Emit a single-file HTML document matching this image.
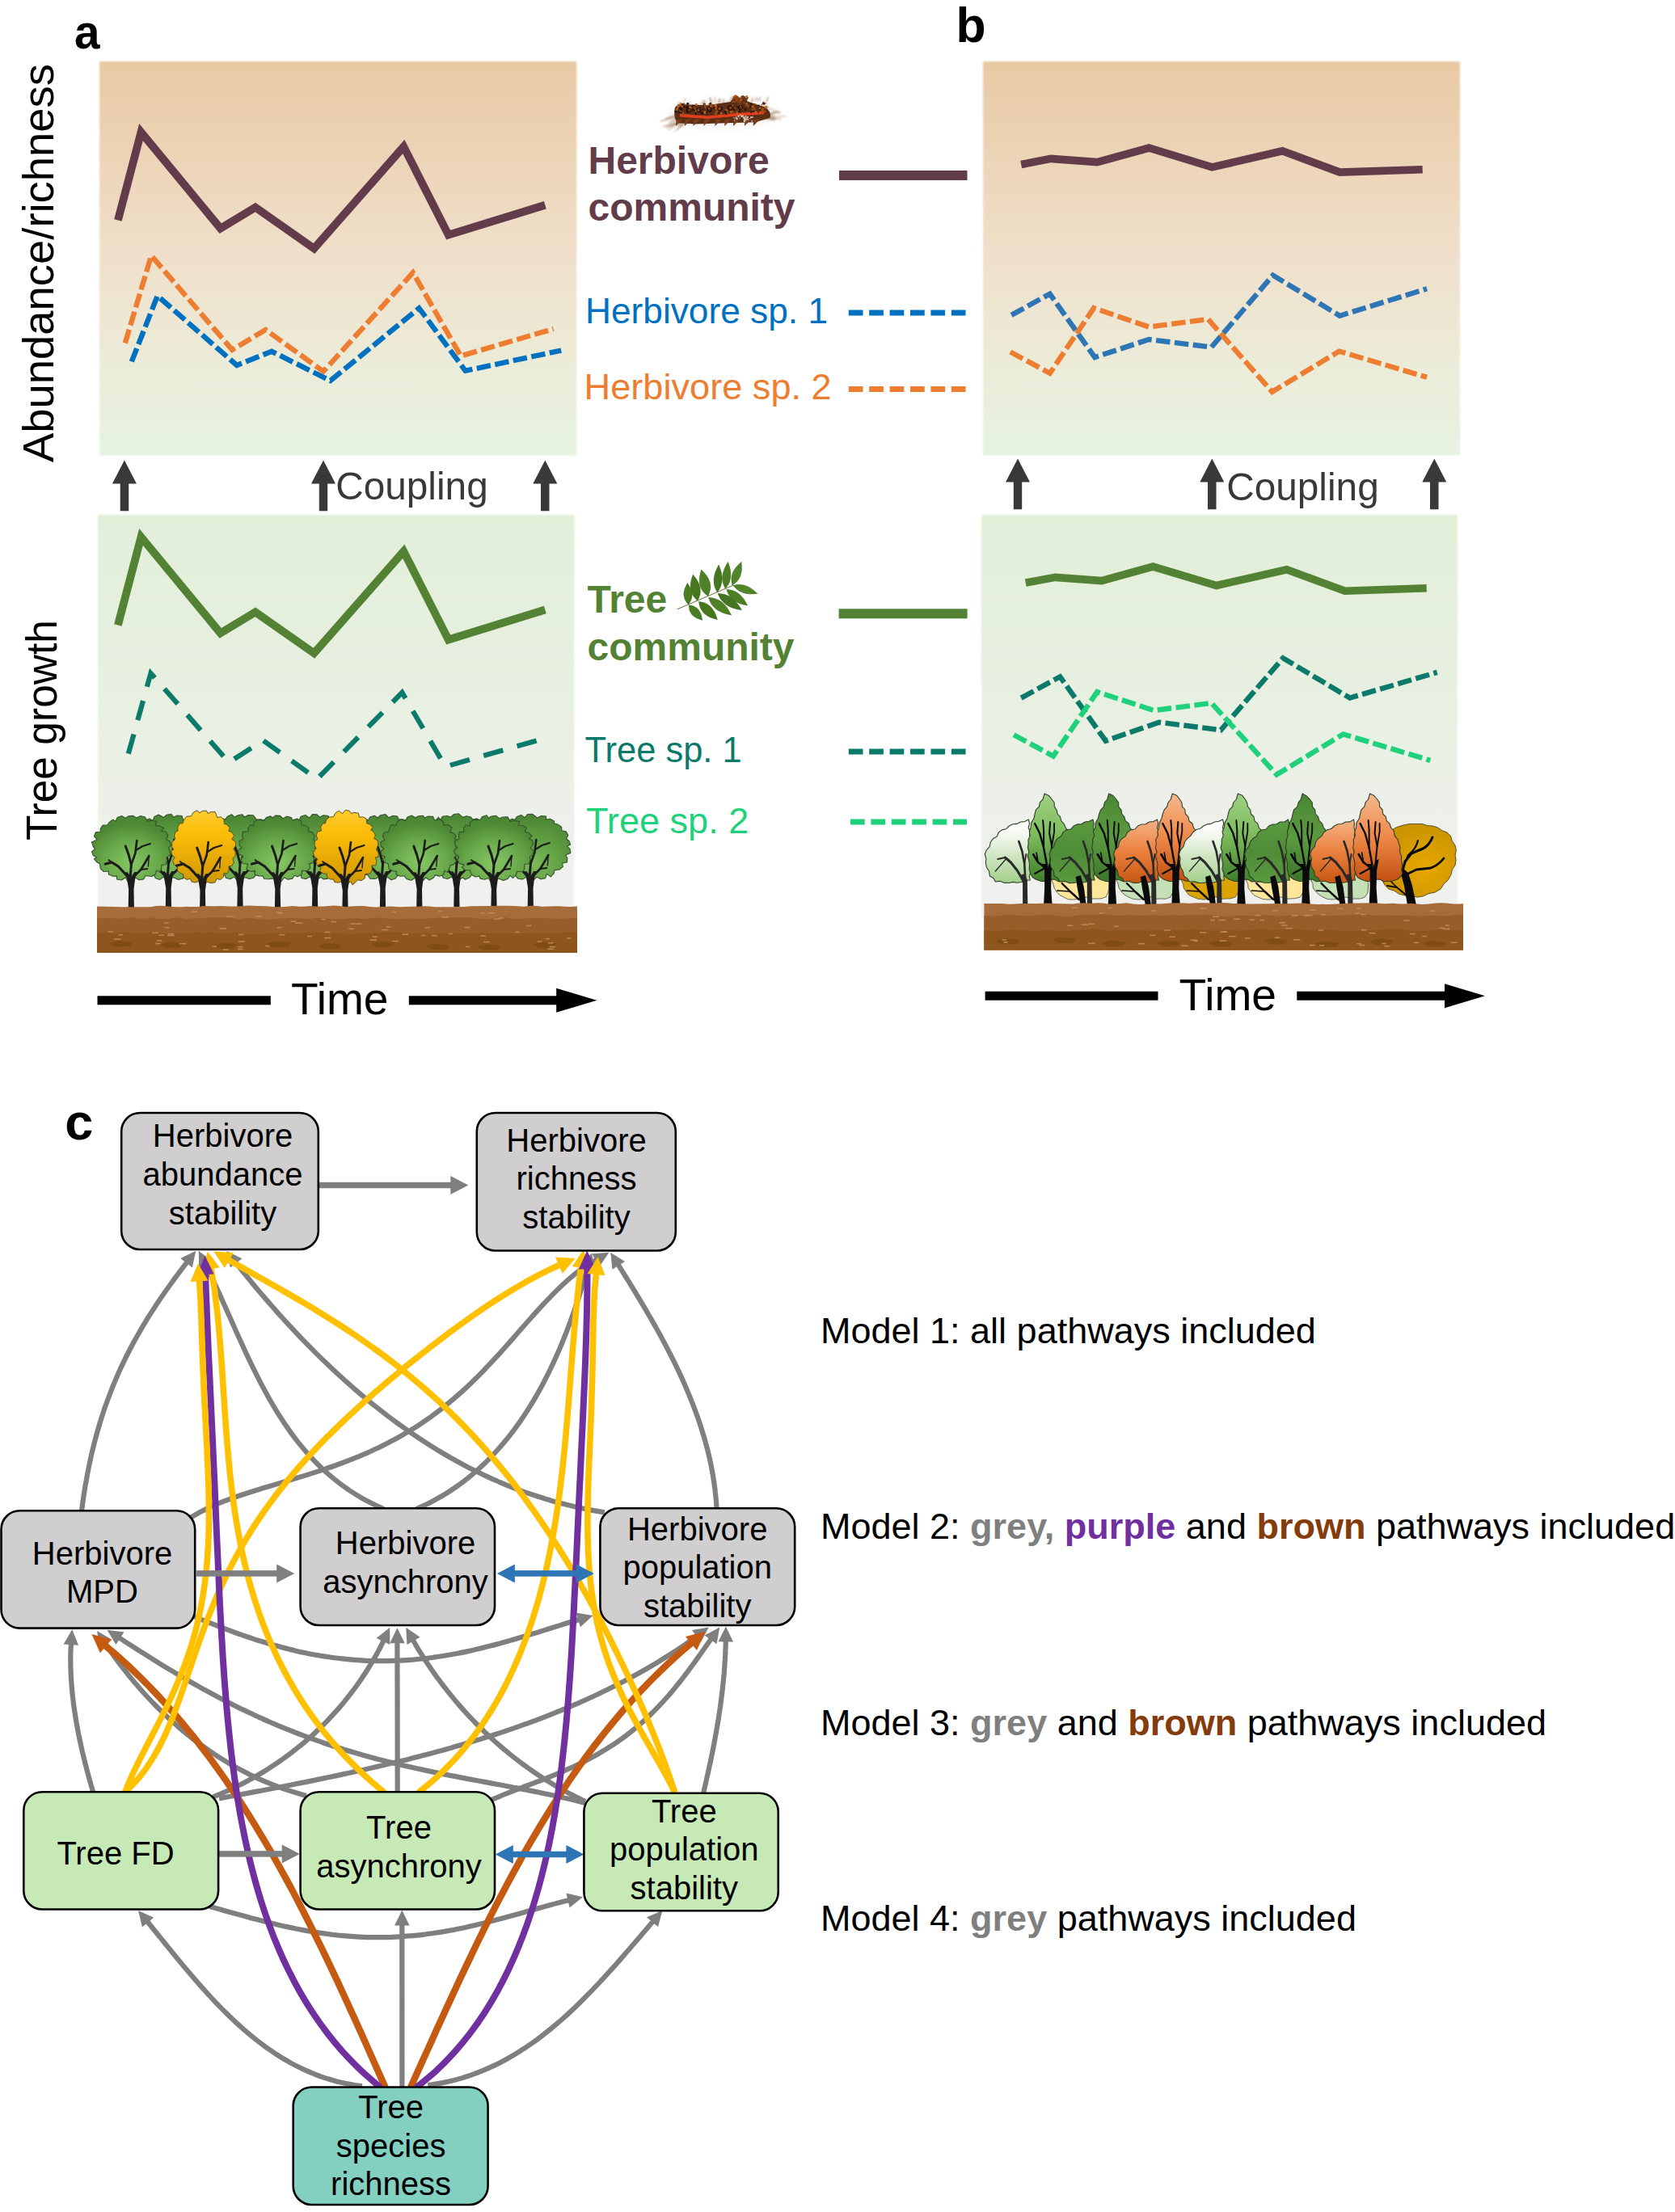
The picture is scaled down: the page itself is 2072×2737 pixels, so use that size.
<!DOCTYPE html>
<html><head><meta charset="utf-8"><title>Figure</title>
<style>
html,body{margin:0;padding:0;background:#fff;}
svg{display:block;}
text{font-family:'Liberation Sans', Arial, Helvetica, sans-serif;}
</style></head><body>
<svg width="2072" height="2737" viewBox="0 0 2072 2737">
<defs>
<linearGradient id="gTop" x1="0" y1="0" x2="0" y2="1">
  <stop offset="0" stop-color="#e8c9a4"/>
  <stop offset="0.5" stop-color="#f0e0cb"/>
  <stop offset="0.78" stop-color="#ebecd9"/>
  <stop offset="1" stop-color="#e6f3e1"/>
</linearGradient>
<linearGradient id="gBot" x1="0" y1="0" x2="0" y2="1">
  <stop offset="0" stop-color="#e2efd9"/>
  <stop offset="0.5" stop-color="#e8f0e2"/>
  <stop offset="0.72" stop-color="#edf0e9"/>
  <stop offset="0.86" stop-color="#f0f0ee"/>
  <stop offset="1" stop-color="#f1f1ef"/>
</linearGradient>
<filter id="soft" x="-2%" y="-2%" width="104%" height="104%"><feGaussianBlur stdDeviation="1.2"/></filter>

<radialGradient id="cgGreen" cx="0.5" cy="0.72" r="0.62">
  <stop offset="0" stop-color="#86c765"/><stop offset="0.55" stop-color="#69a84a"/><stop offset="1" stop-color="#4c8734"/>
</radialGradient>
<radialGradient id="cgGreenB" cx="0.5" cy="0.75" r="0.7">
  <stop offset="0" stop-color="#7dbc5c"/><stop offset="0.6" stop-color="#5f9d42"/><stop offset="1" stop-color="#4c8734"/>
</radialGradient>
<linearGradient id="cgYellow" x1="0" y1="0" x2="0" y2="1">
  <stop offset="0" stop-color="#ffcb2e"/><stop offset="0.3" stop-color="#fdbd0a"/><stop offset="1" stop-color="#cf9600"/>
</linearGradient>
<linearGradient id="tLight" x1="0" y1="0" x2="0" y2="1">
  <stop offset="0" stop-color="#9fd083"/><stop offset="0.45" stop-color="#7fbd5f"/><stop offset="1" stop-color="#3f7f2b"/>
</linearGradient>
<linearGradient id="tDark" x1="0" y1="0" x2="0" y2="1">
  <stop offset="0" stop-color="#4b8733"/><stop offset="0.5" stop-color="#5c9a40"/><stop offset="1" stop-color="#3b762a"/>
</linearGradient>
<linearGradient id="tOrange" x1="0" y1="0" x2="0" y2="1">
  <stop offset="0" stop-color="#f5b98f"/><stop offset="0.5" stop-color="#ee8848"/><stop offset="1" stop-color="#c2500f"/>
</linearGradient>
<linearGradient id="mWhite" x1="0" y1="0" x2="0" y2="1">
  <stop offset="0" stop-color="#ffffff"/><stop offset="0.25" stop-color="#f3f8ef"/><stop offset="1" stop-color="#a3cf8a"/>
</linearGradient>
<linearGradient id="mDark" x1="0" y1="0" x2="0" y2="1">
  <stop offset="0" stop-color="#5b9a40"/><stop offset="0.5" stop-color="#4f8c37"/><stop offset="1" stop-color="#5a993f"/>
</linearGradient>
<linearGradient id="mOrange" x1="0" y1="0" x2="0" y2="1">
  <stop offset="0" stop-color="#f4b386"/><stop offset="0.5" stop-color="#ec8140"/><stop offset="1" stop-color="#c5560f"/>
</linearGradient>
<radialGradient id="bushGold" cx="0.6" cy="0.6" r="0.6">
  <stop offset="0" stop-color="#e8a700"/><stop offset="1" stop-color="#c99400"/>
</radialGradient>
<filter id="fuzz" x="-20%" y="-50%" width="140%" height="200%"><feGaussianBlur stdDeviation="0.9"/></filter><filter id="fuzz2" x="-10%" y="-30%" width="120%" height="160%"><feGaussianBlur stdDeviation="0.45"/></filter><filter id="shadow" x="-20%" y="-80%" width="140%" height="260%"><feGaussianBlur stdDeviation="5"/></filter></defs>
<rect width="2072" height="2737" fill="#fff"/>
<rect x="123" y="76" width="590.3" height="487.5" fill="url(#gTop)" filter="url(#soft)"/>
<rect x="121" y="637" width="589.3" height="500" fill="url(#gBot)" filter="url(#soft)"/>
<rect x="1216" y="76" width="590" height="487.5" fill="url(#gTop)" filter="url(#soft)"/>
<rect x="1214" y="637" width="589" height="500" fill="url(#gBot)" filter="url(#soft)"/>
<text x="92.0" y="60.0" font-size="60" fill="#000" font-weight="bold" text-anchor="start" textLength="31.5" lengthAdjust="spacingAndGlyphs">a</text>
<text x="1182.4" y="51.7" font-size="60.6" fill="#000" font-weight="bold" text-anchor="start" >b</text>
<text x="80.3" y="1409.5" font-size="63" fill="#000" font-weight="bold" text-anchor="start" >c</text>
<text transform="translate(66,572) rotate(-90)" font-size="54" textLength="493" lengthAdjust="spacingAndGlyphs">Abundance/richness</text>
<text transform="translate(69.5,1040) rotate(-90)" font-size="54" textLength="273" lengthAdjust="spacingAndGlyphs">Tree growth</text>
<polyline points="145.9,272.6 174.5,163.6 272.7,282.6 315.9,256.6 388.5,307.5 499.3,181.4 554.7,290.7 674.3,253.7" fill="none" stroke="#623c4b" stroke-width="9.8" stroke-linejoin="miter" stroke-linecap="butt" stroke-miterlimit="10"/>
<polyline points="162.8,447.4 194.8,366.0 293.0,452.0 336.1,434.8 408.7,471.0 518.4,381.3 575.7,458.8 694.2,433.6" fill="none" stroke="#0070c0" stroke-width="6.4" stroke-linejoin="miter" stroke-linecap="butt" stroke-miterlimit="10" stroke-dasharray="17.5 5.5"/>
<polyline points="154.8,424.5 187.1,316.3 287.2,432.8 328.5,408.0 400.0,459.6 510.8,337.3 570.0,440.5 684.6,406.9" fill="none" stroke="#ed7d31" stroke-width="6.4" stroke-linejoin="miter" stroke-linecap="butt" stroke-miterlimit="10" stroke-dasharray="17.5 5.5"/>
<polyline points="145.9,773.4 174.5,664.4 272.7,783.4 315.9,757.4 388.5,808.3 499.3,682.2 554.7,791.5 674.3,754.5" fill="none" stroke="#548235" stroke-width="9.8" stroke-linejoin="miter" stroke-linecap="butt" stroke-miterlimit="10"/>
<polyline points="158.8,932.6 186.5,833.0 283.2,943.4 325.4,916.1 392.3,963.9 497.4,856.9 550.9,948.6 664.7,916.1" fill="none" stroke="#0b7a6b" stroke-width="6.2" stroke-linejoin="miter" stroke-linecap="butt" stroke-miterlimit="10" stroke-dasharray="25 18"/>
<polyline points="1263.2,203.5 1300.0,196.4 1357.3,200.6 1421.2,183.0 1499.3,206.9 1586.3,186.8 1657.3,213.1 1759.7,209.8" fill="none" stroke="#623c4b" stroke-width="9.6" stroke-linejoin="miter" stroke-linecap="butt" stroke-miterlimit="10"/>
<polyline points="1251.1,389.9 1298.7,363.6 1354.3,442.1 1421.2,420.0 1498.5,429.6 1574.6,340.6 1657.3,390.7 1765.1,357.3" fill="none" stroke="#2e75b6" stroke-width="6.4" stroke-linejoin="miter" stroke-linecap="butt" stroke-miterlimit="10" stroke-dasharray="17.5 5.5"/>
<polyline points="1249.8,435.5 1298.7,461.8 1353.1,381.1 1421.2,404.5 1494.3,394.9 1573.7,484.8 1656.5,434.6 1765.1,466.8" fill="none" stroke="#ed7d31" stroke-width="6.4" stroke-linejoin="miter" stroke-linecap="butt" stroke-miterlimit="10" stroke-dasharray="17.5 5.5"/>
<polyline points="1268.7,721.1 1305.4,714.4 1362.7,718.6 1426.2,701.1 1504.8,724.5 1591.7,704.8 1663.6,731.2 1764.7,727.8" fill="none" stroke="#548235" stroke-width="9.6" stroke-linejoin="miter" stroke-linecap="butt" stroke-miterlimit="10"/>
<polyline points="1263.2,863.6 1311.3,837.3 1367.7,916.7 1433.7,893.7 1510.2,903.3 1587.1,814.3 1669.8,863.6 1777.7,831.9" fill="none" stroke="#0b7a6b" stroke-width="6.4" stroke-linejoin="miter" stroke-linecap="butt" stroke-miterlimit="10" stroke-dasharray="17.5 5.5"/>
<polyline points="1254.0,909.2 1302.9,935.5 1357.2,856.1 1427.5,879.1 1498.5,869.9 1579.2,958.5 1661.5,908.4 1769.3,940.9" fill="none" stroke="#1fd17a" stroke-width="6.4" stroke-linejoin="miter" stroke-linecap="butt" stroke-miterlimit="10" stroke-dasharray="17.5 5.5"/>
<polygon points="153.9,569.6 168.9,598.6 159.2,598.6 159.2,632.3 148.7,632.3 148.7,598.6 138.9,598.6" fill="#3b3838"/>
<polygon points="400.0,569.6 415.0,598.6 405.2,598.6 405.2,632.3 394.8,632.3 394.8,598.6 385.0,598.6" fill="#3b3838"/>
<polygon points="674.3,569.6 689.3,598.6 679.5,598.6 679.5,632.3 669.0,632.3 669.0,598.6 659.3,598.6" fill="#3b3838"/>
<polygon points="1259.0,567.5 1274.0,596.5 1264.2,596.5 1264.2,630.2 1253.8,630.2 1253.8,596.5 1244.0,596.5" fill="#3b3838"/>
<polygon points="1499.3,567.5 1514.3,596.5 1504.5,596.5 1504.5,630.2 1494.0,630.2 1494.0,596.5 1484.3,596.5" fill="#3b3838"/>
<polygon points="1774.3,567.5 1789.3,596.5 1779.5,596.5 1779.5,630.2 1769.0,630.2 1769.0,596.5 1759.3,596.5" fill="#3b3838"/>
<text x="415.2" y="618.3" font-size="48.6" fill="#3b3838" font-weight="normal" text-anchor="start" textLength="188.5" lengthAdjust="spacingAndGlyphs">Coupling</text>
<text x="1517.2" y="618.8" font-size="48.6" fill="#3b3838" font-weight="normal" text-anchor="start" textLength="188.5" lengthAdjust="spacingAndGlyphs">Coupling</text>
<text x="727.5" y="215.1" font-size="48" fill="#623c4b" font-weight="bold" text-anchor="start" >Herbivore</text>
<text x="727.5" y="273.1" font-size="48" fill="#623c4b" font-weight="bold" text-anchor="start" >community</text>
<rect x="1038" y="211" width="158.5" height="12" fill="#623c4b"/>
<text x="724.0" y="399.8" font-size="44.25" fill="#0070c0" font-weight="normal" text-anchor="start" >Herbivore sp. 1</text>
<text x="722.6" y="494.3" font-size="45.15" fill="#ed7d31" font-weight="normal" text-anchor="start" >Herbivore sp. 2</text>
<line x1="1049.8" y1="386.9" x2="1195" y2="386.9" stroke="#0070c0" stroke-width="7" stroke-dasharray="17.7 7.7"/>
<line x1="1049.8" y1="481.4" x2="1195" y2="481.4" stroke="#ed7d31" stroke-width="7" stroke-dasharray="17.7 7.7"/>
<text x="726.5" y="757.7" font-size="48" fill="#548235" font-weight="bold" text-anchor="start" >Tree</text>
<text x="726.5" y="817.0" font-size="48" fill="#548235" font-weight="bold" text-anchor="start" >community</text>
<rect x="1037.6" y="753.3" width="159" height="12" fill="#548235"/>
<text x="723.5" y="942.7" font-size="43.5" fill="#0b7a6b" font-weight="normal" text-anchor="start" >Tree sp. 1</text>
<text x="725.0" y="1030.8" font-size="45.1" fill="#1fd17a" font-weight="normal" text-anchor="start" >Tree sp. 2</text>
<line x1="1049.8" y1="929.9" x2="1194.5" y2="929.9" stroke="#0b7a6b" stroke-width="7" stroke-dasharray="17.7 7.7"/>
<line x1="1052" y1="1016.9" x2="1196" y2="1016.9" stroke="#1fd17a" stroke-width="7" stroke-dasharray="17.7 7.7"/>
<rect x="120.5" y="1232.3" width="214.3" height="11" fill="#000"/>
<rect x="505.8" y="1232.3" width="183.40000000000003" height="11" fill="#000"/>
<polygon points="688.2,1222.8 738.3,1237.8 688.2,1252.8" fill="#000"/>
<text x="360.0" y="1254.7" font-size="55.5" fill="#000" font-weight="normal" text-anchor="start" textLength="120.5" lengthAdjust="spacingAndGlyphs">Time</text>
<rect x="1218.6" y="1226.7" width="213.9000000000001" height="11" fill="#000"/>
<rect x="1604.3" y="1226.7" width="183.70000000000005" height="11" fill="#000"/>
<polygon points="1787,1217.2 1836.9,1232.2 1787,1247.2" fill="#000"/>
<text x="1458.5" y="1249.6" font-size="55.5" fill="#000" font-weight="normal" text-anchor="start" textLength="120.5" lengthAdjust="spacingAndGlyphs">Time</text>
<path d="M254.3,1047.5 L257.7,1050.9 L257.4,1055.8 L252.9,1058.3 L255.1,1062.5 L252.9,1067.0 L246.5,1068.4 L246.5,1072.4 L243.9,1076.9 L237.8,1076.3 L237.6,1081.5 L232.4,1083.8 L228.1,1081.5 L226.4,1086.9 L220.8,1088.5 L214.2,1085.6 L210.4,1087.8 L204.6,1088.8 L202.6,1084.9 L197.7,1088.4 L192.2,1086.6 L190.9,1083.1 L186.4,1083.3 L180.1,1082.5 L179.4,1076.8 L174.4,1076.3 L169.8,1073.3 L172.1,1068.9 L165.7,1068.2 L163.7,1063.6 L165.8,1058.1 L160.1,1055.8 L158.8,1050.9 L163.4,1047.7 L160.4,1044.2 L160.3,1039.3 L165.3,1038.8 L162.5,1034.6 L165.4,1030.3 L171.2,1027.0 L171.5,1023.0 L174.9,1019.1 L179.4,1020.4 L179.6,1015.2 L184.8,1012.9 L189.1,1015.4 L190.9,1010.6 L196.2,1008.0 L202.5,1011.4 L206.1,1008.2 L212.0,1007.2 L214.5,1011.2 L219.0,1009.0 L225.0,1009.5 L226.5,1014.5 L231.7,1013.2 L237.8,1014.3 L238.2,1019.8 L243.1,1020.3 L247.2,1023.7 L246.5,1027.0 L251.7,1028.3 L254.2,1032.7 L252.6,1038.3 L257.5,1040.8 L259.1,1045.6Z" fill="url(#cgGreenB)" stroke="#35522a" stroke-width="1.1" stroke-linejoin="round"/>
<g stroke="#1c1c1c" fill="none" stroke-linecap="round" stroke-linejoin="round"><polygon fill="#1c1c1c" stroke="none" points="204.8,1122.0 205.2,1099.0 202.9,1085.0 199.4,1079.0 203.4,1078.0 208.4,1084.0 212.4,1078.0 216.4,1078.0 213.4,1085.0 211.6,1099.0 212.0,1122.0"/><path d="M203.4,1083.0 L192.4,1071.0 L184.4,1066.0 L176.4,1068.0" stroke-width="3.2"/><path d="M184.4,1066.0 L180.4,1063.0" stroke-width="1.8"/><path d="M207.4,1083.0 L208.4,1069.0 L205.4,1057.0 L201.4,1046.0" stroke-width="3.0"/><path d="M208.4,1069.0 L213.4,1055.0 L215.4,1039.0" stroke-width="2.6"/><path d="M214.4,1051.0 L222.4,1046.0 L231.9,1043.0" stroke-width="2.2"/><path d="M212.4,1083.0 L220.4,1075.0 L226.4,1065.0 L230.4,1058.0" stroke-width="2.6"/><path d="M220.4,1075.0 L228.4,1074.0" stroke-width="2.0"/><path d="M230.4,1058.0 L229.4,1071.0" stroke-width="1.4"/></g>
<path d="M343.3,1049.5 L346.6,1053.1 L344.6,1057.7 L340.6,1059.1 L342.7,1063.2 L340.2,1067.6 L335.9,1067.9 L336.1,1072.0 L333.4,1076.4 L327.7,1075.4 L327.6,1080.4 L322.8,1083.3 L316.4,1082.7 L313.7,1086.1 L308.2,1087.5 L303.1,1085.6 L299.3,1088.9 L293.4,1089.4 L289.7,1085.0 L284.8,1087.7 L279.3,1086.1 L278.4,1082.5 L273.6,1083.0 L268.6,1080.6 L267.8,1076.9 L262.6,1076.6 L258.4,1073.2 L259.7,1068.1 L254.9,1066.6 L251.6,1062.5 L254.4,1058.0 L250.5,1055.4 L249.1,1050.7 L252.8,1049.6 L248.8,1046.2 L248.2,1041.2 L254.3,1038.3 L252.5,1034.4 L254.1,1029.7 L260.0,1027.6 L260.0,1023.5 L263.6,1019.7 L268.4,1019.5 L269.3,1014.9 L274.6,1012.7 L278.6,1013.9 L281.3,1010.3 L286.5,1007.7 L289.9,1010.9 L293.7,1009.1 L299.5,1007.7 L302.5,1010.9 L307.0,1008.6 L313.1,1008.7 L317.4,1014.2 L322.3,1013.7 L328.2,1015.3 L327.5,1020.7 L333.7,1020.3 L337.1,1024.3 L334.4,1027.9 L339.9,1028.9 L342.6,1033.2 L341.8,1038.8 L344.8,1041.7 L345.9,1046.4Z" fill="url(#cgGreenB)" stroke="#35522a" stroke-width="1.1" stroke-linejoin="round"/>
<g stroke="#1c1c1c" fill="none" stroke-linecap="round" stroke-linejoin="round"><polygon fill="#1c1c1c" stroke="none" points="293.4,1122.0 293.8,1099.0 291.5,1085.0 288.0,1079.0 292.0,1078.0 297.0,1084.0 301.0,1078.0 305.0,1078.0 302.0,1085.0 300.2,1099.0 300.6,1122.0"/><path d="M292.0,1083.0 L281.0,1071.0 L273.0,1066.0 L265.0,1068.0" stroke-width="3.2"/><path d="M273.0,1066.0 L269.0,1063.0" stroke-width="1.8"/><path d="M296.0,1083.0 L297.0,1069.0 L294.0,1057.0 L290.0,1046.0" stroke-width="3.0"/><path d="M297.0,1069.0 L302.0,1055.0 L304.0,1039.0" stroke-width="2.6"/><path d="M303.0,1051.0 L311.0,1046.0 L320.5,1043.0" stroke-width="2.2"/><path d="M301.0,1083.0 L309.0,1075.0 L315.0,1065.0 L319.0,1058.0" stroke-width="2.6"/><path d="M309.0,1075.0 L317.0,1074.0" stroke-width="2.0"/><path d="M319.0,1058.0 L318.0,1071.0" stroke-width="1.4"/></g>
<path d="M435.9,1048.1 L439.3,1051.6 L437.9,1056.3 L433.3,1059.9 L434.0,1063.6 L433.9,1069.0 L428.2,1067.9 L428.9,1072.3 L426.0,1076.7 L420.7,1076.2 L420.1,1080.8 L415.2,1083.6 L408.1,1082.8 L405.7,1087.1 L399.9,1087.9 L396.9,1085.3 L393.3,1087.8 L387.4,1090.1 L383.4,1084.8 L378.6,1087.6 L372.9,1086.5 L372.4,1082.3 L367.2,1083.8 L362.2,1081.2 L360.4,1076.5 L355.7,1075.8 L350.1,1073.4 L353.4,1069.3 L347.3,1068.6 L345.1,1064.0 L346.8,1059.1 L342.7,1056.6 L340.9,1051.9 L345.0,1048.4 L342.7,1045.0 L341.1,1039.9 L347.3,1038.6 L344.8,1034.4 L345.6,1029.4 L352.4,1028.0 L351.9,1023.6 L355.6,1019.8 L361.0,1020.1 L362.4,1016.3 L366.8,1013.1 L370.1,1014.7 L372.2,1010.3 L377.7,1008.4 L382.9,1012.0 L386.3,1007.5 L392.2,1007.8 L395.5,1011.2 L400.1,1008.8 L405.9,1009.6 L408.6,1014.6 L413.8,1013.3 L419.2,1015.5 L420.0,1020.5 L425.1,1020.9 L430.6,1023.5 L427.7,1027.2 L432.3,1028.8 L436.3,1032.6 L433.7,1038.4 L438.1,1040.9 L438.8,1045.7Z" fill="url(#cgGreenB)" stroke="#35522a" stroke-width="1.1" stroke-linejoin="round"/>
<g stroke="#1c1c1c" fill="none" stroke-linecap="round" stroke-linejoin="round"><polygon fill="#1c1c1c" stroke="none" points="386.0,1122.0 386.4,1099.0 384.1,1085.0 380.6,1079.0 384.6,1078.0 389.6,1084.0 393.6,1078.0 397.6,1078.0 394.6,1085.0 392.8,1099.0 393.2,1122.0"/><path d="M384.6,1083.0 L373.6,1071.0 L365.6,1066.0 L357.6,1068.0" stroke-width="3.2"/><path d="M365.6,1066.0 L361.6,1063.0" stroke-width="1.8"/><path d="M388.6,1083.0 L389.6,1069.0 L386.6,1057.0 L382.6,1046.0" stroke-width="3.0"/><path d="M389.6,1069.0 L394.6,1055.0 L396.6,1039.0" stroke-width="2.6"/><path d="M395.6,1051.0 L403.6,1046.0 L413.1,1043.0" stroke-width="2.2"/><path d="M393.6,1083.0 L401.6,1075.0 L407.6,1065.0 L411.6,1058.0" stroke-width="2.6"/><path d="M401.6,1075.0 L409.6,1074.0" stroke-width="2.0"/><path d="M411.6,1058.0 L410.6,1071.0" stroke-width="1.4"/></g>
<path d="M519.4,1048.8 L523.3,1052.3 L521.6,1057.0 L518.1,1058.0 L519.4,1061.8 L518.0,1066.5 L511.0,1069.0 L512.5,1074.1 L508.4,1077.7 L505.0,1076.3 L503.8,1080.3 L498.8,1082.9 L492.0,1083.1 L489.4,1087.0 L483.9,1088.7 L478.8,1084.9 L475.2,1089.5 L469.2,1089.3 L468.3,1085.6 L463.9,1087.4 L457.8,1087.3 L454.7,1082.2 L450.0,1082.5 L444.3,1080.8 L444.7,1077.2 L439.0,1077.4 L434.7,1073.9 L436.4,1068.3 L430.6,1067.3 L428.3,1062.8 L430.8,1057.6 L425.1,1055.2 L425.7,1050.2 L429.1,1047.7 L425.5,1044.2 L426.1,1039.3 L430.6,1038.4 L427.9,1034.1 L430.5,1029.7 L435.4,1028.3 L435.8,1024.5 L438.7,1020.2 L444.5,1020.1 L445.9,1016.3 L449.7,1012.3 L455.5,1014.9 L457.8,1010.8 L463.3,1009.3 L467.2,1012.0 L470.7,1008.7 L476.6,1007.5 L481.0,1011.8 L485.6,1009.4 L491.5,1010.1 L493.3,1014.0 L497.8,1013.9 L503.8,1015.2 L504.1,1019.9 L509.3,1020.2 L512.5,1024.3 L511.6,1027.0 L515.9,1028.7 L519.8,1032.6 L517.0,1036.9 L521.1,1039.4 L523.0,1044.0Z" fill="url(#cgGreenB)" stroke="#35522a" stroke-width="1.1" stroke-linejoin="round"/>
<g stroke="#1c1c1c" fill="none" stroke-linecap="round" stroke-linejoin="round"><polygon fill="#1c1c1c" stroke="none" points="469.9,1122.0 470.3,1099.0 468.0,1085.0 464.5,1079.0 468.5,1078.0 473.5,1084.0 477.5,1078.0 481.5,1078.0 478.5,1085.0 476.7,1099.0 477.1,1122.0"/><path d="M468.5,1083.0 L457.5,1071.0 L449.5,1066.0 L441.5,1068.0" stroke-width="3.2"/><path d="M449.5,1066.0 L445.5,1063.0" stroke-width="1.8"/><path d="M472.5,1083.0 L473.5,1069.0 L470.5,1057.0 L466.5,1046.0" stroke-width="3.0"/><path d="M473.5,1069.0 L478.5,1055.0 L480.5,1039.0" stroke-width="2.6"/><path d="M479.5,1051.0 L487.5,1046.0 L497.0,1043.0" stroke-width="2.2"/><path d="M477.5,1083.0 L485.5,1075.0 L491.5,1065.0 L495.5,1058.0" stroke-width="2.6"/><path d="M485.5,1075.0 L493.5,1074.0" stroke-width="2.0"/><path d="M495.5,1058.0 L494.5,1071.0" stroke-width="1.4"/></g>
<path d="M610.3,1048.5 L614.5,1052.0 L613.2,1056.8 L608.4,1058.9 L610.5,1063.0 L609.8,1068.1 L603.9,1067.7 L604.2,1071.8 L601.3,1076.1 L593.6,1077.3 L592.7,1081.9 L587.9,1084.6 L583.5,1082.6 L580.8,1085.9 L575.5,1088.3 L572.2,1085.7 L568.5,1088.6 L562.6,1088.7 L558.5,1085.0 L553.8,1087.5 L548.2,1086.2 L546.7,1082.8 L541.8,1083.6 L536.1,1081.8 L535.2,1076.3 L529.7,1076.1 L525.8,1072.5 L526.9,1068.5 L523.0,1066.5 L518.3,1063.0 L522.8,1059.1 L518.6,1056.6 L516.6,1052.0 L520.5,1049.5 L517.1,1046.2 L516.5,1041.2 L521.4,1037.8 L519.8,1033.8 L522.2,1029.4 L527.8,1027.3 L526.9,1022.5 L530.7,1018.7 L537.3,1019.7 L538.4,1015.5 L542.3,1011.3 L545.0,1014.5 L547.3,1010.3 L553.1,1009.5 L557.8,1011.0 L561.4,1007.5 L567.4,1006.9 L572.6,1011.2 L577.0,1009.7 L582.6,1011.0 L584.8,1014.1 L590.1,1012.9 L595.0,1015.7 L593.5,1019.7 L599.0,1019.5 L603.2,1022.9 L602.1,1027.4 L607.6,1028.5 L610.2,1032.8 L607.8,1037.1 L611.7,1039.6 L615.1,1044.0Z" fill="url(#cgGreenB)" stroke="#35522a" stroke-width="1.1" stroke-linejoin="round"/>
<g stroke="#1c1c1c" fill="none" stroke-linecap="round" stroke-linejoin="round"><polygon fill="#1c1c1c" stroke="none" points="561.3,1122.0 561.7,1099.0 559.4,1085.0 555.9,1079.0 559.9,1078.0 564.9,1084.0 568.9,1078.0 572.9,1078.0 569.9,1085.0 568.1,1099.0 568.5,1122.0"/><path d="M559.9,1083.0 L548.9,1071.0 L540.9,1066.0 L532.9,1068.0" stroke-width="3.2"/><path d="M540.9,1066.0 L536.9,1063.0" stroke-width="1.8"/><path d="M563.9,1083.0 L564.9,1069.0 L561.9,1057.0 L557.9,1046.0" stroke-width="3.0"/><path d="M564.9,1069.0 L569.9,1055.0 L571.9,1039.0" stroke-width="2.6"/><path d="M570.9,1051.0 L578.9,1046.0 L588.4,1043.0" stroke-width="2.2"/><path d="M568.9,1083.0 L576.9,1075.0 L582.9,1065.0 L586.9,1058.0" stroke-width="2.6"/><path d="M576.9,1075.0 L584.9,1074.0" stroke-width="2.0"/><path d="M586.9,1058.0 L585.9,1071.0" stroke-width="1.4"/></g>
<path d="M701.3,1047.2 L705.1,1050.5 L705.8,1055.5 L699.8,1057.9 L701.9,1061.9 L701.4,1067.0 L695.7,1068.0 L696.3,1072.4 L692.3,1075.9 L686.2,1076.6 L685.1,1080.9 L681.2,1084.9 L676.3,1081.4 L674.7,1086.6 L669.0,1087.8 L664.1,1085.0 L660.6,1088.3 L654.7,1090.1 L651.3,1085.1 L646.7,1087.9 L640.8,1087.2 L636.6,1082.3 L631.8,1082.6 L626.7,1080.1 L626.0,1076.5 L621.9,1075.2 L616.4,1072.7 L618.0,1067.9 L613.8,1066.0 L609.7,1062.2 L613.8,1058.3 L608.7,1055.8 L608.1,1051.0 L612.0,1049.6 L608.7,1046.2 L608.4,1041.3 L613.1,1037.4 L610.8,1033.1 L612.6,1028.3 L619.3,1026.9 L619.7,1023.0 L623.3,1019.2 L627.5,1019.9 L628.4,1015.4 L633.6,1013.2 L636.9,1014.3 L639.4,1010.6 L644.8,1008.4 L649.2,1011.7 L652.6,1007.6 L658.5,1007.3 L664.6,1012.0 L669.4,1009.6 L675.5,1010.0 L675.6,1014.0 L680.6,1013.2 L685.4,1015.9 L685.9,1019.0 L690.1,1020.1 L694.7,1023.1 L694.8,1027.7 L700.2,1028.9 L702.7,1033.4 L700.5,1037.8 L703.9,1040.5 L705.7,1045.1Z" fill="url(#cgGreenB)" stroke="#35522a" stroke-width="1.1" stroke-linejoin="round"/>
<g stroke="#1c1c1c" fill="none" stroke-linecap="round" stroke-linejoin="round"><polygon fill="#1c1c1c" stroke="none" points="652.7,1122.0 653.1,1099.0 650.8,1085.0 647.3,1079.0 651.3,1078.0 656.3,1084.0 660.3,1078.0 664.3,1078.0 661.3,1085.0 659.5,1099.0 659.9,1122.0"/><path d="M651.3,1083.0 L640.3,1071.0 L632.3,1066.0 L624.3,1068.0" stroke-width="3.2"/><path d="M632.3,1066.0 L628.3,1063.0" stroke-width="1.8"/><path d="M655.3,1083.0 L656.3,1069.0 L653.3,1057.0 L649.3,1046.0" stroke-width="3.0"/><path d="M656.3,1069.0 L661.3,1055.0 L663.3,1039.0" stroke-width="2.6"/><path d="M662.3,1051.0 L670.3,1046.0 L679.8,1043.0" stroke-width="2.2"/><path d="M660.3,1083.0 L668.3,1075.0 L674.3,1065.0 L678.3,1058.0" stroke-width="2.6"/><path d="M668.3,1075.0 L676.3,1074.0" stroke-width="2.0"/><path d="M678.3,1058.0 L677.3,1071.0" stroke-width="1.4"/></g>
<path d="M208.5,1049.3 L210.2,1052.7 L210.7,1057.6 L205.9,1061.1 L206.7,1064.9 L205.3,1069.7 L200.0,1070.4 L199.7,1074.2 L197.7,1079.3 L193.4,1077.1 L192.5,1081.5 L187.9,1084.5 L180.0,1083.5 L177.7,1087.9 L172.0,1088.8 L167.7,1086.1 L164.0,1089.6 L158.1,1090.7 L155.3,1085.7 L150.4,1089.0 L144.5,1088.0 L144.4,1083.9 L139.7,1084.2 L134.5,1082.1 L134.2,1078.0 L128.3,1078.5 L124.3,1074.9 L123.5,1068.8 L119.7,1066.7 L116.3,1062.7 L119.8,1061.0 L115.3,1058.6 L113.5,1053.9 L117.5,1050.5 L115.1,1047.1 L113.5,1042.1 L120.1,1039.1 L116.5,1034.6 L118.4,1029.8 L124.0,1029.3 L124.4,1025.4 L127.1,1021.0 L133.1,1020.8 L135.0,1017.4 L139.5,1014.3 L143.2,1015.9 L145.1,1011.4 L150.6,1009.4 L155.1,1012.3 L158.8,1009.9 L164.5,1009.4 L169.2,1011.9 L173.9,1009.5 L179.5,1011.1 L182.2,1016.1 L187.2,1015.3 L193.5,1016.3 L192.4,1021.8 L197.8,1021.9 L202.9,1024.7 L199.6,1028.5 L205.6,1029.3 L207.8,1033.8 L205.9,1038.7 L210.3,1041.2 L211.6,1045.9Z" fill="url(#cgGreen)" stroke="#35522a" stroke-width="1.1" stroke-linejoin="round"/>
<g stroke="#1c1c1c" fill="none" stroke-linecap="round" stroke-linejoin="round"><polygon fill="#1c1c1c" stroke="none" points="158.7,1123.0 159.1,1100.0 156.8,1086.0 153.3,1080.0 157.3,1079.0 162.3,1085.0 166.3,1079.0 170.3,1079.0 167.3,1086.0 165.5,1100.0 165.9,1123.0"/><path d="M157.3,1084.0 L146.3,1072.0 L138.3,1067.0 L130.3,1069.0" stroke-width="3.2"/><path d="M138.3,1067.0 L134.3,1064.0" stroke-width="1.8"/><path d="M161.3,1084.0 L162.3,1070.0 L159.3,1058.0 L155.3,1047.0" stroke-width="3.0"/><path d="M162.3,1070.0 L167.3,1056.0 L169.3,1040.0" stroke-width="2.6"/><path d="M168.3,1052.0 L176.3,1047.0 L185.8,1044.0" stroke-width="2.2"/><path d="M166.3,1084.0 L174.3,1076.0 L180.3,1066.0 L184.3,1059.0" stroke-width="2.6"/><path d="M174.3,1076.0 L182.3,1075.0" stroke-width="2.0"/><path d="M184.3,1059.0 L183.3,1072.0" stroke-width="1.4"/></g>
<path d="M288.7,1050.4 L291.3,1054.2 L291.0,1059.5 L287.8,1062.4 L289.4,1067.0 L286.7,1071.4 L283.0,1071.9 L283.3,1076.5 L280.9,1081.2 L277.0,1080.1 L276.5,1085.1 L272.7,1088.5 L268.1,1087.4 L266.1,1091.8 L261.3,1092.7 L256.4,1091.3 L253.2,1093.9 L248.4,1094.1 L245.3,1090.6 L241.7,1092.0 L237.0,1091.0 L235.4,1087.3 L231.0,1088.4 L226.8,1085.8 L226.8,1081.7 L223.2,1080.6 L219.4,1077.1 L219.7,1071.7 L215.5,1070.0 L213.5,1065.1 L216.2,1060.9 L212.9,1058.1 L211.6,1052.9 L214.6,1051.2 L212.7,1047.5 L212.7,1042.3 L216.8,1038.2 L215.6,1034.0 L217.2,1029.1 L220.0,1028.2 L219.8,1023.7 L222.2,1018.9 L226.2,1018.8 L227.4,1014.7 L230.7,1010.3 L236.6,1009.8 L238.9,1005.5 L243.6,1002.8 L247.0,1005.8 L250.4,1003.3 L255.5,1003.2 L257.0,1006.5 L260.8,1004.7 L266.1,1004.6 L268.8,1011.5 L273.2,1010.7 L277.0,1014.1 L277.3,1019.3 L281.0,1020.4 L284.1,1024.4 L282.8,1028.2 L286.8,1029.8 L289.6,1034.2 L286.7,1038.4 L291.1,1040.9 L291.9,1046.1Z" fill="url(#cgYellow)" stroke="#5b5020" stroke-width="1" stroke-linejoin="round"/>
<g stroke="#1c1c1c" fill="none" stroke-linecap="round" stroke-linejoin="round"><polygon fill="#1c1c1c" stroke="none" points="247.1,1125.0 247.5,1102.0 245.2,1088.0 241.7,1082.0 245.7,1081.0 250.7,1087.0 254.7,1081.0 258.7,1081.0 255.7,1088.0 253.9,1102.0 254.3,1125.0"/><path d="M245.7,1086.0 L234.7,1074.0 L226.7,1069.0 L218.7,1071.0" stroke-width="3.2"/><path d="M226.7,1069.0 L222.7,1066.0" stroke-width="1.8"/><path d="M249.7,1086.0 L250.7,1072.0 L247.7,1060.0 L243.7,1049.0" stroke-width="3.0"/><path d="M250.7,1072.0 L255.7,1058.0 L257.7,1042.0" stroke-width="2.6"/><path d="M256.7,1054.0 L264.7,1049.0 L274.2,1046.0" stroke-width="2.2"/><path d="M254.7,1086.0 L262.7,1078.0 L268.7,1068.0 L272.7,1061.0" stroke-width="2.6"/><path d="M262.7,1078.0 L270.7,1077.0" stroke-width="2.0"/><path d="M272.7,1061.0 L271.7,1074.0" stroke-width="1.4"/></g>
<path d="M389.2,1049.2 L393.2,1052.6 L391.7,1057.4 L386.8,1059.1 L388.8,1063.0 L387.0,1067.6 L382.5,1068.9 L384.0,1073.7 L380.3,1077.6 L373.7,1077.3 L373.1,1082.0 L368.2,1084.7 L364.2,1083.3 L361.7,1087.1 L356.1,1088.3 L351.6,1085.7 L348.3,1090.3 L342.4,1089.5 L337.1,1086.9 L332.8,1087.7 L326.8,1087.5 L325.0,1083.9 L320.5,1084.0 L315.1,1082.0 L315.5,1077.6 L309.5,1078.1 L304.7,1075.1 L306.8,1069.4 L300.7,1068.5 L297.5,1064.3 L300.8,1059.5 L295.6,1057.1 L294.5,1052.3 L298.8,1049.2 L296.2,1045.8 L295.8,1040.8 L300.7,1038.1 L299.4,1034.2 L300.3,1029.1 L307.2,1028.8 L306.8,1024.5 L310.0,1020.4 L313.1,1021.8 L314.0,1017.5 L318.5,1014.3 L326.7,1015.1 L329.4,1011.6 L334.9,1009.9 L337.0,1012.0 L340.7,1009.1 L346.5,1009.4 L350.1,1013.0 L354.8,1010.0 L360.4,1011.6 L361.9,1014.9 L367.3,1013.4 L372.5,1015.8 L373.2,1020.7 L378.0,1021.3 L382.0,1024.7 L381.8,1028.6 L386.8,1030.0 L389.2,1034.4 L388.1,1039.6 L391.3,1042.4 L394.3,1047.0Z" fill="url(#cgGreen)" stroke="#35522a" stroke-width="1.1" stroke-linejoin="round"/>
<g stroke="#1c1c1c" fill="none" stroke-linecap="round" stroke-linejoin="round"><polygon fill="#1c1c1c" stroke="none" points="339.9,1123.0 340.3,1100.0 338.0,1086.0 334.5,1080.0 338.5,1079.0 343.5,1085.0 347.5,1079.0 351.5,1079.0 348.5,1086.0 346.7,1100.0 347.1,1123.0"/><path d="M338.5,1084.0 L327.5,1072.0 L319.5,1067.0 L311.5,1069.0" stroke-width="3.2"/><path d="M319.5,1067.0 L315.5,1064.0" stroke-width="1.8"/><path d="M342.5,1084.0 L343.5,1070.0 L340.5,1058.0 L336.5,1047.0" stroke-width="3.0"/><path d="M343.5,1070.0 L348.5,1056.0 L350.5,1040.0" stroke-width="2.6"/><path d="M349.5,1052.0 L357.5,1047.0 L367.0,1044.0" stroke-width="2.2"/><path d="M347.5,1084.0 L355.5,1076.0 L361.5,1066.0 L365.5,1059.0" stroke-width="2.6"/><path d="M355.5,1076.0 L363.5,1075.0" stroke-width="2.0"/><path d="M365.5,1059.0 L364.5,1072.0" stroke-width="1.4"/></g>
<path d="M465.5,1051.1 L468.0,1055.0 L468.2,1060.5 L464.3,1060.9 L465.8,1065.3 L464.9,1070.8 L459.8,1071.0 L460.3,1075.7 L458.3,1080.8 L451.7,1081.5 L451.2,1086.9 L447.0,1089.7 L442.8,1088.7 L440.1,1091.4 L435.9,1094.8 L433.4,1090.5 L430.4,1094.0 L425.7,1094.0 L422.1,1090.9 L418.5,1092.2 L413.7,1091.4 L412.4,1088.0 L408.6,1088.1 L404.4,1085.5 L404.2,1081.1 L399.9,1080.9 L395.6,1077.9 L397.2,1073.0 L392.7,1071.7 L390.9,1066.7 L392.7,1062.6 L388.9,1060.0 L387.4,1054.8 L391.2,1049.5 L389.0,1045.8 L389.7,1040.6 L393.0,1038.4 L391.2,1034.0 L392.9,1029.0 L397.4,1028.0 L396.7,1023.0 L399.7,1018.8 L402.3,1018.9 L403.6,1014.8 L407.1,1011.0 L412.5,1010.7 L414.6,1006.3 L419.2,1003.2 L423.7,1006.7 L426.9,1002.5 L432.1,1003.2 L434.5,1006.6 L438.3,1005.3 L443.4,1006.2 L444.5,1011.3 L448.7,1010.7 L453.2,1013.1 L453.7,1018.8 L457.4,1019.9 L460.9,1023.7 L458.6,1027.2 L462.2,1029.0 L464.4,1033.6 L462.6,1037.5 L467.1,1039.9 L467.9,1045.1Z" fill="url(#cgYellow)" stroke="#5b5020" stroke-width="1" stroke-linejoin="round"/>
<g stroke="#1c1c1c" fill="none" stroke-linecap="round" stroke-linejoin="round"><polygon fill="#1c1c1c" stroke="none" points="423.4,1125.0 423.8,1102.0 421.5,1088.0 418.0,1082.0 422.0,1081.0 427.0,1087.0 431.0,1081.0 435.0,1081.0 432.0,1088.0 430.2,1102.0 430.6,1125.0"/><path d="M422.0,1086.0 L411.0,1074.0 L403.0,1069.0 L395.0,1071.0" stroke-width="3.2"/><path d="M403.0,1069.0 L399.0,1066.0" stroke-width="1.8"/><path d="M426.0,1086.0 L427.0,1072.0 L424.0,1060.0 L420.0,1049.0" stroke-width="3.0"/><path d="M427.0,1072.0 L432.0,1058.0 L434.0,1042.0" stroke-width="2.6"/><path d="M433.0,1054.0 L441.0,1049.0 L450.5,1046.0" stroke-width="2.2"/><path d="M431.0,1086.0 L439.0,1078.0 L445.0,1068.0 L449.0,1061.0" stroke-width="2.6"/><path d="M439.0,1078.0 L447.0,1077.0" stroke-width="2.0"/><path d="M449.0,1061.0 L448.0,1074.0" stroke-width="1.4"/></g>
<path d="M563.8,1049.5 L568.1,1053.0 L567.2,1057.8 L561.7,1060.9 L564.5,1065.3 L561.5,1069.5 L556.9,1070.9 L556.1,1074.5 L553.6,1079.2 L549.5,1077.2 L549.1,1082.0 L543.8,1084.2 L538.5,1082.6 L536.2,1086.3 L531.1,1089.1 L526.7,1085.8 L523.2,1089.8 L517.4,1089.9 L513.4,1086.2 L508.7,1089.3 L503.1,1087.6 L499.8,1083.7 L494.9,1084.3 L489.9,1081.8 L490.5,1078.4 L485.8,1077.7 L481.0,1074.9 L480.4,1069.1 L476.3,1067.2 L473.1,1063.1 L476.5,1060.4 L471.8,1058.0 L471.0,1053.2 L474.8,1050.4 L471.2,1047.0 L470.7,1042.1 L476.0,1039.3 L473.3,1035.1 L474.9,1030.3 L480.7,1029.1 L481.5,1025.6 L483.8,1020.8 L490.3,1021.0 L491.3,1016.7 L496.1,1013.8 L501.5,1015.5 L503.8,1011.2 L509.2,1009.0 L513.8,1011.8 L517.6,1009.8 L523.4,1009.3 L525.1,1011.9 L529.6,1010.0 L535.6,1010.4 L537.9,1015.3 L543.5,1013.5 L548.2,1016.5 L548.8,1020.9 L554.5,1020.8 L559.1,1024.0 L556.7,1029.6 L561.5,1031.0 L564.5,1035.2 L562.3,1037.6 L566.3,1040.1 L567.5,1044.8Z" fill="url(#cgGreen)" stroke="#35522a" stroke-width="1.1" stroke-linejoin="round"/>
<g stroke="#1c1c1c" fill="none" stroke-linecap="round" stroke-linejoin="round"><polygon fill="#1c1c1c" stroke="none" points="515.2,1123.0 515.6,1100.0 513.3,1086.0 509.8,1080.0 513.8,1079.0 518.8,1085.0 522.8,1079.0 526.8,1079.0 523.8,1086.0 522.0,1100.0 522.4,1123.0"/><path d="M513.8,1084.0 L502.8,1072.0 L494.8,1067.0 L486.8,1069.0" stroke-width="3.2"/><path d="M494.8,1067.0 L490.8,1064.0" stroke-width="1.8"/><path d="M517.8,1084.0 L518.8,1070.0 L515.8,1058.0 L511.8,1047.0" stroke-width="3.0"/><path d="M518.8,1070.0 L523.8,1056.0 L525.8,1040.0" stroke-width="2.6"/><path d="M524.8,1052.0 L532.8,1047.0 L542.3,1044.0" stroke-width="2.2"/><path d="M522.8,1084.0 L530.8,1076.0 L536.8,1066.0 L540.8,1059.0" stroke-width="2.6"/><path d="M530.8,1076.0 L538.8,1075.0" stroke-width="2.0"/><path d="M540.8,1059.0 L539.8,1072.0" stroke-width="1.4"/></g>
<path d="M656.2,1049.4 L660.2,1052.9 L659.3,1057.6 L655.5,1060.0 L656.0,1063.7 L654.7,1068.5 L648.6,1069.7 L649.0,1074.0 L646.8,1078.8 L639.7,1078.2 L638.4,1082.2 L634.6,1086.5 L630.8,1083.3 L628.4,1087.3 L623.0,1089.4 L616.7,1087.1 L612.9,1089.9 L606.9,1090.7 L604.1,1086.4 L599.6,1088.3 L593.9,1087.1 L593.1,1084.1 L588.1,1085.0 L583.4,1082.1 L581.3,1076.7 L575.4,1076.8 L571.5,1073.2 L574.3,1069.9 L568.8,1068.8 L565.9,1064.6 L567.8,1059.7 L563.1,1057.2 L561.5,1052.4 L565.6,1049.1 L563.1,1045.6 L562.4,1040.6 L568.0,1038.0 L567.4,1034.3 L568.4,1029.3 L574.1,1029.5 L573.3,1025.0 L576.3,1020.7 L581.3,1022.5 L581.5,1017.6 L586.1,1014.5 L593.9,1014.5 L596.5,1010.5 L602.1,1008.7 L604.2,1012.2 L607.9,1010.0 L613.6,1009.2 L617.5,1012.7 L621.9,1011.0 L628.0,1010.8 L631.2,1016.4 L636.4,1015.4 L642.6,1016.7 L641.1,1021.3 L646.3,1021.5 L651.4,1024.3 L649.3,1029.2 L654.2,1030.7 L658.1,1034.5 L654.3,1037.7 L659.1,1040.1 L659.5,1044.9Z" fill="url(#cgGreen)" stroke="#35522a" stroke-width="1.1" stroke-linejoin="round"/>
<g stroke="#1c1c1c" fill="none" stroke-linecap="round" stroke-linejoin="round"><polygon fill="#1c1c1c" stroke="none" points="607.4,1123.0 607.8,1100.0 605.5,1086.0 602.0,1080.0 606.0,1079.0 611.0,1085.0 615.0,1079.0 619.0,1079.0 616.0,1086.0 614.2,1100.0 614.6,1123.0"/><path d="M606.0,1084.0 L595.0,1072.0 L587.0,1067.0 L579.0,1069.0" stroke-width="3.2"/><path d="M587.0,1067.0 L583.0,1064.0" stroke-width="1.8"/><path d="M610.0,1084.0 L611.0,1070.0 L608.0,1058.0 L604.0,1047.0" stroke-width="3.0"/><path d="M611.0,1070.0 L616.0,1056.0 L618.0,1040.0" stroke-width="2.6"/><path d="M617.0,1052.0 L625.0,1047.0 L634.5,1044.0" stroke-width="2.2"/><path d="M615.0,1084.0 L623.0,1076.0 L629.0,1066.0 L633.0,1059.0" stroke-width="2.6"/><path d="M623.0,1076.0 L631.0,1075.0" stroke-width="2.0"/><path d="M633.0,1059.0 L632.0,1072.0" stroke-width="1.4"/></g>
<path d="M120,1179 L120,1121.5 Q131.0,1121.9 142.0,1121.9 Q153.0,1122.4 164.0,1122.2 Q175.0,1122.3 186.0,1122.2 Q197.0,1120.0 208.0,1121.4 Q219.0,1122.9 230.0,1121.7 Q241.0,1122.8 252.0,1120.9 Q263.0,1121.4 274.0,1121.1 Q285.0,1121.6 296.0,1121.6 Q307.0,1119.9 318.0,1121.0 Q329.0,1120.8 340.0,1122.2 Q351.0,1122.4 362.0,1121.0 Q373.0,1122.5 384.0,1120.9 Q395.0,1121.9 406.0,1120.9 Q417.0,1119.9 428.0,1122.1 Q439.0,1120.6 450.0,1121.0 Q461.0,1123.0 472.0,1122.1 Q483.0,1120.8 494.0,1122.2 Q505.0,1121.6 516.0,1121.8 Q527.0,1120.6 538.0,1122.2 Q549.0,1122.1 560.0,1122.2 Q571.0,1122.8 582.0,1121.2 Q593.0,1121.1 604.0,1121.0 Q615.0,1120.4 626.0,1120.8 Q637.0,1120.9 648.0,1121.7 Q659.0,1119.9 670.0,1121.8 Q681.0,1121.0 692.0,1121.2 Q703.0,1122.5 714.0,1121.5 L714,1179Z" fill="#a66d3a"/>
<path d="M120,1179 L120,1136.3 Q131.0,1135.5 142.0,1136.3 Q153.0,1137.2 164.0,1135.3 Q175.0,1138.4 186.0,1135.2 Q197.0,1137.4 208.0,1137.1 Q219.0,1134.2 230.0,1136.9 Q241.0,1135.7 252.0,1136.5 Q263.0,1134.1 274.0,1135.3 Q285.0,1134.9 296.0,1137.3 Q307.0,1135.0 318.0,1136.9 Q329.0,1138.2 340.0,1137.3 Q351.0,1135.6 362.0,1136.0 Q373.0,1136.4 384.0,1136.9 Q395.0,1134.6 406.0,1136.8 Q417.0,1137.6 428.0,1137.1 Q439.0,1134.3 450.0,1137.3 Q461.0,1134.5 472.0,1135.9 Q483.0,1136.8 494.0,1137.2 Q505.0,1135.6 516.0,1137.2 Q527.0,1136.5 538.0,1135.9 Q549.0,1135.5 560.0,1135.6 Q571.0,1134.4 582.0,1135.5 Q593.0,1137.1 604.0,1137.4 Q615.0,1134.8 626.0,1135.3 Q637.0,1138.4 648.0,1136.4 Q659.0,1135.9 670.0,1135.7 Q681.0,1136.7 692.0,1137.0 Q703.0,1136.1 714.0,1136.1 L714,1179Z" fill="#985e29"/>
<path d="M120,1179 L120,1154.4 Q131.0,1152.5 142.0,1155.3 Q153.0,1152.4 164.0,1154.4 Q175.0,1155.9 186.0,1153.6 Q197.0,1155.4 208.0,1155.4 Q219.0,1155.0 230.0,1155.1 Q241.0,1152.7 252.0,1154.3 Q263.0,1152.9 274.0,1155.2 Q285.0,1153.5 296.0,1154.3 Q307.0,1156.6 318.0,1155.2 Q329.0,1156.5 340.0,1154.3 Q351.0,1154.4 362.0,1154.9 Q373.0,1154.3 384.0,1154.0 Q395.0,1154.0 406.0,1153.7 Q417.0,1153.9 428.0,1155.5 Q439.0,1156.5 450.0,1154.7 Q461.0,1154.4 472.0,1154.1 Q483.0,1152.6 494.0,1153.9 Q505.0,1155.7 516.0,1155.2 Q527.0,1153.8 538.0,1155.1 Q549.0,1155.6 560.0,1154.9 Q571.0,1155.2 582.0,1155.0 Q593.0,1153.8 604.0,1154.9 Q615.0,1153.5 626.0,1154.4 Q637.0,1155.6 648.0,1154.8 Q659.0,1153.5 670.0,1155.4 Q681.0,1155.1 692.0,1154.6 Q703.0,1152.3 714.0,1154.5 L714,1179Z" fill="#8e561c"/>
<polygon points="134.0,1167.0 146.0,1164.0 164.0,1166.0 160.0,1171.0 142.0,1171.5" fill="#7f4c13"/>
<polygon points="197.4,1168.2 209.4,1165.2 227.4,1167.2 223.4,1172.2 205.4,1172.7" fill="#7f4c13"/>
<polygon points="263.8,1169.4 275.8,1166.4 293.8,1168.4 289.8,1173.4 271.8,1173.9" fill="#7f4c13"/>
<polygon points="329.7,1167.6 341.7,1164.6 359.7,1166.6 355.7,1171.6 337.7,1172.1" fill="#7f4c13"/>
<polygon points="392.6,1169.9 404.6,1166.9 422.6,1168.9 418.6,1173.9 400.6,1174.4" fill="#7f4c13"/>
<polygon points="459.2,1167.6 471.2,1164.6 489.2,1166.6 485.2,1171.6 467.2,1172.1" fill="#7f4c13"/>
<polygon points="526.0,1170.7 538.0,1167.7 556.0,1169.7 552.0,1174.7 534.0,1175.2" fill="#7f4c13"/>
<polygon points="589.8,1171.3 601.8,1168.3 619.8,1170.3 615.8,1175.3 597.8,1175.8" fill="#7f4c13"/>
<polygon points="658.9,1168.6 670.9,1165.6 688.9,1167.6 684.9,1172.6 666.9,1173.1" fill="#7f4c13"/>
<rect x="221.7" y="1166.9" width="8.7" height="1.6" fill="#c08d5f" opacity="0.85"/>
<rect x="400.9" y="1159.7" width="7.9" height="1.6" fill="#c08d5f" opacity="0.85"/>
<rect x="546.7" y="1134.0" width="8.1" height="1.6" fill="#c08d5f" opacity="0.85"/>
<rect x="460.6" y="1158.4" width="6.7" height="1.6" fill="#c08d5f" opacity="0.85"/>
<rect x="485.3" y="1163.8" width="7.5" height="1.6" fill="#c08d5f" opacity="0.85"/>
<rect x="541.0" y="1126.9" width="5.6" height="1.6" fill="#c08d5f" opacity="0.85"/>
<rect x="380.1" y="1157.7" width="5.9" height="1.6" fill="#c08d5f" opacity="0.85"/>
<rect x="521.1" y="1156.7" width="5.2" height="1.6" fill="#c08d5f" opacity="0.85"/>
<rect x="397.6" y="1136.7" width="5.2" height="1.6" fill="#c08d5f" opacity="0.85"/>
<rect x="202.9" y="1141.2" width="5.7" height="1.6" fill="#c08d5f" opacity="0.85"/>
<rect x="237.4" y="1127.3" width="6.9" height="1.6" fill="#c08d5f" opacity="0.85"/>
<rect x="345.1" y="1155.8" width="7.4" height="1.6" fill="#c08d5f" opacity="0.85"/>
<rect x="263.0" y="1170.2" width="5.0" height="1.6" fill="#c08d5f" opacity="0.85"/>
<rect x="359.5" y="1139.3" width="6.6" height="1.6" fill="#c08d5f" opacity="0.85"/>
<rect x="192.3" y="1166.7" width="6.5" height="1.6" fill="#c08d5f" opacity="0.85"/>
<rect x="146.8" y="1155.9" width="5.4" height="1.6" fill="#c08d5f" opacity="0.85"/>
<rect x="440.0" y="1142.3" width="7.3" height="1.6" fill="#c08d5f" opacity="0.85"/>
<rect x="678.0" y="1166.0" width="6.7" height="1.6" fill="#c08d5f" opacity="0.85"/>
<rect x="594.3" y="1157.3" width="6.5" height="1.6" fill="#c08d5f" opacity="0.85"/>
<rect x="207.9" y="1155.0" width="7.3" height="1.6" fill="#c08d5f" opacity="0.85"/>
<rect x="677.4" y="1173.4" width="7.4" height="1.6" fill="#c08d5f" opacity="0.85"/>
<rect x="328.2" y="1169.7" width="5.0" height="1.6" fill="#c08d5f" opacity="0.85"/>
<rect x="188.2" y="1153.5" width="7.5" height="1.6" fill="#c08d5f" opacity="0.85"/>
<rect x="207.0" y="1156.7" width="8.6" height="1.6" fill="#c08d5f" opacity="0.85"/>
<rect x="342.5" y="1146.9" width="5.9" height="1.6" fill="#c08d5f" opacity="0.85"/>
<rect x="293.9" y="1173.6" width="6.5" height="1.6" fill="#c08d5f" opacity="0.85"/>
<rect x="679.6" y="1170.7" width="7.4" height="1.6" fill="#c08d5f" opacity="0.85"/>
<rect x="275.7" y="1174.1" width="7.0" height="1.6" fill="#c08d5f" opacity="0.85"/>
<rect x="365.3" y="1141.3" width="8.9" height="1.6" fill="#c08d5f" opacity="0.85"/>
<rect x="409.3" y="1139.7" width="6.9" height="1.6" fill="#c08d5f" opacity="0.85"/>
<rect x="196.2" y="1156.3" width="6.8" height="1.6" fill="#c08d5f" opacity="0.85"/>
<rect x="294.8" y="1164.2" width="8.3" height="1.6" fill="#c08d5f" opacity="0.85"/>
<rect x="133.6" y="1151.9" width="6.1" height="1.6" fill="#c08d5f" opacity="0.85"/>
<rect x="664.7" y="1164.2" width="6.0" height="1.6" fill="#c08d5f" opacity="0.85"/>
<rect x="280.2" y="1133.2" width="9.0" height="1.6" fill="#c08d5f" opacity="0.85"/>
<rect x="294.9" y="1155.6" width="6.9" height="1.6" fill="#c08d5f" opacity="0.85"/>
<rect x="497.4" y="1155.4" width="8.0" height="1.6" fill="#c08d5f" opacity="0.85"/>
<rect x="194.1" y="1163.1" width="6.2" height="1.6" fill="#c08d5f" opacity="0.85"/>
<rect x="433.3" y="1142.1" width="6.2" height="1.6" fill="#c08d5f" opacity="0.85"/>
<rect x="431.2" y="1148.5" width="6.4" height="1.6" fill="#c08d5f" opacity="0.85"/>
<rect x="555.1" y="1154.7" width="5.1" height="1.6" fill="#c08d5f" opacity="0.85"/>
<rect x="271.4" y="1148.1" width="8.7" height="1.6" fill="#c08d5f" opacity="0.85"/>
<rect x="637.5" y="1152.5" width="5.1" height="1.6" fill="#c08d5f" opacity="0.85"/>
<rect x="574.3" y="1146.7" width="7.3" height="1.6" fill="#c08d5f" opacity="0.85"/>
<rect x="533.9" y="1156.8" width="6.9" height="1.6" fill="#c08d5f" opacity="0.85"/>
<rect x="651.1" y="1144.6" width="6.6" height="1.6" fill="#c08d5f" opacity="0.85"/>
<rect x="616.7" y="1135.2" width="6.2" height="1.6" fill="#c08d5f" opacity="0.85"/>
<rect x="604.1" y="1128.8" width="8.3" height="1.6" fill="#c08d5f" opacity="0.85"/>
<rect x="526.1" y="1146.9" width="6.1" height="1.6" fill="#c08d5f" opacity="0.85"/>
<rect x="575.7" y="1170.6" width="5.6" height="1.6" fill="#c08d5f" opacity="0.85"/>
<rect x="401.6" y="1152.7" width="7.0" height="1.6" fill="#c08d5f" opacity="0.85"/>
<rect x="316.5" y="1133.1" width="7.3" height="1.6" fill="#c08d5f" opacity="0.85"/>
<rect x="593.6" y="1128.9" width="5.9" height="1.6" fill="#c08d5f" opacity="0.85"/>
<rect x="598.1" y="1164.7" width="7.7" height="1.6" fill="#c08d5f" opacity="0.85"/>
<rect x="140.7" y="1161.3" width="8.9" height="1.6" fill="#c08d5f" opacity="0.85"/>
<rect x="701.0" y="1160.2" width="5.2" height="1.6" fill="#c08d5f" opacity="0.85"/>
<rect x="611.0" y="1136.4" width="7.6" height="1.6" fill="#c08d5f" opacity="0.85"/>
<rect x="674.5" y="1160.8" width="5.5" height="1.6" fill="#c08d5f" opacity="0.85"/>
<rect x="294.5" y="1170.9" width="5.6" height="1.6" fill="#c08d5f" opacity="0.85"/>
<rect x="477.7" y="1146.0" width="5.6" height="1.6" fill="#c08d5f" opacity="0.85"/>
<rect x="484.5" y="1127.7" width="5.4" height="1.6" fill="#c08d5f" opacity="0.85"/>
<rect x="344.4" y="1129.1" width="5.2" height="1.6" fill="#c08d5f" opacity="0.85"/>
<rect x="457.3" y="1162.2" width="8.5" height="1.6" fill="#c08d5f" opacity="0.85"/>
<rect x="203.4" y="1146.9" width="6.3" height="1.6" fill="#c08d5f" opacity="0.85"/>
<rect x="471.7" y="1149.7" width="8.8" height="1.6" fill="#c08d5f" opacity="0.85"/>
<rect x="341.5" y="1128.3" width="7.8" height="1.6" fill="#c08d5f" opacity="0.85"/>
<path d="M1300.7,1089.0 L1307.7,1084.0 L1312.6,1082.3 L1317.7,1083.8 L1322.6,1082.2 L1327.7,1083.0 L1332.7,1082.3 L1337.7,1083.6 L1342.7,1082.3 L1347.7,1083.5 L1352.7,1083.0 L1358.6,1082.9 L1363.9,1085.5 L1369.7,1086.0 L1371.7,1092.4 L1371.7,1099.0 L1370.6,1104.8 L1367.7,1110.0 L1361.9,1111.9 L1355.7,1112.0 L1350.3,1112.0 L1345.1,1110.3 L1339.7,1110.0 L1333.9,1112.3 L1327.7,1113.0 L1321.4,1112.8 L1315.7,1110.0 L1310.6,1107.3 L1306.7,1103.0 L1304.1,1098.6 L1302.9,1093.6Z" fill="#ffe699" stroke="#5a5a4a" stroke-width="0.9" stroke-linejoin="round"/>
<path d="M1380.9,1089.0 L1387.9,1084.0 L1392.9,1082.9 L1397.9,1084.0 L1402.9,1082.6 L1407.9,1083.0 L1412.9,1081.5 L1417.9,1083.5 L1422.9,1081.5 L1427.9,1083.3 L1432.9,1083.0 L1438.7,1083.2 L1444.2,1085.3 L1449.9,1086.0 L1451.7,1092.4 L1451.9,1099.0 L1450.5,1104.7 L1447.9,1110.0 L1442.1,1112.2 L1435.9,1112.0 L1430.5,1112.3 L1425.3,1110.1 L1419.9,1110.0 L1414.2,1112.7 L1407.9,1113.0 L1401.7,1112.4 L1395.9,1110.0 L1390.9,1107.1 L1386.9,1103.0 L1384.1,1098.7 L1383.1,1093.6Z" fill="#c5e0b4" stroke="#5a5a4a" stroke-width="0.9" stroke-linejoin="round"/>
<path d="M1461.1,1089.0 L1468.1,1084.0 L1473.1,1083.1 L1478.1,1084.0 L1483.0,1081.8 L1488.1,1083.0 L1493.1,1082.1 L1498.1,1083.4 L1503.1,1082.1 L1508.1,1083.5 L1513.1,1083.0 L1519.0,1082.8 L1524.4,1085.4 L1530.1,1086.0 L1532.6,1092.3 L1532.1,1099.0 L1531.3,1104.9 L1528.1,1110.0 L1522.2,1111.9 L1516.1,1112.0 L1510.6,1112.3 L1505.5,1110.2 L1500.1,1110.0 L1494.4,1112.7 L1488.1,1113.0 L1481.9,1112.3 L1476.1,1110.0 L1470.8,1107.5 L1467.1,1103.0 L1464.2,1098.7 L1463.6,1093.5Z" fill="#dba400" stroke="#5a5a4a" stroke-width="0.9" stroke-linejoin="round"/>
<path d="M1541.3,1089.0 L1548.3,1084.0 L1553.3,1082.9 L1558.3,1083.9 L1563.2,1082.1 L1568.3,1083.0 L1573.3,1082.0 L1578.3,1083.5 L1583.3,1082.0 L1588.3,1083.4 L1593.3,1083.0 L1599.1,1083.2 L1604.6,1085.3 L1610.3,1086.0 L1612.1,1092.4 L1612.3,1099.0 L1611.5,1104.9 L1608.3,1110.0 L1602.4,1111.6 L1596.3,1112.0 L1590.9,1112.2 L1585.7,1110.3 L1580.3,1110.0 L1574.6,1112.6 L1568.3,1113.0 L1562.1,1112.5 L1556.3,1110.0 L1551.0,1107.6 L1547.3,1103.0 L1544.0,1098.9 L1543.7,1093.5Z" fill="#ffe699" stroke="#5a5a4a" stroke-width="0.9" stroke-linejoin="round"/>
<path d="M1621.5,1089.0 L1628.5,1084.0 L1633.4,1082.4 L1638.5,1083.9 L1643.5,1082.5 L1648.5,1083.0 L1653.5,1082.3 L1658.5,1083.4 L1663.5,1081.6 L1668.5,1083.6 L1673.5,1083.0 L1679.3,1083.1 L1684.8,1085.4 L1690.5,1086.0 L1692.5,1092.3 L1692.5,1099.0 L1691.8,1105.0 L1688.5,1110.0 L1682.7,1112.0 L1676.5,1112.0 L1671.1,1112.2 L1665.9,1110.2 L1660.5,1110.0 L1654.6,1112.1 L1648.5,1113.0 L1642.2,1112.5 L1636.5,1110.0 L1631.6,1107.1 L1627.5,1103.0 L1624.3,1098.9 L1623.9,1093.5Z" fill="#c5e0b4" stroke="#5a5a4a" stroke-width="0.9" stroke-linejoin="round"/>
<path d="M1752.0,1019.5 L1758.8,1019.3 L1765.3,1021.5 L1772.0,1022.0 L1778.3,1023.9 L1783.9,1027.7 L1790.0,1030.0 L1794.5,1034.6 L1796.4,1040.9 L1800.0,1046.0 L1801.3,1051.9 L1800.1,1058.0 L1801.0,1064.0 L1800.1,1070.4 L1796.4,1075.8 L1795.0,1082.0 L1791.6,1088.6 L1786.0,1093.8 L1782.0,1100.0 L1775.1,1104.1 L1767.2,1105.7 L1760.0,1109.0 L1752.6,1110.2 L1745.4,1107.9 L1738.0,1108.0 L1731.0,1106.3 L1724.9,1102.2 L1718.0,1100.0 L1713.4,1095.8 L1710.4,1090.3 L1706.0,1086.0 L1703.6,1079.5 L1704.4,1072.6 L1703.0,1066.0 L1703.2,1058.3 L1706.8,1051.4 L1708.0,1044.0 L1710.9,1037.8 L1716.3,1033.6 L1720.0,1028.0 L1727.6,1023.6 L1736.0,1021.0 L1743.9,1019.4Z" fill="url(#bushGold)" stroke="#5b5020" stroke-width="1" stroke-linejoin="round"/>
<path d="M1272.3,1014.0 L1267.6,1016.6 L1262.3,1017.0 L1257.9,1019.4 L1252.8,1019.7 L1248.3,1022.0 L1244.6,1025.7 L1239.4,1026.9 L1235.3,1030.0 L1233.2,1035.0 L1228.4,1037.8 L1225.3,1042.0 L1224.2,1047.6 L1220.3,1051.9 L1218.3,1057.0 L1219.8,1062.2 L1219.3,1067.7 L1220.3,1073.0 L1223.6,1078.0 L1224.3,1084.0 L1228.9,1086.4 L1231.3,1091.0 L1237.1,1090.2 L1242.6,1092.4 L1248.3,1092.5 L1253.2,1091.4 L1258.3,1092.2 L1263.3,1091.5 L1268.6,1089.4 L1274.3,1089.0 L1273.3,1084.0 L1275.1,1079.0 L1274.0,1074.0 L1275.3,1069.0 L1273.7,1064.0 L1275.3,1059.0 L1273.8,1054.0 L1275.3,1049.0 L1273.3,1044.0 L1275.1,1039.0 L1273.5,1034.0 L1274.3,1029.0 L1272.2,1024.2 L1273.5,1018.9Z" fill="url(#mWhite)" stroke="#2f3f28" stroke-width="1.1" stroke-linejoin="round"/>
<g stroke="#2a2a2a" fill="none" stroke-linecap="round" stroke-linejoin="round"><polygon fill="#2a2a2a" stroke="none" points="1265.1,1120.0 1265.1,1093.0 1262.3,1083.0 1267.3,1081.0 1270.8,1089.0 1271.3,1120.0"/><path d="M1265.3,1089.0 L1258.3,1077.0 L1250.3,1067.0 L1243.3,1061.0" stroke-width="3"/><path d="M1243.3,1061.0 L1234.3,1063.0" stroke-width="2"/><path d="M1244.3,1063.0 L1231.3,1078.0" stroke-width="1.3"/><path d="M1268.3,1089.0 L1267.3,1069.0 L1264.3,1053.0 L1260.3,1041.0" stroke-width="2.6"/><path d="M1267.3,1069.0 L1269.3,1057.0" stroke-width="1.8"/></g>
<path d="M1292.1,982.0 L1297.4,984.4 L1301.1,989.0 L1304.2,993.0 L1304.3,998.1 L1307.2,1002.2 L1308.1,1007.0 L1311.5,1010.7 L1312.8,1015.7 L1316.2,1019.4 L1318.1,1024.0 L1321.7,1028.4 L1322.8,1034.2 L1326.7,1038.4 L1328.1,1044.0 L1330.3,1048.8 L1329.2,1054.1 L1331.6,1058.8 L1331.1,1064.0 L1332.1,1069.6 L1331.2,1075.4 L1332.1,1081.0 L1329.7,1085.0 L1326.1,1088.0 L1320.4,1090.6 L1314.1,1090.5 L1309.3,1090.7 L1304.9,1088.3 L1300.1,1088.0 L1294.3,1090.4 L1288.1,1090.5 L1281.1,1088.0 L1277.1,1085.2 L1274.6,1081.0 L1273.2,1075.4 L1273.5,1069.6 L1272.6,1064.0 L1271.2,1059.0 L1272.8,1054.0 L1271.4,1049.0 L1272.1,1044.0 L1272.0,1038.9 L1274.1,1034.1 L1273.3,1028.8 L1275.1,1024.0 L1275.7,1018.0 L1278.9,1012.8 L1280.1,1007.0 L1281.4,1001.8 L1285.3,998.1 L1286.4,992.8 L1290.1,989.0Z" fill="url(#tLight)" stroke="#2f3f28" stroke-width="1.1" stroke-linejoin="round"/>
<g stroke="#0a0a0a" fill="none" stroke-linecap="round" stroke-linejoin="round"><polygon fill="#0a0a0a" stroke="none" points="1291.1,1120.0 1292.1,1099.0 1292.1,1077.0 1288.1,1069.0 1294.1,1069.0 1296.1,1073.0 1299.1,1065.0 1303.1,1063.0 1300.6,1077.0 1300.1,1099.0 1301.6,1120.0"/><path d="M1292.1,1073.0 L1284.1,1067.0 L1278.1,1057.0" stroke-width="2.6"/><path d="M1284.1,1067.0 L1282.1,1055.0" stroke-width="1.6"/><path d="M1291.1,1075.0 L1280.1,1081.0" stroke-width="2"/><path d="M1295.1,1071.0 L1291.1,1049.0 L1286.1,1031.0 L1280.1,1019.0" stroke-width="2.4"/><path d="M1291.1,1049.0 L1291.1,1027.0 L1290.1,1015.0" stroke-width="2"/><path d="M1299.1,1067.0 L1301.1,1047.0 L1298.1,1031.0 L1299.1,1017.0" stroke-width="2"/><path d="M1301.1,1047.0 L1304.1,1029.0 L1304.1,1019.0" stroke-width="1.8"/></g>
<path d="M1352.0,1014.0 L1347.2,1016.2 L1342.0,1017.0 L1337.7,1019.8 L1332.5,1019.9 L1328.0,1022.0 L1324.5,1026.0 L1319.1,1026.9 L1315.0,1030.0 L1312.5,1034.7 L1307.9,1037.6 L1305.0,1042.0 L1303.5,1047.4 L1299.8,1051.8 L1298.0,1057.0 L1299.7,1062.2 L1298.8,1067.7 L1300.0,1073.0 L1303.5,1078.0 L1304.0,1084.0 L1308.5,1086.5 L1311.0,1091.0 L1316.8,1090.3 L1322.3,1092.6 L1328.0,1092.5 L1333.0,1091.5 L1338.0,1092.3 L1343.0,1091.5 L1348.2,1088.8 L1354.0,1089.0 L1352.8,1084.0 L1354.8,1079.0 L1353.6,1074.0 L1355.1,1069.0 L1353.8,1064.0 L1355.0,1059.0 L1354.1,1054.0 L1355.3,1049.0 L1353.2,1044.0 L1354.8,1039.0 L1353.4,1034.0 L1354.0,1029.0 L1352.4,1024.1 L1353.1,1018.9Z" fill="url(#mDark)" stroke="#2f3f28" stroke-width="1.1" stroke-linejoin="round"/>
<g stroke="#0a0a0a" fill="none" stroke-linecap="round" stroke-linejoin="round"><polygon fill="#0a0a0a" stroke="none" points="1336.7,1120.0 1332.7,1099.0 1330.7,1085.0 1336.7,1083.0 1340.7,1097.0 1343.7,1120.0"/><path d="M1334.7,1113.0 L1323.7,1103.0 L1313.7,1093.0" stroke-width="2.4"/><path d="M1323.7,1103.0 L1307.7,1102.0" stroke-width="1.6"/></g>
<g stroke="#2a2a2a" fill="none" stroke-linecap="round" stroke-linejoin="round"><polygon fill="#2a2a2a" stroke="none" points="1344.8,1120.0 1344.8,1093.0 1342.0,1083.0 1347.0,1081.0 1350.5,1089.0 1351.0,1120.0"/><path d="M1345.0,1089.0 L1338.0,1077.0 L1330.0,1067.0 L1323.0,1061.0" stroke-width="3"/><path d="M1323.0,1061.0 L1314.0,1063.0" stroke-width="2"/><path d="M1324.0,1063.0 L1311.0,1078.0" stroke-width="1.3"/><path d="M1348.0,1089.0 L1347.0,1069.0 L1344.0,1053.0 L1340.0,1041.0" stroke-width="2.6"/><path d="M1347.0,1069.0 L1349.0,1057.0" stroke-width="1.8"/></g>
<path d="M1371.7,982.0 L1377.0,984.5 L1380.7,989.0 L1383.7,993.0 L1383.7,998.2 L1387.0,1002.1 L1387.7,1007.0 L1390.9,1010.9 L1392.2,1015.8 L1396.4,1019.0 L1397.7,1024.0 L1401.2,1028.5 L1402.3,1034.2 L1406.2,1038.5 L1407.7,1044.0 L1409.5,1048.8 L1408.7,1054.1 L1411.2,1058.8 L1410.7,1064.0 L1412.2,1069.6 L1410.9,1075.4 L1411.7,1081.0 L1409.5,1085.2 L1405.7,1088.0 L1399.8,1090.0 L1393.7,1090.5 L1388.9,1090.5 L1384.4,1088.5 L1379.7,1088.0 L1374.0,1090.6 L1367.7,1090.5 L1360.7,1088.0 L1356.9,1085.0 L1354.2,1081.0 L1352.6,1075.4 L1353.2,1069.6 L1352.2,1064.0 L1351.1,1059.0 L1352.3,1054.0 L1350.6,1049.0 L1351.7,1044.0 L1351.7,1038.9 L1353.7,1034.1 L1352.5,1028.8 L1354.7,1024.0 L1355.2,1018.0 L1358.3,1012.8 L1359.7,1007.0 L1361.6,1002.2 L1365.2,998.3 L1366.3,993.0 L1369.7,989.0Z" fill="url(#tDark)" stroke="#2f3f28" stroke-width="1.1" stroke-linejoin="round"/>
<g stroke="#0a0a0a" fill="none" stroke-linecap="round" stroke-linejoin="round"><polygon fill="#0a0a0a" stroke="none" points="1370.7,1120.0 1371.7,1099.0 1371.7,1077.0 1367.7,1069.0 1373.7,1069.0 1375.7,1073.0 1378.7,1065.0 1382.7,1063.0 1380.2,1077.0 1379.7,1099.0 1381.2,1120.0"/><path d="M1371.7,1073.0 L1363.7,1067.0 L1357.7,1057.0" stroke-width="2.6"/><path d="M1363.7,1067.0 L1361.7,1055.0" stroke-width="1.6"/><path d="M1370.7,1075.0 L1359.7,1081.0" stroke-width="2"/><path d="M1374.7,1071.0 L1370.7,1049.0 L1365.7,1031.0 L1359.7,1019.0" stroke-width="2.4"/><path d="M1370.7,1049.0 L1370.7,1027.0 L1369.7,1015.0" stroke-width="2"/><path d="M1378.7,1067.0 L1380.7,1047.0 L1377.7,1031.0 L1378.7,1017.0" stroke-width="2"/><path d="M1380.7,1047.0 L1383.7,1029.0 L1383.7,1019.0" stroke-width="1.8"/></g>
<path d="M1431.5,1014.0 L1426.8,1016.6 L1421.5,1017.0 L1417.2,1019.8 L1412.0,1020.0 L1407.5,1022.0 L1404.0,1026.0 L1398.6,1026.9 L1394.5,1030.0 L1392.2,1034.9 L1387.5,1037.7 L1384.5,1042.0 L1383.5,1047.6 L1379.3,1051.8 L1377.5,1057.0 L1379.4,1062.2 L1378.5,1067.7 L1379.5,1073.0 L1382.5,1078.1 L1383.5,1084.0 L1388.1,1086.4 L1390.5,1091.0 L1396.3,1090.3 L1401.8,1092.4 L1407.5,1092.5 L1412.4,1090.9 L1417.5,1092.1 L1422.5,1091.5 L1427.8,1089.3 L1433.5,1089.0 L1432.3,1084.0 L1434.3,1079.0 L1433.0,1074.0 L1434.8,1069.0 L1433.2,1064.0 L1434.5,1059.0 L1433.3,1054.0 L1434.5,1049.0 L1432.8,1044.0 L1434.3,1039.0 L1432.8,1034.0 L1433.5,1029.0 L1431.3,1024.2 L1432.7,1018.9Z" fill="url(#mOrange)" stroke="#2f3f28" stroke-width="1.1" stroke-linejoin="round"/>
<g stroke="#0a0a0a" fill="none" stroke-linecap="round" stroke-linejoin="round"><polygon fill="#0a0a0a" stroke="none" points="1416.9,1120.0 1412.9,1099.0 1410.9,1085.0 1416.9,1083.0 1420.9,1097.0 1423.9,1120.0"/><path d="M1414.9,1113.0 L1403.9,1103.0 L1393.9,1093.0" stroke-width="2.4"/><path d="M1403.9,1103.0 L1387.9,1102.0" stroke-width="1.6"/></g>
<g stroke="#2a2a2a" fill="none" stroke-linecap="round" stroke-linejoin="round"><polygon fill="#2a2a2a" stroke="none" points="1424.3,1120.0 1424.3,1093.0 1421.5,1083.0 1426.5,1081.0 1430.0,1089.0 1430.5,1120.0"/><path d="M1424.5,1089.0 L1417.5,1077.0 L1409.5,1067.0 L1402.5,1061.0" stroke-width="3"/><path d="M1402.5,1061.0 L1393.5,1063.0" stroke-width="2"/><path d="M1403.5,1063.0 L1390.5,1078.0" stroke-width="1.3"/><path d="M1427.5,1089.0 L1426.5,1069.0 L1423.5,1053.0 L1419.5,1041.0" stroke-width="2.6"/><path d="M1426.5,1069.0 L1428.5,1057.0" stroke-width="1.8"/></g>
<path d="M1450.3,982.0 L1455.7,984.3 L1459.3,989.0 L1461.9,993.2 L1462.5,998.1 L1465.9,1002.0 L1466.3,1007.0 L1469.9,1010.6 L1470.9,1015.7 L1475.0,1019.0 L1476.3,1024.0 L1479.8,1028.5 L1481.1,1034.1 L1484.9,1038.4 L1486.3,1044.0 L1488.2,1048.8 L1487.3,1054.1 L1489.4,1058.9 L1489.3,1064.0 L1491.1,1069.6 L1489.5,1075.4 L1490.3,1081.0 L1488.0,1085.1 L1484.3,1088.0 L1478.5,1090.3 L1472.3,1090.5 L1467.5,1090.3 L1463.0,1088.5 L1458.3,1088.0 L1452.6,1090.5 L1446.3,1090.5 L1439.3,1088.0 L1435.4,1085.1 L1432.8,1081.0 L1431.2,1075.4 L1432.0,1069.6 L1430.8,1064.0 L1429.3,1059.0 L1431.0,1054.0 L1429.4,1049.0 L1430.3,1044.0 L1429.7,1038.8 L1432.4,1034.1 L1431.9,1028.9 L1433.3,1024.0 L1434.3,1018.1 L1436.9,1012.7 L1438.3,1007.0 L1440.1,1002.1 L1443.6,998.2 L1445.0,993.1 L1448.3,989.0Z" fill="url(#tOrange)" stroke="#2f3f28" stroke-width="1.1" stroke-linejoin="round"/>
<g stroke="#0a0a0a" fill="none" stroke-linecap="round" stroke-linejoin="round"><polygon fill="#0a0a0a" stroke="none" points="1449.3,1120.0 1450.3,1099.0 1450.3,1077.0 1446.3,1069.0 1452.3,1069.0 1454.3,1073.0 1457.3,1065.0 1461.3,1063.0 1458.8,1077.0 1458.3,1099.0 1459.8,1120.0"/><path d="M1450.3,1073.0 L1442.3,1067.0 L1436.3,1057.0" stroke-width="2.6"/><path d="M1442.3,1067.0 L1440.3,1055.0" stroke-width="1.6"/><path d="M1449.3,1075.0 L1438.3,1081.0" stroke-width="2"/><path d="M1453.3,1071.0 L1449.3,1049.0 L1444.3,1031.0 L1438.3,1019.0" stroke-width="2.4"/><path d="M1449.3,1049.0 L1449.3,1027.0 L1448.3,1015.0" stroke-width="2"/><path d="M1457.3,1067.0 L1459.3,1047.0 L1456.3,1031.0 L1457.3,1017.0" stroke-width="2"/><path d="M1459.3,1047.0 L1462.3,1029.0 L1462.3,1019.0" stroke-width="1.8"/></g>
<path d="M1512.5,1014.0 L1507.7,1016.2 L1502.5,1017.0 L1498.1,1019.3 L1493.0,1019.9 L1488.5,1022.0 L1484.6,1025.3 L1479.5,1026.8 L1475.5,1030.0 L1472.7,1034.4 L1468.5,1037.7 L1465.5,1042.0 L1464.0,1047.4 L1460.3,1051.8 L1458.5,1057.0 L1460.0,1062.2 L1459.5,1067.7 L1460.5,1073.0 L1463.4,1078.2 L1464.5,1084.0 L1468.6,1086.9 L1471.5,1091.0 L1477.2,1090.9 L1482.8,1092.4 L1488.5,1092.5 L1493.5,1091.4 L1498.5,1092.3 L1503.5,1091.5 L1508.8,1089.6 L1514.5,1089.0 L1513.7,1084.0 L1515.3,1079.0 L1513.5,1073.9 L1515.5,1069.0 L1514.6,1064.0 L1515.5,1059.0 L1513.9,1054.0 L1515.4,1049.0 L1513.5,1044.1 L1515.3,1039.0 L1513.8,1034.0 L1514.5,1029.0 L1512.4,1024.2 L1513.7,1018.9Z" fill="url(#mWhite)" stroke="#2f3f28" stroke-width="1.1" stroke-linejoin="round"/>
<g stroke="#0a0a0a" fill="none" stroke-linecap="round" stroke-linejoin="round"><polygon fill="#0a0a0a" stroke="none" points="1497.1,1120.0 1493.1,1099.0 1491.1,1085.0 1497.1,1083.0 1501.1,1097.0 1504.1,1120.0"/><path d="M1495.1,1113.0 L1484.1,1103.0 L1474.1,1093.0" stroke-width="2.4"/><path d="M1484.1,1103.0 L1468.1,1102.0" stroke-width="1.6"/></g>
<g stroke="#2a2a2a" fill="none" stroke-linecap="round" stroke-linejoin="round"><polygon fill="#2a2a2a" stroke="none" points="1505.3,1120.0 1505.3,1093.0 1502.5,1083.0 1507.5,1081.0 1511.0,1089.0 1511.5,1120.0"/><path d="M1505.5,1089.0 L1498.5,1077.0 L1490.5,1067.0 L1483.5,1061.0" stroke-width="3"/><path d="M1483.5,1061.0 L1474.5,1063.0" stroke-width="2"/><path d="M1484.5,1063.0 L1471.5,1078.0" stroke-width="1.3"/><path d="M1508.5,1089.0 L1507.5,1069.0 L1504.5,1053.0 L1500.5,1041.0" stroke-width="2.6"/><path d="M1507.5,1069.0 L1509.5,1057.0" stroke-width="1.8"/></g>
<path d="M1531.3,982.0 L1536.7,984.3 L1540.3,989.0 L1542.7,993.3 L1543.5,998.1 L1546.8,1002.0 L1547.3,1007.0 L1551.0,1010.5 L1551.9,1015.7 L1555.8,1019.2 L1557.3,1024.0 L1561.0,1028.4 L1561.8,1034.3 L1566.1,1038.4 L1567.3,1044.0 L1569.4,1048.8 L1568.4,1054.1 L1570.4,1058.9 L1570.3,1064.0 L1571.8,1069.6 L1570.4,1075.4 L1571.3,1081.0 L1569.3,1085.3 L1565.3,1088.0 L1559.6,1090.6 L1553.3,1090.5 L1548.4,1091.0 L1544.0,1088.4 L1539.3,1088.0 L1533.5,1090.4 L1527.3,1090.5 L1520.3,1088.0 L1516.2,1085.3 L1513.8,1081.0 L1512.0,1075.5 L1512.8,1069.6 L1511.8,1064.0 L1510.9,1059.0 L1511.9,1054.0 L1510.1,1049.0 L1511.3,1044.0 L1511.2,1038.9 L1513.2,1034.1 L1512.1,1028.8 L1514.3,1024.0 L1515.0,1018.1 L1518.1,1012.8 L1519.3,1007.0 L1520.8,1001.9 L1524.6,998.1 L1525.8,993.0 L1529.3,989.0Z" fill="url(#tLight)" stroke="#2f3f28" stroke-width="1.1" stroke-linejoin="round"/>
<g stroke="#0a0a0a" fill="none" stroke-linecap="round" stroke-linejoin="round"><polygon fill="#0a0a0a" stroke="none" points="1530.3,1120.0 1531.3,1099.0 1531.3,1077.0 1527.3,1069.0 1533.3,1069.0 1535.3,1073.0 1538.3,1065.0 1542.3,1063.0 1539.8,1077.0 1539.3,1099.0 1540.8,1120.0"/><path d="M1531.3,1073.0 L1523.3,1067.0 L1517.3,1057.0" stroke-width="2.6"/><path d="M1523.3,1067.0 L1521.3,1055.0" stroke-width="1.6"/><path d="M1530.3,1075.0 L1519.3,1081.0" stroke-width="2"/><path d="M1534.3,1071.0 L1530.3,1049.0 L1525.3,1031.0 L1519.3,1019.0" stroke-width="2.4"/><path d="M1530.3,1049.0 L1530.3,1027.0 L1529.3,1015.0" stroke-width="2"/><path d="M1538.3,1067.0 L1540.3,1047.0 L1537.3,1031.0 L1538.3,1017.0" stroke-width="2"/><path d="M1540.3,1047.0 L1543.3,1029.0 L1543.3,1019.0" stroke-width="1.8"/></g>
<path d="M1593.5,1014.0 L1588.9,1017.0 L1583.5,1017.0 L1579.2,1019.8 L1574.1,1020.0 L1569.5,1022.0 L1566.0,1026.0 L1560.6,1027.0 L1556.5,1030.0 L1554.2,1034.9 L1549.6,1037.8 L1546.5,1042.0 L1544.9,1047.3 L1541.3,1051.7 L1539.5,1057.0 L1541.6,1062.2 L1540.6,1067.7 L1541.5,1073.0 L1544.5,1078.1 L1545.5,1084.0 L1549.7,1086.8 L1552.5,1091.0 L1558.2,1090.6 L1563.8,1092.3 L1569.5,1092.5 L1574.4,1091.2 L1579.5,1092.1 L1584.5,1091.5 L1589.8,1089.4 L1595.5,1089.0 L1594.2,1084.0 L1596.2,1079.0 L1595.1,1074.0 L1596.6,1069.0 L1595.6,1064.0 L1596.5,1059.0 L1594.8,1054.1 L1596.6,1049.0 L1594.7,1044.0 L1596.5,1039.0 L1594.9,1034.0 L1595.5,1029.0 L1593.7,1024.2 L1594.6,1018.9Z" fill="url(#mDark)" stroke="#2f3f28" stroke-width="1.1" stroke-linejoin="round"/>
<g stroke="#0a0a0a" fill="none" stroke-linecap="round" stroke-linejoin="round"><polygon fill="#0a0a0a" stroke="none" points="1577.3,1120.0 1573.3,1099.0 1571.3,1085.0 1577.3,1083.0 1581.3,1097.0 1584.3,1120.0"/><path d="M1575.3,1113.0 L1564.3,1103.0 L1554.3,1093.0" stroke-width="2.4"/><path d="M1564.3,1103.0 L1548.3,1102.0" stroke-width="1.6"/></g>
<g stroke="#2a2a2a" fill="none" stroke-linecap="round" stroke-linejoin="round"><polygon fill="#2a2a2a" stroke="none" points="1586.3,1120.0 1586.3,1093.0 1583.5,1083.0 1588.5,1081.0 1592.0,1089.0 1592.5,1120.0"/><path d="M1586.5,1089.0 L1579.5,1077.0 L1571.5,1067.0 L1564.5,1061.0" stroke-width="3"/><path d="M1564.5,1061.0 L1555.5,1063.0" stroke-width="2"/><path d="M1565.5,1063.0 L1552.5,1078.0" stroke-width="1.3"/><path d="M1589.5,1089.0 L1588.5,1069.0 L1585.5,1053.0 L1581.5,1041.0" stroke-width="2.6"/><path d="M1588.5,1069.0 L1590.5,1057.0" stroke-width="1.8"/></g>
<path d="M1611.2,982.0 L1616.2,984.9 L1620.2,989.0 L1623.3,993.0 L1623.4,998.1 L1626.7,1002.0 L1627.2,1007.0 L1630.6,1010.7 L1632.0,1015.6 L1635.6,1019.2 L1637.2,1024.0 L1640.9,1028.4 L1641.8,1034.2 L1645.8,1038.5 L1647.2,1044.0 L1649.1,1048.8 L1648.4,1054.0 L1650.7,1058.8 L1650.2,1064.0 L1651.5,1069.6 L1650.3,1075.4 L1651.2,1081.0 L1648.7,1084.9 L1645.2,1088.0 L1639.4,1090.2 L1633.2,1090.5 L1628.3,1090.7 L1624.0,1088.3 L1619.2,1088.0 L1613.4,1090.3 L1607.2,1090.5 L1600.2,1088.0 L1596.1,1085.3 L1593.7,1081.0 L1592.2,1075.4 L1592.7,1069.6 L1591.7,1064.0 L1590.3,1059.0 L1591.8,1054.0 L1590.1,1049.0 L1591.2,1044.0 L1591.3,1038.9 L1593.1,1034.1 L1592.4,1028.8 L1594.2,1024.0 L1595.3,1018.2 L1597.9,1012.8 L1599.2,1007.0 L1600.6,1001.9 L1604.7,998.3 L1606.1,993.2 L1609.2,989.0Z" fill="url(#tDark)" stroke="#2f3f28" stroke-width="1.1" stroke-linejoin="round"/>
<g stroke="#0a0a0a" fill="none" stroke-linecap="round" stroke-linejoin="round"><polygon fill="#0a0a0a" stroke="none" points="1610.2,1120.0 1611.2,1099.0 1611.2,1077.0 1607.2,1069.0 1613.2,1069.0 1615.2,1073.0 1618.2,1065.0 1622.2,1063.0 1619.7,1077.0 1619.2,1099.0 1620.7,1120.0"/><path d="M1611.2,1073.0 L1603.2,1067.0 L1597.2,1057.0" stroke-width="2.6"/><path d="M1603.2,1067.0 L1601.2,1055.0" stroke-width="1.6"/><path d="M1610.2,1075.0 L1599.2,1081.0" stroke-width="2"/><path d="M1614.2,1071.0 L1610.2,1049.0 L1605.2,1031.0 L1599.2,1019.0" stroke-width="2.4"/><path d="M1610.2,1049.0 L1610.2,1027.0 L1609.2,1015.0" stroke-width="2"/><path d="M1618.2,1067.0 L1620.2,1047.0 L1617.2,1031.0 L1618.2,1017.0" stroke-width="2"/><path d="M1620.2,1047.0 L1623.2,1029.0 L1623.2,1019.0" stroke-width="1.8"/></g>
<path d="M1674.5,1014.0 L1669.9,1016.9 L1664.5,1017.0 L1660.1,1019.5 L1655.0,1019.8 L1650.5,1022.0 L1646.7,1025.5 L1641.6,1026.9 L1637.5,1030.0 L1634.9,1034.6 L1630.5,1037.7 L1627.5,1042.0 L1626.3,1047.5 L1622.6,1051.9 L1620.5,1057.0 L1622.5,1062.2 L1621.5,1067.7 L1622.5,1073.0 L1625.6,1078.1 L1626.5,1084.0 L1631.0,1086.5 L1633.5,1091.0 L1639.3,1090.3 L1644.8,1092.5 L1650.5,1092.5 L1655.4,1091.2 L1660.5,1092.3 L1665.5,1091.5 L1670.8,1089.5 L1676.5,1089.0 L1675.6,1084.0 L1677.1,1079.0 L1675.5,1073.9 L1677.5,1069.0 L1676.1,1064.0 L1677.5,1059.0 L1676.2,1054.0 L1677.6,1049.0 L1675.5,1044.0 L1677.3,1039.0 L1675.3,1034.0 L1676.5,1029.0 L1675.0,1024.1 L1675.5,1019.0Z" fill="url(#mOrange)" stroke="#2f3f28" stroke-width="1.1" stroke-linejoin="round"/>
<g stroke="#0a0a0a" fill="none" stroke-linecap="round" stroke-linejoin="round"><polygon fill="#0a0a0a" stroke="none" points="1657.5,1120.0 1653.5,1099.0 1651.5,1085.0 1657.5,1083.0 1661.5,1097.0 1664.5,1120.0"/><path d="M1655.5,1113.0 L1644.5,1103.0 L1634.5,1093.0" stroke-width="2.4"/><path d="M1644.5,1103.0 L1628.5,1102.0" stroke-width="1.6"/></g>
<g stroke="#2a2a2a" fill="none" stroke-linecap="round" stroke-linejoin="round"><polygon fill="#2a2a2a" stroke="none" points="1667.3,1120.0 1667.3,1093.0 1664.5,1083.0 1669.5,1081.0 1673.0,1089.0 1673.5,1120.0"/><path d="M1667.5,1089.0 L1660.5,1077.0 L1652.5,1067.0 L1645.5,1061.0" stroke-width="3"/><path d="M1645.5,1061.0 L1636.5,1063.0" stroke-width="2"/><path d="M1646.5,1063.0 L1633.5,1078.0" stroke-width="1.3"/><path d="M1670.5,1089.0 L1669.5,1069.0 L1666.5,1053.0 L1662.5,1041.0" stroke-width="2.6"/><path d="M1669.5,1069.0 L1671.5,1057.0" stroke-width="1.8"/></g>
<g stroke="#0a0a0a" fill="none" stroke-linecap="round" stroke-linejoin="round"><polygon fill="#0a0a0a" stroke="none" points="1741,1120 1737,1096 1732,1078 1735,1074 1742,1080 1747,1096 1752,1120"/><path d="M1735,1078 L1738,1066 L1746,1056 L1760,1050 Q1768,1046 1772,1036" stroke-width="3"/><path d="M1740,1082 L1752,1076 L1770,1074 Q1780,1070 1786,1062" stroke-width="2.8"/><path d="M1737,1070 L1742,1058 Q1752,1050 1754,1040" stroke-width="2.2"/><path d="M1756,1052 Q1764,1050 1768,1044" stroke-width="1.8"/><path d="M1740,1108 L1728,1098 L1716,1096" stroke-width="2.2"/><path d="M1728,1098 L1720,1090" stroke-width="1.6"/></g>
<path d="M1694.6,982.0 L1699.8,984.6 L1703.6,989.0 L1706.4,993.1 L1706.6,998.2 L1710.2,1002.0 L1710.6,1007.0 L1714.2,1010.6 L1715.3,1015.7 L1719.0,1019.2 L1720.6,1024.0 L1724.3,1028.4 L1725.2,1034.2 L1728.9,1038.6 L1730.6,1044.0 L1732.1,1048.9 L1731.5,1054.1 L1733.5,1058.9 L1733.6,1064.0 L1734.6,1069.6 L1733.8,1075.4 L1734.6,1081.0 L1732.2,1085.0 L1728.6,1088.0 L1722.8,1090.0 L1716.6,1090.5 L1711.7,1090.8 L1707.4,1088.3 L1702.6,1088.0 L1696.8,1090.3 L1690.6,1090.5 L1683.6,1088.0 L1679.3,1085.5 L1677.1,1081.0 L1675.3,1075.5 L1676.1,1069.6 L1675.1,1064.0 L1673.7,1059.0 L1675.2,1054.0 L1673.7,1049.0 L1674.6,1044.0 L1674.2,1038.8 L1676.4,1034.0 L1675.9,1028.9 L1677.6,1024.0 L1678.0,1018.0 L1681.4,1012.8 L1682.6,1007.0 L1683.9,1001.8 L1687.9,998.2 L1689.1,992.9 L1692.6,989.0Z" fill="url(#tOrange)" stroke="#2f3f28" stroke-width="1.1" stroke-linejoin="round"/>
<g stroke="#0a0a0a" fill="none" stroke-linecap="round" stroke-linejoin="round"><polygon fill="#0a0a0a" stroke="none" points="1693.6,1120.0 1694.6,1099.0 1694.6,1077.0 1690.6,1069.0 1696.6,1069.0 1698.6,1073.0 1701.6,1065.0 1705.6,1063.0 1703.1,1077.0 1702.6,1099.0 1704.1,1120.0"/><path d="M1694.6,1073.0 L1686.6,1067.0 L1680.6,1057.0" stroke-width="2.6"/><path d="M1686.6,1067.0 L1684.6,1055.0" stroke-width="1.6"/><path d="M1693.6,1075.0 L1682.6,1081.0" stroke-width="2"/><path d="M1697.6,1071.0 L1693.6,1049.0 L1688.6,1031.0 L1682.6,1019.0" stroke-width="2.4"/><path d="M1693.6,1049.0 L1693.6,1027.0 L1692.6,1015.0" stroke-width="2"/><path d="M1701.6,1067.0 L1703.6,1047.0 L1700.6,1031.0 L1701.6,1017.0" stroke-width="2"/><path d="M1703.6,1047.0 L1706.6,1029.0 L1706.6,1019.0" stroke-width="1.8"/></g>
<path d="M1217.4,1175.5 L1217.4,1118.0 Q1228.4,1117.8 1239.4,1118.1 Q1250.4,1119.4 1261.4,1117.9 Q1272.4,1118.0 1283.4,1118.1 Q1294.4,1117.0 1305.4,1118.0 Q1316.4,1118.4 1327.4,1118.5 Q1338.4,1116.7 1349.4,1117.7 Q1360.4,1116.7 1371.4,1118.5 Q1382.4,1118.6 1393.4,1117.3 Q1404.4,1119.5 1415.4,1118.7 Q1426.4,1118.5 1437.4,1118.2 Q1448.4,1116.9 1459.4,1117.2 Q1470.4,1118.1 1481.4,1117.3 Q1492.4,1117.0 1503.4,1117.6 Q1514.4,1116.5 1525.4,1117.9 Q1536.4,1117.8 1547.4,1118.5 Q1558.4,1118.1 1569.4,1118.2 Q1580.4,1118.0 1591.4,1118.3 Q1602.4,1117.9 1613.4,1117.6 Q1624.4,1119.6 1635.4,1118.8 Q1646.4,1119.1 1657.4,1118.3 Q1668.4,1117.4 1679.4,1117.6 Q1690.4,1117.3 1701.4,1117.3 Q1712.4,1118.9 1723.4,1117.8 Q1734.4,1119.1 1745.4,1117.8 Q1756.4,1119.5 1767.4,1118.6 Q1778.4,1116.4 1789.4,1117.5 Q1799.7,1119.3 1810.0,1118.0 L1810,1175.5Z" fill="#a66d3a"/>
<path d="M1217.4,1175.5 L1217.4,1132.8 Q1228.4,1134.9 1239.4,1132.6 Q1250.4,1130.9 1261.4,1133.1 Q1272.4,1134.0 1283.4,1132.3 Q1294.4,1131.0 1305.4,1132.4 Q1316.4,1134.8 1327.4,1133.4 Q1338.4,1131.1 1349.4,1132.2 Q1360.4,1131.0 1371.4,1131.8 Q1382.4,1134.1 1393.4,1132.1 Q1404.4,1133.1 1415.4,1132.7 Q1426.4,1131.4 1437.4,1133.3 Q1448.4,1131.2 1459.4,1133.1 Q1470.4,1131.1 1481.4,1132.6 Q1492.4,1131.5 1503.4,1132.3 Q1514.4,1134.9 1525.4,1133.5 Q1536.4,1131.9 1547.4,1133.6 Q1558.4,1131.5 1569.4,1132.6 Q1580.4,1134.4 1591.4,1133.1 Q1602.4,1131.0 1613.4,1133.9 Q1624.4,1131.5 1635.4,1132.3 Q1646.4,1134.0 1657.4,1132.4 Q1668.4,1131.9 1679.4,1131.9 Q1690.4,1131.0 1701.4,1133.0 Q1712.4,1131.7 1723.4,1133.0 Q1734.4,1132.2 1745.4,1132.7 Q1756.4,1134.8 1767.4,1132.8 Q1778.4,1133.1 1789.4,1133.6 Q1799.7,1131.4 1810.0,1132.0 L1810,1175.5Z" fill="#985e29"/>
<path d="M1217.4,1175.5 L1217.4,1150.9 Q1228.4,1152.7 1239.4,1151.6 Q1250.4,1149.8 1261.4,1150.2 Q1272.4,1152.0 1283.4,1151.9 Q1294.4,1149.6 1305.4,1151.9 Q1316.4,1152.6 1327.4,1151.2 Q1338.4,1150.6 1349.4,1150.1 Q1360.4,1148.9 1371.4,1151.9 Q1382.4,1149.8 1393.4,1151.4 Q1404.4,1149.9 1415.4,1151.6 Q1426.4,1151.4 1437.4,1150.5 Q1448.4,1149.5 1459.4,1151.4 Q1470.4,1149.0 1481.4,1150.3 Q1492.4,1151.2 1503.4,1151.7 Q1514.4,1151.4 1525.4,1150.4 Q1536.4,1152.8 1547.4,1150.3 Q1558.4,1148.8 1569.4,1150.4 Q1580.4,1150.7 1591.4,1150.0 Q1602.4,1149.5 1613.4,1150.6 Q1624.4,1151.2 1635.4,1150.1 Q1646.4,1150.3 1657.4,1151.8 Q1668.4,1153.0 1679.4,1151.3 Q1690.4,1151.8 1701.4,1151.1 Q1712.4,1149.3 1723.4,1149.9 Q1734.4,1148.8 1745.4,1151.8 Q1756.4,1151.8 1767.4,1151.9 Q1778.4,1148.8 1789.4,1151.2 Q1799.7,1150.9 1810.0,1151.4 L1810,1175.5Z" fill="#8e561c"/>
<polygon points="1231.4,1163.9 1243.4,1160.9 1261.4,1162.9 1257.4,1167.9 1239.4,1168.4" fill="#7f4c13"/>
<polygon points="1301.4,1162.4 1313.4,1159.4 1331.4,1161.4 1327.4,1166.4 1309.4,1166.9" fill="#7f4c13"/>
<polygon points="1362.3,1166.4 1374.3,1163.4 1392.3,1165.4 1388.3,1170.4 1370.3,1170.9" fill="#7f4c13"/>
<polygon points="1430.3,1166.4 1442.3,1163.4 1460.3,1165.4 1456.3,1170.4 1438.3,1170.9" fill="#7f4c13"/>
<polygon points="1494.4,1166.7 1506.4,1163.7 1524.4,1165.7 1520.4,1170.7 1502.4,1171.2" fill="#7f4c13"/>
<polygon points="1562.7,1164.1 1574.7,1161.1 1592.7,1163.1 1588.7,1168.1 1570.7,1168.6" fill="#7f4c13"/>
<polygon points="1626.4,1167.4 1638.4,1164.4 1656.4,1166.4 1652.4,1171.4 1634.4,1171.9" fill="#7f4c13"/>
<polygon points="1693.8,1164.5 1705.8,1161.5 1723.8,1163.5 1719.8,1168.5 1701.8,1169.0" fill="#7f4c13"/>
<polygon points="1759.6,1167.2 1771.6,1164.2 1789.6,1166.2 1785.6,1171.2 1767.6,1171.7" fill="#7f4c13"/>
<rect x="1582.5" y="1140.9" width="7.3" height="1.6" fill="#c08d5f" opacity="0.85"/>
<rect x="1573.3" y="1126.0" width="7.6" height="1.6" fill="#c08d5f" opacity="0.85"/>
<rect x="1794.2" y="1165.5" width="7.9" height="1.6" fill="#c08d5f" opacity="0.85"/>
<rect x="1446.6" y="1158.4" width="7.3" height="1.6" fill="#c08d5f" opacity="0.85"/>
<rect x="1476.5" y="1163.5" width="5.3" height="1.6" fill="#c08d5f" opacity="0.85"/>
<rect x="1654.5" y="1123.5" width="7.4" height="1.6" fill="#c08d5f" opacity="0.85"/>
<rect x="1499.8" y="1133.4" width="7.8" height="1.6" fill="#c08d5f" opacity="0.85"/>
<rect x="1509.1" y="1152.4" width="8.7" height="1.6" fill="#c08d5f" opacity="0.85"/>
<rect x="1370.4" y="1122.6" width="6.2" height="1.6" fill="#c08d5f" opacity="0.85"/>
<rect x="1613.1" y="1132.0" width="5.7" height="1.6" fill="#c08d5f" opacity="0.85"/>
<rect x="1743.8" y="1154.7" width="6.8" height="1.6" fill="#c08d5f" opacity="0.85"/>
<rect x="1735.8" y="1138.2" width="7.7" height="1.6" fill="#c08d5f" opacity="0.85"/>
<rect x="1337.5" y="1143.3" width="8.2" height="1.6" fill="#c08d5f" opacity="0.85"/>
<rect x="1748.7" y="1165.6" width="6.5" height="1.6" fill="#c08d5f" opacity="0.85"/>
<rect x="1558.5" y="1137.7" width="5.5" height="1.6" fill="#c08d5f" opacity="0.85"/>
<rect x="1508.7" y="1163.4" width="8.4" height="1.6" fill="#c08d5f" opacity="0.85"/>
<rect x="1632.1" y="1169.0" width="6.1" height="1.6" fill="#c08d5f" opacity="0.85"/>
<rect x="1320.6" y="1144.3" width="6.1" height="1.6" fill="#c08d5f" opacity="0.85"/>
<rect x="1346.4" y="1142.5" width="7.5" height="1.6" fill="#c08d5f" opacity="0.85"/>
<rect x="1507.2" y="1137.6" width="8.4" height="1.6" fill="#c08d5f" opacity="0.85"/>
<rect x="1787.7" y="1144.4" width="5.3" height="1.6" fill="#c08d5f" opacity="0.85"/>
<rect x="1241.5" y="1165.2" width="5.2" height="1.6" fill="#c08d5f" opacity="0.85"/>
<rect x="1630.6" y="1150.2" width="6.2" height="1.6" fill="#c08d5f" opacity="0.85"/>
<rect x="1678.2" y="1122.9" width="5.5" height="1.6" fill="#c08d5f" opacity="0.85"/>
<rect x="1484.7" y="1123.2" width="8.3" height="1.6" fill="#c08d5f" opacity="0.85"/>
<rect x="1359.8" y="1129.0" width="5.2" height="1.6" fill="#c08d5f" opacity="0.85"/>
<rect x="1584.9" y="1144.1" width="7.5" height="1.6" fill="#c08d5f" opacity="0.85"/>
<rect x="1599.8" y="1162.0" width="8.8" height="1.6" fill="#c08d5f" opacity="0.85"/>
<rect x="1616.7" y="1131.9" width="6.9" height="1.6" fill="#c08d5f" opacity="0.85"/>
<rect x="1326.1" y="1122.5" width="6.9" height="1.6" fill="#c08d5f" opacity="0.85"/>
<rect x="1633.8" y="1130.9" width="6.1" height="1.6" fill="#c08d5f" opacity="0.85"/>
<rect x="1422.1" y="1156.5" width="7.1" height="1.6" fill="#c08d5f" opacity="0.85"/>
<rect x="1576.5" y="1159.4" width="6.6" height="1.6" fill="#c08d5f" opacity="0.85"/>
<rect x="1678.4" y="1166.9" width="5.3" height="1.6" fill="#c08d5f" opacity="0.85"/>
<rect x="1759.3" y="1157.8" width="5.5" height="1.6" fill="#c08d5f" opacity="0.85"/>
<rect x="1484.0" y="1153.0" width="8.6" height="1.6" fill="#c08d5f" opacity="0.85"/>
<rect x="1439.9" y="1150.2" width="8.5" height="1.6" fill="#c08d5f" opacity="0.85"/>
<rect x="1681.2" y="1168.7" width="6.9" height="1.6" fill="#c08d5f" opacity="0.85"/>
<rect x="1597.6" y="1132.1" width="7.9" height="1.6" fill="#c08d5f" opacity="0.85"/>
<rect x="1693.6" y="1153.8" width="7.9" height="1.6" fill="#c08d5f" opacity="0.85"/>
<rect x="1346.0" y="1166.5" width="8.9" height="1.6" fill="#c08d5f" opacity="0.85"/>
<rect x="1785.0" y="1148.6" width="8.2" height="1.6" fill="#c08d5f" opacity="0.85"/>
<rect x="1407.5" y="1167.0" width="8.4" height="1.6" fill="#c08d5f" opacity="0.85"/>
<rect x="1423.7" y="1126.1" width="6.8" height="1.6" fill="#c08d5f" opacity="0.85"/>
<rect x="1539.6" y="1160.0" width="6.9" height="1.6" fill="#c08d5f" opacity="0.85"/>
<rect x="1239.7" y="1162.1" width="5.3" height="1.6" fill="#c08d5f" opacity="0.85"/>
<rect x="1683.0" y="1130.6" width="6.3" height="1.6" fill="#c08d5f" opacity="0.85"/>
<rect x="1676.1" y="1129.0" width="5.6" height="1.6" fill="#c08d5f" opacity="0.85"/>
<rect x="1520.2" y="1157.8" width="8.4" height="1.6" fill="#c08d5f" opacity="0.85"/>
<rect x="1619.5" y="1168.8" width="7.0" height="1.6" fill="#c08d5f" opacity="0.85"/>
<rect x="1768.8" y="1126.3" width="5.9" height="1.6" fill="#c08d5f" opacity="0.85"/>
<rect x="1526.0" y="1136.4" width="7.9" height="1.6" fill="#c08d5f" opacity="0.85"/>
<rect x="1590.5" y="1147.9" width="8.4" height="1.6" fill="#c08d5f" opacity="0.85"/>
<rect x="1545.2" y="1137.4" width="6.5" height="1.6" fill="#c08d5f" opacity="0.85"/>
<rect x="1709.1" y="1166.6" width="5.8" height="1.6" fill="#c08d5f" opacity="0.85"/>
<rect x="1712.3" y="1169.9" width="7.1" height="1.6" fill="#c08d5f" opacity="0.85"/>
<rect x="1552.6" y="1131.9" width="7.1" height="1.6" fill="#c08d5f" opacity="0.85"/>
<rect x="1512.5" y="1152.0" width="5.1" height="1.6" fill="#c08d5f" opacity="0.85"/>
<rect x="1780.4" y="1147.5" width="6.6" height="1.6" fill="#c08d5f" opacity="0.85"/>
<rect x="1683.7" y="1149.9" width="7.0" height="1.6" fill="#c08d5f" opacity="0.85"/>
<rect x="1620.4" y="1125.3" width="7.2" height="1.6" fill="#c08d5f" opacity="0.85"/>
<rect x="1461.2" y="1169.4" width="8.7" height="1.6" fill="#c08d5f" opacity="0.85"/>
<rect x="1378.1" y="1145.4" width="5.5" height="1.6" fill="#c08d5f" opacity="0.85"/>
<rect x="1472.6" y="1162.4" width="8.6" height="1.6" fill="#c08d5f" opacity="0.85"/>
<rect x="1497.2" y="1137.7" width="5.8" height="1.6" fill="#c08d5f" opacity="0.85"/>
<g><ellipse cx="891.4" cy="142.6" rx="66" ry="14" fill="#d8d2cc" opacity="0.35" filter="url(#shadow)"/><path d="M845.5,149.2 l-20.3,5.7 M847.4,151.4 l-8.9,5.3 M850.7,148.1 l-16.9,15.1 M843.0,143.4 l-15.7,8.1 M835.7,143.0 l-13.3,3.9 M847.8,142.4 l-16.0,13.9 M845.4,142.0 l-9.5,3.1 M838.9,143.0 l-22.6,7.3 M840.1,151.8 l-16.0,7.1 M838.8,151.6 l-19.0,5.1 M849.9,144.0 l-11.5,9.7 M837.8,141.2 l-12.7,6.3 M835.5,148.5 l-12.0,8.6 M848.7,146.2 l-12.5,7.3 M846.8,141.1 l-16.8,16.6 M847.6,150.5 l-9.6,3.6 M841.4,147.3 l-7.3,7.0 M838.4,151.8 l-11.9,4.7 M850.5,151.6 l-12.3,8.3 M843.9,149.6 l-10.7,4.3 M848.3,150.6 l-10.1,2.8 M836.9,144.5 l-17.8,5.2 M841.0,151.4 l-14.4,10.2 M840.6,142.6 l-8.4,7.2 M846.6,152.3 l-8.8,8.5 M851.4,146.8 l-12.4,9.6 M945.2,145.0 l13.3,-1.8 M935.4,146.6 l8.4,-0.5 M949.7,133.0 l15.1,7.2 M945.9,144.4 l9.2,-1.1 M937.1,145.3 l11.5,-1.2 M952.6,145.5 l19.6,-2.0 M943.3,143.3 l13.2,-3.8 M941.8,133.3 l11.1,5.9 M951.9,141.6 l13.6,-3.2 M936.0,135.5 l16.3,6.0 M941.0,144.3 l17.1,2.8 M946.5,143.9 l12.2,2.2 M939.5,139.2 l17.0,2.7 M939.7,147.1 l15.8,0.6 M934.6,140.2 l10.9,1.5 M942.8,144.8 l15.2,4.3 M940.7,141.9 l16.0,5.2 M940.8,145.3 l18.2,2.9 M952.2,147.3 l14.2,-0.3 M937.4,145.2 l19.2,-1.4 M947.0,143.2 l15.4,-6.7 M948.6,140.8 l15.8,-2.2 M945.8,144.1 l15.4,3.0 M934.9,133.6 l13.2,1.5 M938.4,142.6 l13.2,-8.2 M943.0,134.7 l7.8,-3.8 M873.4,126.9 l-2.2,-3.3 M890.1,127.8 l0.8,-6.0 M864.5,131.7 l-0.3,-3.0 M869.1,128.4 l1.6,-3.2 M879.8,125.8 l-2.9,-5.3 M899.2,127.4 l3.4,-4.8 M930.0,127.3 l1.4,-6.9 M879.3,126.5 l0.6,-5.9 M945.7,130.5 l-1.0,-6.0 M938.5,124.4 l0.4,-3.5 M907.1,125.9 l3.1,-5.3 M880.0,128.4 l-1.0,-4.0 M947.4,126.7 l4.1,-6.6 M904.9,126.8 l0.1,-7.9 M884.5,127.5 l0.1,-7.9 M870.0,128.9 l0.6,-3.6 M887.7,127.3 l3.0,-6.2 M839.1,129.8 l2.4,-3.6 M925.9,126.2 l-1.8,-3.9 M949.2,126.1 l-0.1,-6.0 M910.4,128.9 l-3.1,-6.0 M923.5,126.7 l-1.1,-5.6 M871.1,129.2 l-0.8,-5.3 M921.7,128.6 l-0.9,-3.0 M889.1,131.3 l0.6,-7.4 M839.3,131.4 l0.6,-5.1 M917.6,128.9 l2.9,-4.6 M881.1,128.1 l-2.7,-6.8 M871.1,131.1 l1.5,-3.0 M916.0,127.7 l1.7,-4.1 M940.4,125.3 l0.5,-5.4 M893.8,127.4 l0.5,-3.7 M929.3,125.0 l1.8,-3.8 M927.0,128.9 l1.0,-3.0 M948.1,130.7 l-3.5,-5.5 M932.7,125.9 l3.6,-5.1 M918.0,125.7 l2.4,-3.8 M854.5,130.0 l-2.1,-4.6 M907.9,125.3 l-0.5,-3.5 M845.8,126.6 l1.9,-5.5 M936.8,125.3 l-1.1,-5.0 M905.4,128.2 l-1.1,-7.6 M843.9,130.8 l0.7,-3.7 M894.7,131.2 l1.0,-5.7 M867.3,129.4 l1.5,-4.0 M896.0,126.1 l-0.6,-4.1 M920.8,125.9 l1.4,-6.4 M847.2,130.5 l-1.6,-3.1 M904.7,126.6 l-0.0,-7.4 M874.1,130.8 l1.0,-3.0 " stroke="#9a7250" stroke-width="0.9" fill="none" opacity="0.75" filter="url(#fuzz)"/><g filter="url(#fuzz2)"><path d="M834.4,137.2 Q834.4,128.1 845.1,129.2 L875.2,130.3 L903.2,126.0 Q909.6,117.9 916.1,121.1 Q920.4,116.8 924.7,125.4 L945.1,131.9 Q954.8,137.2 952.6,145.8 L934.4,151.2 L896.8,152.3 L860.2,153.4 L838.7,152.3 Q833.3,148.0 834.4,137.2Z" fill="#5c2d14"/><polygon points="836.5,148.0 844.6,147.5 836.0,156.1" fill="#7a3c1a"/><polygon points="847.3,148.0 855.4,147.5 846.8,156.1" fill="#7a3c1a"/><polygon points="858.0,148.0 866.1,147.5 857.5,156.1" fill="#7a3c1a"/><polygon points="871.0,148.0 879.0,147.5 870.4,156.1" fill="#7a3c1a"/><polygon points="884.9,148.0 893.0,147.5 884.4,156.1" fill="#7a3c1a"/><polygon points="896.8,148.0 904.8,147.5 896.2,156.1" fill="#7a3c1a"/><polygon points="907.5,148.0 915.6,147.5 907.0,156.1" fill="#7a3c1a"/><polygon points="921.5,148.0 929.5,147.5 920.9,156.1" fill="#7a3c1a"/><polygon points="932.2,148.0 940.3,147.5 931.7,156.1" fill="#7a3c1a"/><path d="M840.9,142.6 L875.2,145.3 L907.5,142.1 L945.1,139.4" stroke="#e2401c" stroke-width="3.6" fill="none"/><circle cx="841.6" cy="130.1" r="1.5" fill="#b96a25"/><circle cx="861.1" cy="129.6" r="1.7" fill="#b96a25"/><circle cx="851.6" cy="136.2" r="1.7" fill="#2a130a"/><circle cx="868.8" cy="140.1" r="1.7" fill="#2a130a"/><circle cx="879.0" cy="137.4" r="1.5" fill="#2a130a"/><circle cx="928.0" cy="132.1" r="1.4" fill="#2a130a"/><circle cx="903.6" cy="135.2" r="1.2" fill="#8c4517"/><circle cx="846.6" cy="128.5" r="1.0" fill="#8c4517"/><circle cx="891.8" cy="140.2" r="0.8" fill="#2a130a"/><circle cx="889.6" cy="139.6" r="1.8" fill="#3a1a0c"/><circle cx="872.7" cy="134.1" r="1.0" fill="#8c4517"/><circle cx="853.8" cy="132.9" r="1.8" fill="#b96a25"/><circle cx="889.5" cy="135.2" r="1.1" fill="#a4581f"/><circle cx="854.1" cy="131.8" r="0.8" fill="#8c4517"/><circle cx="938.6" cy="130.5" r="1.1" fill="#2a130a"/><circle cx="842.2" cy="128.4" r="1.3" fill="#b96a25"/><circle cx="944.2" cy="127.3" r="1.1" fill="#2a130a"/><circle cx="913.1" cy="136.7" r="0.8" fill="#8c4517"/><circle cx="917.7" cy="134.5" r="1.5" fill="#a4581f"/><circle cx="940.3" cy="135.0" r="1.0" fill="#2a130a"/><circle cx="877.1" cy="129.0" r="1.0" fill="#b96a25"/><circle cx="863.1" cy="136.8" r="1.5" fill="#a4581f"/><circle cx="885.0" cy="140.7" r="1.3" fill="#a4581f"/><circle cx="887.6" cy="136.9" r="0.8" fill="#8c4517"/><circle cx="898.6" cy="140.8" r="1.4" fill="#3a1a0c"/><circle cx="943.5" cy="135.0" r="1.8" fill="#8c4517"/><circle cx="892.0" cy="140.2" r="1.6" fill="#a4581f"/><circle cx="909.6" cy="133.9" r="0.9" fill="#a4581f"/><circle cx="931.3" cy="132.1" r="1.8" fill="#a4581f"/><circle cx="944.8" cy="128.2" r="1.5" fill="#3a1a0c"/><circle cx="857.1" cy="131.1" r="1.7" fill="#2a130a"/><circle cx="845.5" cy="140.8" r="1.5" fill="#8c4517"/><circle cx="934.0" cy="129.0" r="1.3" fill="#a4581f"/><circle cx="876.6" cy="133.6" r="1.4" fill="#b96a25"/><circle cx="850.7" cy="128.3" r="1.6" fill="#2a130a"/><circle cx="938.0" cy="138.9" r="0.9" fill="#3a1a0c"/><circle cx="871.3" cy="129.2" r="1.7" fill="#2a130a"/><circle cx="871.5" cy="129.8" r="1.3" fill="#a4581f"/><circle cx="915.7" cy="137.5" r="1.5" fill="#3a1a0c"/><circle cx="867.2" cy="134.5" r="0.9" fill="#8c4517"/><circle cx="858.5" cy="131.8" r="1.8" fill="#2a130a"/><circle cx="843.7" cy="138.0" r="1.6" fill="#b96a25"/><circle cx="899.4" cy="139.5" r="1.4" fill="#8c4517"/><circle cx="886.3" cy="138.6" r="1.6" fill="#a4581f"/><circle cx="916.1" cy="130.6" r="1.4" fill="#b96a25"/><circle cx="872.4" cy="132.1" r="1.1" fill="#8c4517"/><circle cx="913.2" cy="131.0" r="1.4" fill="#a4581f"/><circle cx="920.5" cy="127.3" r="0.9" fill="#a4581f"/><circle cx="850.4" cy="132.7" r="1.8" fill="#2a130a"/><circle cx="905.9" cy="130.6" r="0.9" fill="#b96a25"/><circle cx="858.6" cy="132.7" r="1.4" fill="#8c4517"/><circle cx="930.6" cy="135.8" r="1.1" fill="#a4581f"/><circle cx="905.2" cy="135.8" r="1.3" fill="#8c4517"/><circle cx="943.4" cy="136.0" r="1.2" fill="#a4581f"/><circle cx="886.8" cy="131.1" r="1.3" fill="#3a1a0c"/><circle cx="886.2" cy="138.0" r="1.4" fill="#8c4517"/><circle cx="947.0" cy="133.3" r="0.9" fill="#a4581f"/><circle cx="933.3" cy="135.1" r="1.9" fill="#8c4517"/><circle cx="839.3" cy="135.6" r="1.6" fill="#b96a25"/><circle cx="876.2" cy="134.1" r="1.1" fill="#8c4517"/><circle cx="858.6" cy="135.4" r="1.6" fill="#2a130a"/><circle cx="925.8" cy="131.4" r="1.7" fill="#8c4517"/><circle cx="911.8" cy="139.1" r="1.5" fill="#a4581f"/><circle cx="881.6" cy="130.0" r="1.3" fill="#8c4517"/><circle cx="839.8" cy="130.3" r="1.6" fill="#a4581f"/><circle cx="867.8" cy="140.0" r="1.3" fill="#2a130a"/><circle cx="889.6" cy="135.0" r="1.7" fill="#a4581f"/><circle cx="878.8" cy="128.2" r="1.5" fill="#3a1a0c"/><circle cx="906.9" cy="138.1" r="1.1" fill="#a4581f"/><circle cx="838.6" cy="132.1" r="1.4" fill="#b96a25"/><circle cx="898.2" cy="136.9" r="1.9" fill="#b96a25"/><circle cx="929.3" cy="138.4" r="1.5" fill="#3a1a0c"/><circle cx="897.2" cy="138.4" r="1.9" fill="#2a130a"/><circle cx="837.8" cy="138.0" r="1.1" fill="#8c4517"/><circle cx="844.4" cy="129.2" r="1.5" fill="#2a130a"/><circle cx="934.7" cy="138.4" r="1.1" fill="#b96a25"/><circle cx="942.4" cy="129.4" r="0.9" fill="#8c4517"/><circle cx="922.1" cy="135.5" r="1.8" fill="#2a130a"/><circle cx="914.6" cy="138.0" r="1.5" fill="#3a1a0c"/><circle cx="859.5" cy="134.8" r="1.1" fill="#a4581f"/><circle cx="947.6" cy="132.6" r="1.9" fill="#b96a25"/><circle cx="912.7" cy="132.2" r="1.8" fill="#3a1a0c"/><circle cx="940.2" cy="133.9" r="1.2" fill="#b96a25"/><circle cx="932.5" cy="137.8" r="1.1" fill="#2a130a"/><circle cx="847.0" cy="131.9" r="1.7" fill="#2a130a"/><circle cx="844.4" cy="140.4" r="1.5" fill="#a4581f"/><circle cx="923.6" cy="129.7" r="1.4" fill="#a4581f"/><circle cx="907.5" cy="135.8" r="1.6" fill="#3a1a0c"/><circle cx="883.4" cy="133.6" r="1.5" fill="#3a1a0c"/><circle cx="863.6" cy="133.5" r="1.5" fill="#a4581f"/><circle cx="946.7" cy="128.0" r="1.0" fill="#a4581f"/><circle cx="869.5" cy="135.3" r="1.0" fill="#3a1a0c"/><circle cx="857.4" cy="135.8" r="1.6" fill="#2a130a"/><circle cx="842.5" cy="134.4" r="1.9" fill="#3a1a0c"/><circle cx="872.1" cy="139.1" r="1.8" fill="#b96a25"/><circle cx="861.8" cy="137.1" r="1.7" fill="#b96a25"/><circle cx="835.7" cy="136.8" r="0.9" fill="#a4581f"/><circle cx="853.0" cy="136.1" r="1.4" fill="#a4581f"/><circle cx="886.2" cy="132.3" r="1.6" fill="#8c4517"/><circle cx="941.8" cy="138.2" r="1.2" fill="#a4581f"/><circle cx="929.1" cy="129.0" r="1.2" fill="#2a130a"/><circle cx="888.2" cy="136.9" r="1.1" fill="#a4581f"/><circle cx="943.8" cy="131.8" r="0.9" fill="#a4581f"/><circle cx="904.2" cy="132.6" r="1.3" fill="#a4581f"/><circle cx="946.2" cy="137.8" r="1.3" fill="#a4581f"/><circle cx="943.3" cy="135.0" r="0.9" fill="#a4581f"/><circle cx="890.6" cy="132.7" r="1.8" fill="#8c4517"/><circle cx="879.4" cy="131.9" r="1.5" fill="#b96a25"/><circle cx="923.6" cy="127.9" r="1.1" fill="#a4581f"/><circle cx="874.2" cy="139.1" r="1.3" fill="#3a1a0c"/><circle cx="860.8" cy="140.8" r="1.5" fill="#2a130a"/><circle cx="843.9" cy="131.6" r="1.4" fill="#a4581f"/><circle cx="885.2" cy="130.4" r="1.7" fill="#b96a25"/><circle cx="863.7" cy="133.9" r="1.7" fill="#8c4517"/><circle cx="836.1" cy="138.0" r="1.7" fill="#2a130a"/><circle cx="837.9" cy="135.4" r="1.8" fill="#b96a25"/><circle cx="844.5" cy="140.6" r="1.9" fill="#8c4517"/><circle cx="886.4" cy="134.2" r="1.9" fill="#a4581f"/><circle cx="904.3" cy="138.6" r="1.4" fill="#b96a25"/><circle cx="841.6" cy="133.2" r="1.3" fill="#3a1a0c"/><circle cx="917.3" cy="126.7" r="1.6" fill="#6b3414"/><circle cx="917.2" cy="120.8" r="1.4" fill="#6b3414"/><circle cx="914.0" cy="126.5" r="1.8" fill="#a4581f"/><circle cx="906.7" cy="126.0" r="1.1" fill="#a4581f"/><circle cx="909.1" cy="125.7" r="1.4" fill="#8c4517"/><circle cx="924.6" cy="120.8" r="1.4" fill="#a4581f"/><circle cx="909.0" cy="122.1" r="0.9" fill="#6b3414"/><circle cx="908.7" cy="120.4" r="1.4" fill="#8c4517"/><circle cx="919.0" cy="119.3" r="1.4" fill="#8c4517"/><circle cx="910.0" cy="119.1" r="1.8" fill="#a4581f"/><circle cx="917.4" cy="120.1" r="1.2" fill="#a4581f"/><circle cx="923.6" cy="119.2" r="1.1" fill="#a4581f"/><circle cx="908.0" cy="120.1" r="1.6" fill="#a4581f"/><circle cx="920.6" cy="120.3" r="1.5" fill="#6b3414"/><circle cx="916.6" cy="121.4" r="1.0" fill="#a4581f"/><circle cx="913.3" cy="122.1" r="1.4" fill="#6b3414"/><circle cx="914.5" cy="126.5" r="2.0" fill="#8c4517"/><circle cx="911.2" cy="123.7" r="1.7" fill="#8c4517"/><circle cx="910.8" cy="124.7" r="1.0" fill="#8c4517"/><circle cx="920.5" cy="122.6" r="1.5" fill="#6b3414"/><circle cx="910.7" cy="121.6" r="1.8" fill="#8c4517"/><circle cx="907.1" cy="122.3" r="1.3" fill="#8c4517"/><circle cx="916.6" cy="122.8" r="1.0" fill="#8c4517"/><circle cx="923.3" cy="122.2" r="1.5" fill="#6b3414"/><circle cx="917.1" cy="124.1" r="1.3" fill="#a4581f"/><circle cx="911.9" cy="120.4" r="1.9" fill="#8c4517"/><circle cx="918.2" cy="119.4" r="1.1" fill="#6b3414"/><circle cx="913.5" cy="126.9" r="1.2" fill="#6b3414"/><circle cx="913.2" cy="122.5" r="1.4" fill="#8c4517"/><circle cx="915.5" cy="123.8" r="1.1" fill="#a4581f"/><circle cx="908.5" cy="148.9" r="0.7" fill="#e6dcd2" opacity="0.8"/><circle cx="929.4" cy="145.5" r="0.8" fill="#e6dcd2" opacity="0.8"/><circle cx="927.7" cy="146.5" r="0.7" fill="#e6dcd2" opacity="0.8"/><circle cx="910.6" cy="144.4" r="0.6" fill="#e6dcd2" opacity="0.8"/><circle cx="913.7" cy="143.6" r="1.2" fill="#e6dcd2" opacity="0.8"/><circle cx="924.9" cy="147.5" r="1.2" fill="#e6dcd2" opacity="0.8"/><circle cx="930.1" cy="149.7" r="1.0" fill="#e6dcd2" opacity="0.8"/><circle cx="921.5" cy="150.3" r="0.8" fill="#e6dcd2" opacity="0.8"/><circle cx="910.6" cy="146.3" r="1.1" fill="#e6dcd2" opacity="0.8"/><circle cx="922.6" cy="148.2" r="1.1" fill="#e6dcd2" opacity="0.8"/><circle cx="908.1" cy="145.8" r="0.9" fill="#e6dcd2" opacity="0.8"/><circle cx="920.6" cy="146.1" r="1.0" fill="#e6dcd2" opacity="0.8"/><circle cx="920.8" cy="148.4" r="1.1" fill="#e6dcd2" opacity="0.8"/><circle cx="925.3" cy="147.5" r="0.6" fill="#e6dcd2" opacity="0.8"/><circle cx="925.2" cy="144.9" r="1.0" fill="#e6dcd2" opacity="0.8"/><circle cx="920.9" cy="149.8" r="1.3" fill="#e6dcd2" opacity="0.8"/><circle cx="924.3" cy="144.6" r="0.9" fill="#e6dcd2" opacity="0.8"/><circle cx="915.0" cy="146.2" r="0.8" fill="#e6dcd2" opacity="0.8"/><circle cx="929.2" cy="145.0" r="1.1" fill="#e6dcd2" opacity="0.8"/><circle cx="919.8" cy="145.6" r="1.1" fill="#e6dcd2" opacity="0.8"/><circle cx="930.8" cy="145.0" r="1.0" fill="#e6dcd2" opacity="0.8"/><circle cx="918.8" cy="143.5" r="1.3" fill="#e6dcd2" opacity="0.8"/><circle cx="923.3" cy="146.1" r="1.0" fill="#e6dcd2" opacity="0.8"/><circle cx="917.3" cy="143.9" r="1.2" fill="#e6dcd2" opacity="0.8"/><circle cx="911.7" cy="146.7" r="1.3" fill="#e6dcd2" opacity="0.8"/><circle cx="916.0" cy="142.2" r="0.9" fill="#e6dcd2" opacity="0.8"/><circle cx="921.4" cy="146.7" r="1.3" fill="#e6dcd2" opacity="0.8"/><circle cx="912.9" cy="144.3" r="0.7" fill="#e6dcd2" opacity="0.8"/><circle cx="921.2" cy="144.4" r="0.8" fill="#e6dcd2" opacity="0.8"/><circle cx="922.8" cy="143.9" r="0.9" fill="#e6dcd2" opacity="0.8"/><circle cx="841.4" cy="137.2" r="2.6" fill="none" stroke="#1e0d06" stroke-width="1.1"/><circle cx="851.6" cy="136.6" r="2.6" fill="none" stroke="#1e0d06" stroke-width="1.1"/><circle cx="864.5" cy="135.9" r="2.6" fill="none" stroke="#1e0d06" stroke-width="1.1"/><circle cx="877.4" cy="135.1" r="2.6" fill="none" stroke="#1e0d06" stroke-width="1.1"/><circle cx="890.3" cy="134.3" r="2.6" fill="none" stroke="#1e0d06" stroke-width="1.1"/><circle cx="903.2" cy="133.5" r="2.6" fill="none" stroke="#1e0d06" stroke-width="1.1"/><circle cx="916.1" cy="132.8" r="2.6" fill="none" stroke="#1e0d06" stroke-width="1.1"/></g></g>
<g filter="url(#fuzz2)"><path d="M837.9,753.7 L907.3,724.0" stroke="#7a8450" stroke-width="1.1" fill="none"/><path d="M851.5,748.0 Q861.2,736.5 850.4,721.5 Q840.8,737.3 851.5,748.0Z" fill="#4b7d24" stroke="#3e6a1c" stroke-width="0.5"/><path d="M851.5,748.0 L850.4,721.5" stroke="#3f6c1d" stroke-width="0.4" opacity="0.6"/><path d="M862.9,743.4 Q872.2,727.7 857.2,711.1 Q848.8,731.9 862.9,743.4Z" fill="#47771f" stroke="#3e6a1c" stroke-width="0.5"/><path d="M862.9,743.4 L857.2,711.1" stroke="#3f6c1d" stroke-width="0.4" opacity="0.6"/><path d="M875.8,737.6 Q884.9,720.8 867.6,705.0 Q859.8,727.1 875.8,737.6Z" fill="#4f8226" stroke="#3e6a1c" stroke-width="0.5"/><path d="M875.8,737.6 L867.6,705.0" stroke="#3f6c1d" stroke-width="0.4" opacity="0.6"/><path d="M887.3,733.0 Q898.2,719.2 889.1,699.0 Q877.8,718.2 887.3,733.0Z" fill="#457521" stroke="#3e6a1c" stroke-width="0.5"/><path d="M887.3,733.0 L889.1,699.0" stroke="#3f6c1d" stroke-width="0.4" opacity="0.6"/><path d="M897.3,728.3 Q908.8,715.5 900.5,695.4 Q888.5,713.5 897.3,728.3Z" fill="#4d8025" stroke="#3e6a1c" stroke-width="0.5"/><path d="M897.3,728.3 L900.5,695.4" stroke="#3f6c1d" stroke-width="0.4" opacity="0.6"/><path d="M905.9,724.0 Q920.1,715.7 917.0,695.4 Q901.0,708.3 905.9,724.0Z" fill="#528729" stroke="#3e6a1c" stroke-width="0.5"/><path d="M905.9,724.0 L917.0,695.4" stroke="#3f6c1d" stroke-width="0.4" opacity="0.6"/><path d="M852.2,748.7 Q851.5,763.3 868.7,767.3 Q866.8,749.8 852.2,748.7Z" fill="#4b7d24" stroke="#3e6a1c" stroke-width="0.5"/><path d="M852.2,748.7 L868.7,767.3" stroke="#3f6c1d" stroke-width="0.4" opacity="0.6"/><path d="M864.4,744.4 Q865.9,762.1 887.3,766.6 Q882.0,745.4 864.4,744.4Z" fill="#47771f" stroke="#3e6a1c" stroke-width="0.5"/><path d="M864.4,744.4 L887.3,766.6" stroke="#3f6c1d" stroke-width="0.4" opacity="0.6"/><path d="M876.5,739.4 Q881.4,757.3 904.5,760.9 Q895.1,739.5 876.5,739.4Z" fill="#4f8226" stroke="#3e6a1c" stroke-width="0.5"/><path d="M876.5,739.4 L904.5,760.9" stroke="#3f6c1d" stroke-width="0.4" opacity="0.6"/><path d="M888.0,734.4 Q894.1,751.9 917.4,754.8 Q906.5,734.0 888.0,734.4Z" fill="#457521" stroke="#3e6a1c" stroke-width="0.5"/><path d="M888.0,734.4 L917.4,754.8" stroke="#3f6c1d" stroke-width="0.4" opacity="0.6"/><path d="M898.7,729.4 Q903.4,745.8 924.5,749.1 Q915.8,729.6 898.7,729.4Z" fill="#4d8025" stroke="#3e6a1c" stroke-width="0.5"/><path d="M898.7,729.4 L924.5,749.1" stroke="#3f6c1d" stroke-width="0.4" opacity="0.6"/><path d="M907.0,724.4 Q916.4,737.6 936.7,734.4 Q922.5,719.6 907.0,724.4Z" fill="#528729" stroke="#3e6a1c" stroke-width="0.5"/><path d="M907.0,724.4 L936.7,734.4" stroke="#3f6c1d" stroke-width="0.4" opacity="0.6"/></g>
<path d="M100.9,1870.0 C101.1,1868.3 101.8,1863.3 102.2,1860.0 C102.7,1856.6 103.2,1853.2 103.7,1849.9 C104.2,1846.5 104.8,1843.2 105.3,1839.8 C105.9,1836.5 106.5,1833.1 107.1,1829.7 C107.7,1826.4 108.3,1823.0 109.0,1819.7 C109.6,1816.3 110.3,1813.0 111.0,1809.6 C111.7,1806.3 112.5,1803.0 113.2,1799.6 C114.0,1796.3 114.8,1793.0 115.6,1789.7 C116.4,1786.3 117.3,1783.0 118.2,1779.7 C119.1,1776.4 120.0,1773.1 120.9,1769.9 C121.8,1766.6 122.8,1763.3 123.8,1760.0 C124.8,1756.8 125.8,1753.5 126.9,1750.3 C127.9,1747.1 129.0,1743.8 130.1,1740.6 C131.3,1737.4 132.4,1734.2 133.6,1731.0 C134.8,1727.8 136.0,1724.6 137.2,1721.5 C138.4,1718.3 139.7,1715.1 141.0,1712.0 C142.3,1708.9 143.6,1705.7 145.0,1702.6 C146.3,1699.5 147.7,1696.4 149.1,1693.3 C150.6,1690.2 152.0,1687.2 153.5,1684.1 C154.9,1681.1 156.4,1678.0 158.0,1675.0 C159.5,1672.0 161.1,1669.0 162.6,1666.0 C164.2,1663.0 165.8,1660.0 167.5,1657.0 C169.1,1654.1 170.8,1651.1 172.5,1648.2 C174.2,1645.2 175.9,1642.3 177.6,1639.4 C179.4,1636.5 181.1,1633.6 182.9,1630.7 C184.7,1627.8 186.5,1625.0 188.4,1622.1 C190.2,1619.3 192.1,1616.4 193.9,1613.6 C195.8,1610.8 197.7,1608.0 199.6,1605.1 C201.5,1602.3 203.5,1599.6 205.4,1596.8 C207.4,1594.0 209.4,1591.2 211.4,1588.5 C213.4,1585.7 215.4,1582.9 217.4,1580.2 C219.4,1577.5 221.4,1574.7 223.5,1572.0 C225.5,1569.3 228.4,1565.6 229.7,1563.9 C230.9,1562.2 230.9,1562.2 231.2,1561.9" fill="none" stroke="#7f7f7f" stroke-width="6.2"/>
<polygon points="242.2,1547.7 237.9,1568.4 223.2,1557.0" fill="#7f7f7f"/>
<path d="M235.8,1877.8 C238.1,1876.5 245.0,1872.3 249.9,1869.8 C254.7,1867.3 259.8,1864.9 264.9,1862.7 C270.1,1860.4 275.4,1858.3 280.8,1856.2 C286.2,1854.2 291.7,1852.2 297.3,1850.3 C302.9,1848.4 308.6,1846.6 314.3,1844.8 C320.0,1843.0 325.8,1841.2 331.7,1839.5 C337.5,1837.7 343.4,1836.0 349.2,1834.2 C355.1,1832.5 361.0,1830.7 366.9,1828.9 C372.8,1827.1 378.8,1825.3 384.6,1823.4 C390.5,1821.5 396.4,1819.6 402.3,1817.6 C408.1,1815.7 413.9,1813.6 419.7,1811.5 C425.5,1809.4 431.2,1807.2 436.9,1804.9 C442.6,1802.7 448.2,1800.3 453.8,1797.9 C459.3,1795.4 464.9,1792.9 470.3,1790.3 C475.7,1787.6 481.1,1784.9 486.4,1782.0 C491.7,1779.2 496.9,1776.3 502.1,1773.2 C507.2,1770.2 512.3,1767.0 517.3,1763.8 C522.3,1760.5 527.2,1757.1 532.1,1753.7 C536.9,1750.2 541.7,1746.6 546.4,1743.0 C551.0,1739.3 555.7,1735.6 560.2,1731.7 C564.7,1727.9 569.2,1723.9 573.6,1719.9 C578.0,1715.9 582.3,1711.7 586.6,1707.6 C590.9,1703.4 595.1,1699.1 599.2,1694.8 C603.4,1690.5 607.5,1686.1 611.6,1681.7 C615.6,1677.3 619.7,1672.8 623.7,1668.4 C627.7,1663.9 631.6,1659.4 635.6,1654.9 C639.6,1650.3 643.5,1645.8 647.5,1641.3 C651.4,1636.8 655.4,1632.3 659.3,1627.9 C663.3,1623.4 667.3,1619.0 671.3,1614.6 C675.4,1610.3 679.5,1606.0 683.6,1601.8 C687.7,1597.6 691.9,1593.5 696.2,1589.5 C700.5,1585.5 704.9,1581.6 709.4,1577.9 C713.8,1574.3 718.4,1570.5 723.2,1567.3 C727.9,1564.1 735.4,1560.2 737.8,1558.8" fill="none" stroke="#7f7f7f" stroke-width="6.2"/>
<polygon points="753.4,1549.7 741.6,1567.3 732.3,1551.3" fill="#7f7f7f"/>
<path d="M474.6,1867.0 C472.7,1866.1 467.0,1863.6 463.3,1861.8 C459.6,1860.1 456.0,1858.2 452.4,1856.3 C448.9,1854.4 445.4,1852.4 442.1,1850.3 C438.7,1848.3 435.4,1846.1 432.1,1844.0 C428.9,1841.8 425.7,1839.6 422.6,1837.3 C419.5,1835.0 416.5,1832.6 413.5,1830.2 C410.6,1827.8 407.7,1825.4 404.8,1822.8 C402.0,1820.3 399.2,1817.8 396.5,1815.2 C393.8,1812.5 391.1,1809.9 388.5,1807.2 C385.9,1804.5 383.4,1801.7 380.9,1798.9 C378.4,1796.1 375.9,1793.2 373.6,1790.4 C371.2,1787.5 368.8,1784.5 366.5,1781.6 C364.2,1778.6 362.0,1775.6 359.8,1772.6 C357.6,1769.5 355.4,1766.4 353.3,1763.3 C351.2,1760.2 349.1,1757.1 347.1,1753.9 C345.0,1750.7 343.0,1747.5 341.1,1744.3 C339.1,1741.0 337.2,1737.8 335.3,1734.5 C333.4,1731.2 331.5,1727.9 329.7,1724.5 C327.8,1721.2 326.0,1717.8 324.2,1714.4 C322.4,1711.1 320.7,1707.7 318.9,1704.2 C317.2,1700.8 315.5,1697.4 313.8,1693.9 C312.1,1690.5 310.4,1687.0 308.8,1683.5 C307.1,1680.1 305.5,1676.6 303.8,1673.1 C302.2,1669.6 300.6,1666.1 299.0,1662.5 C297.4,1659.0 295.8,1655.5 294.2,1652.0 C292.6,1648.5 291.0,1644.9 289.5,1641.4 C287.9,1637.9 286.3,1634.3 284.8,1630.8 C283.2,1627.3 281.6,1623.7 280.1,1620.2 C278.5,1616.7 276.9,1613.2 275.3,1609.7 C273.8,1606.1 272.2,1602.6 270.6,1599.1 C269.0,1595.6 267.4,1592.1 265.8,1588.7 C264.2,1585.2 262.6,1581.7 260.9,1578.3 C259.3,1574.8 257.2,1570.4 256.0,1568.0 C254.8,1565.6 254.2,1564.5 253.9,1563.8" fill="none" stroke="#7f7f7f" stroke-width="6.2"/>
<polygon points="245.8,1547.7 262.6,1560.5 246.1,1568.8" fill="#7f7f7f"/>
<path d="M515.0,1867.0 C516.8,1866.2 522.2,1863.8 525.8,1862.2 C529.3,1860.5 532.8,1858.7 536.2,1856.9 C539.6,1855.1 543.0,1853.2 546.3,1851.3 C549.6,1849.3 552.8,1847.3 556.0,1845.3 C559.2,1843.2 562.4,1841.1 565.5,1838.9 C568.6,1836.7 571.6,1834.5 574.6,1832.2 C577.6,1829.9 580.5,1827.5 583.4,1825.1 C586.3,1822.7 589.1,1820.2 591.9,1817.7 C594.7,1815.2 597.5,1812.7 600.2,1810.1 C602.8,1807.4 605.5,1804.8 608.1,1802.1 C610.7,1799.4 613.2,1796.6 615.7,1793.8 C618.2,1791.1 620.7,1788.2 623.1,1785.3 C625.5,1782.5 627.9,1779.5 630.2,1776.6 C632.6,1773.6 634.8,1770.6 637.1,1767.6 C639.3,1764.6 641.5,1761.5 643.7,1758.4 C645.8,1755.3 647.9,1752.2 650.0,1749.0 C652.1,1745.8 654.1,1742.6 656.1,1739.4 C658.1,1736.2 660.1,1732.9 662.0,1729.6 C663.9,1726.3 665.8,1723.0 667.6,1719.7 C669.5,1716.3 671.3,1713.0 673.0,1709.6 C674.8,1706.2 676.5,1702.8 678.2,1699.4 C679.9,1695.9 681.6,1692.5 683.2,1689.0 C684.8,1685.6 686.4,1682.1 688.0,1678.6 C689.6,1675.1 691.1,1671.6 692.6,1668.1 C694.1,1664.5 695.6,1661.0 697.0,1657.5 C698.4,1653.9 699.8,1650.3 701.2,1646.8 C702.6,1643.2 703.9,1639.6 705.2,1636.1 C706.6,1632.5 707.9,1628.9 709.1,1625.3 C710.4,1621.7 711.6,1618.1 712.8,1614.5 C714.0,1610.9 715.2,1607.4 716.4,1603.8 C717.5,1600.2 718.7,1596.6 719.8,1593.0 C720.9,1589.4 722.0,1585.8 723.0,1582.2 C724.1,1578.7 725.4,1574.0 726.1,1571.5 C726.8,1569.1 727.0,1568.3 727.2,1567.7" fill="none" stroke="#7f7f7f" stroke-width="6.2"/>
<polygon points="732.0,1550.3 735.9,1571.1 718.0,1566.2" fill="#7f7f7f"/>
<path d="M747.8,1871.3 C745.0,1870.8 736.5,1869.5 730.9,1868.4 C725.3,1867.4 719.8,1866.3 714.3,1865.0 C708.8,1863.8 703.3,1862.5 697.9,1861.1 C692.4,1859.7 687.0,1858.3 681.7,1856.7 C676.3,1855.2 671.0,1853.5 665.7,1851.8 C660.4,1850.1 655.1,1848.3 649.9,1846.4 C644.7,1844.6 639.5,1842.6 634.4,1840.6 C629.2,1838.6 624.1,1836.5 619.0,1834.3 C614.0,1832.1 608.9,1829.9 603.9,1827.6 C598.9,1825.3 593.9,1822.9 589.0,1820.5 C584.1,1818.0 579.2,1815.5 574.3,1812.9 C569.4,1810.4 564.6,1807.7 559.8,1805.0 C555.0,1802.3 550.3,1799.5 545.5,1796.7 C540.8,1793.9 536.1,1791.0 531.5,1788.1 C526.8,1785.1 522.2,1782.1 517.6,1779.1 C513.0,1776.0 508.4,1772.9 503.9,1769.7 C499.4,1766.6 494.9,1763.3 490.4,1760.1 C486.0,1756.8 481.6,1753.5 477.2,1750.1 C472.8,1746.7 468.4,1743.3 464.1,1739.9 C459.8,1736.4 455.5,1732.9 451.2,1729.3 C446.9,1725.8 442.7,1722.2 438.5,1718.6 C434.3,1714.9 430.2,1711.2 426.0,1707.5 C421.9,1703.8 417.8,1700.1 413.7,1696.3 C409.7,1692.5 405.6,1688.6 401.6,1684.8 C397.6,1680.9 393.6,1677.0 389.7,1673.1 C385.7,1669.2 381.8,1665.2 377.9,1661.2 C374.1,1657.2 370.2,1653.2 366.4,1649.1 C362.6,1645.1 358.8,1641.0 355.0,1636.9 C351.3,1632.8 347.5,1628.7 343.8,1624.6 C340.1,1620.4 336.5,1616.2 332.8,1612.0 C329.2,1607.9 325.6,1603.6 322.0,1599.4 C318.4,1595.2 314.8,1591.0 311.3,1586.7 C307.8,1582.4 304.1,1578.0 300.8,1573.9 C297.5,1569.8 293.1,1564.1 291.6,1562.1" fill="none" stroke="#7f7f7f" stroke-width="6.2"/>
<polygon points="280.4,1548.0 299.4,1557.2 284.9,1568.6" fill="#7f7f7f"/>
<path d="M886.6,1867.0 C886.5,1865.3 886.2,1860.3 885.9,1857.0 C885.6,1853.7 885.3,1850.4 884.9,1847.0 C884.6,1843.7 884.2,1840.4 883.7,1837.2 C883.2,1833.9 882.7,1830.6 882.2,1827.3 C881.7,1824.1 881.1,1820.8 880.5,1817.6 C879.8,1814.3 879.2,1811.1 878.5,1807.9 C877.8,1804.7 877.0,1801.4 876.3,1798.2 C875.5,1795.0 874.7,1791.8 873.8,1788.7 C873.0,1785.5 872.1,1782.3 871.2,1779.1 C870.3,1776.0 869.3,1772.8 868.3,1769.7 C867.3,1766.5 866.3,1763.4 865.3,1760.3 C864.2,1757.1 863.1,1754.0 862.0,1750.9 C860.9,1747.8 859.8,1744.7 858.6,1741.6 C857.4,1738.5 856.2,1735.4 855.0,1732.4 C853.8,1729.3 852.5,1726.2 851.2,1723.2 C850.0,1720.1 848.7,1717.1 847.3,1714.0 C846.0,1711.0 844.7,1708.0 843.3,1704.9 C841.9,1701.9 840.5,1698.9 839.1,1695.9 C837.7,1692.9 836.2,1689.9 834.8,1686.9 C833.3,1683.9 831.8,1681.0 830.3,1678.0 C828.8,1675.0 827.3,1672.1 825.8,1669.1 C824.2,1666.2 822.7,1663.2 821.1,1660.3 C819.5,1657.4 818.0,1654.4 816.4,1651.5 C814.8,1648.6 813.2,1645.7 811.5,1642.8 C809.9,1639.9 808.3,1637.0 806.6,1634.1 C805.0,1631.2 803.3,1628.3 801.6,1625.5 C800.0,1622.6 798.3,1619.7 796.6,1616.9 C794.9,1614.0 793.2,1611.2 791.5,1608.3 C789.8,1605.5 788.1,1602.6 786.4,1599.8 C784.7,1597.0 782.9,1594.2 781.2,1591.4 C779.5,1588.5 777.8,1585.7 776.0,1582.9 C774.3,1580.1 772.7,1577.6 770.8,1574.6 C768.9,1571.6 765.8,1566.5 764.8,1564.9" fill="none" stroke="#7f7f7f" stroke-width="6.2"/>
<polygon points="755.2,1549.7 773.1,1560.9 757.5,1570.7" fill="#7f7f7f"/>
<path d="M115.3,2218.0 C115.0,2217.1 114.2,2214.3 113.7,2212.4 C113.1,2210.5 112.6,2208.7 112.1,2206.8 C111.6,2204.9 111.0,2203.0 110.5,2201.2 C110.0,2199.3 109.5,2197.4 109.0,2195.5 C108.5,2193.6 108.0,2191.8 107.5,2189.9 C107.0,2188.0 106.5,2186.1 106.0,2184.2 C105.5,2182.3 105.0,2180.4 104.6,2178.5 C104.1,2176.6 103.6,2174.7 103.2,2172.8 C102.7,2171.0 102.3,2169.1 101.8,2167.2 C101.4,2165.3 101.0,2163.3 100.5,2161.4 C100.1,2159.5 99.7,2157.6 99.3,2155.7 C98.9,2153.8 98.5,2151.9 98.1,2150.0 C97.7,2148.1 97.3,2146.2 96.9,2144.3 C96.5,2142.3 96.2,2140.4 95.8,2138.5 C95.5,2136.6 95.1,2134.7 94.8,2132.8 C94.4,2130.8 94.1,2128.9 93.8,2127.0 C93.5,2125.1 93.2,2123.2 92.9,2121.2 C92.6,2119.3 92.3,2117.4 92.0,2115.4 C91.7,2113.5 91.5,2111.6 91.2,2109.7 C90.9,2107.7 90.7,2105.8 90.5,2103.9 C90.2,2101.9 90.0,2100.0 89.8,2098.1 C89.6,2096.1 89.4,2094.2 89.2,2092.2 C89.0,2090.3 88.9,2088.4 88.7,2086.4 C88.5,2084.5 88.4,2082.5 88.3,2080.6 C88.1,2078.7 88.0,2076.7 87.9,2074.8 C87.8,2072.8 87.7,2070.9 87.6,2068.9 C87.6,2067.0 87.5,2065.0 87.4,2063.1 C87.4,2061.1 87.4,2059.2 87.3,2057.2 C87.3,2055.3 87.3,2053.3 87.3,2051.4 C87.3,2049.4 87.4,2047.5 87.4,2045.5 C87.4,2043.6 87.5,2041.6 87.6,2039.7 C87.7,2037.8 87.9,2035.1 87.9,2034.2" fill="none" stroke="#7f7f7f" stroke-width="6.2"/>
<polygon points="89.2,2016.2 97.1,2035.8 78.6,2034.5" fill="#7f7f7f"/>
<path d="M379.0,2222.0 C377.4,2221.6 372.7,2220.3 369.5,2219.3 C366.4,2218.4 363.2,2217.4 360.1,2216.4 C357.0,2215.4 354.0,2214.4 350.9,2213.3 C347.8,2212.2 344.8,2211.1 341.8,2210.0 C338.7,2208.8 335.7,2207.6 332.8,2206.4 C329.8,2205.2 326.8,2203.9 323.9,2202.6 C320.9,2201.3 318.0,2200.0 315.1,2198.6 C312.2,2197.3 309.3,2195.9 306.5,2194.4 C303.6,2193.0 300.8,2191.5 298.0,2190.0 C295.1,2188.5 292.3,2187.0 289.6,2185.4 C286.8,2183.9 284.0,2182.3 281.3,2180.6 C278.6,2179.0 275.8,2177.3 273.1,2175.7 C270.4,2174.0 267.8,2172.2 265.1,2170.5 C262.5,2168.7 259.8,2167.0 257.2,2165.1 C254.6,2163.3 252.0,2161.5 249.4,2159.6 C246.9,2157.7 244.3,2155.8 241.8,2153.9 C239.3,2152.0 236.7,2150.0 234.3,2148.0 C231.8,2146.1 229.3,2144.0 226.8,2142.0 C224.4,2140.0 222.0,2137.9 219.6,2135.8 C217.2,2133.7 214.8,2131.6 212.4,2129.4 C210.0,2127.3 207.7,2125.1 205.4,2122.9 C203.0,2120.7 200.7,2118.5 198.5,2116.3 C196.2,2114.0 193.9,2111.8 191.7,2109.5 C189.4,2107.2 187.2,2104.9 185.0,2102.5 C182.8,2100.2 180.6,2097.8 178.5,2095.5 C176.3,2093.1 174.2,2090.7 172.1,2088.3 C170.0,2085.8 167.9,2083.4 165.8,2080.9 C163.7,2078.5 161.7,2076.0 159.6,2073.5 C157.6,2070.9 155.6,2068.4 153.6,2065.9 C151.6,2063.3 149.7,2060.8 147.7,2058.2 C145.8,2055.6 143.8,2053.0 141.9,2050.4 C140.0,2047.7 138.3,2045.3 136.3,2042.5 C134.3,2039.6 131.1,2034.7 130.1,2033.1" fill="none" stroke="#7f7f7f" stroke-width="6.2"/>
<polygon points="120.1,2018.1 138.3,2028.8 122.9,2039.0" fill="#7f7f7f"/>
<path d="M724.0,2231.0 C721.1,2230.3 712.3,2228.0 706.5,2226.6 C700.6,2225.2 694.7,2223.8 688.8,2222.5 C682.9,2221.2 677.0,2219.9 671.1,2218.7 C665.1,2217.5 659.2,2216.3 653.2,2215.1 C647.3,2213.9 641.3,2212.8 635.4,2211.7 C629.4,2210.5 623.4,2209.4 617.4,2208.3 C611.5,2207.2 605.5,2206.1 599.5,2204.9 C593.5,2203.8 587.6,2202.7 581.6,2201.6 C575.6,2200.4 569.6,2199.3 563.7,2198.1 C557.7,2197.0 551.7,2195.8 545.8,2194.6 C539.8,2193.4 533.9,2192.2 528.0,2190.9 C522.0,2189.6 516.1,2188.3 510.2,2187.0 C504.3,2185.7 498.3,2184.3 492.5,2182.9 C486.6,2181.5 480.7,2180.0 474.8,2178.5 C469.0,2177.0 463.1,2175.5 457.3,2173.9 C451.5,2172.3 445.6,2170.7 439.9,2169.0 C434.1,2167.3 428.3,2165.5 422.5,2163.7 C416.8,2161.9 411.0,2160.1 405.3,2158.2 C399.6,2156.2 393.9,2154.3 388.2,2152.2 C382.5,2150.2 376.9,2148.1 371.2,2146.0 C365.6,2143.8 360.0,2141.6 354.4,2139.4 C348.8,2137.1 343.3,2134.8 337.7,2132.4 C332.2,2130.0 326.6,2127.6 321.1,2125.1 C315.6,2122.6 310.2,2120.0 304.7,2117.4 C299.3,2114.8 293.8,2112.2 288.4,2109.4 C283.0,2106.7 277.6,2104.0 272.3,2101.2 C266.9,2098.3 261.6,2095.5 256.3,2092.6 C250.9,2089.7 245.7,2086.7 240.4,2083.7 C235.1,2080.7 229.9,2077.7 224.6,2074.6 C219.4,2071.6 214.2,2068.4 209.0,2065.3 C203.8,2062.2 198.6,2059.0 193.5,2055.8 C188.3,2052.6 183.2,2049.4 178.1,2046.2 C173.0,2042.9 167.9,2039.7 162.8,2036.4 C157.7,2033.2 150.1,2028.2 147.6,2026.6" fill="none" stroke="#7f7f7f" stroke-width="6.2"/>
<polygon points="132.5,2016.8 153.5,2019.4 143.4,2034.9" fill="#7f7f7f"/>
<path d="M263.4,2223.5 C264.8,2222.9 269.0,2221.2 271.7,2220.1 C274.5,2218.9 277.3,2217.7 280.0,2216.5 C282.7,2215.3 285.4,2214.0 288.1,2212.7 C290.8,2211.5 293.5,2210.1 296.2,2208.8 C298.9,2207.5 301.5,2206.1 304.1,2204.7 C306.8,2203.3 309.4,2201.9 312.0,2200.5 C314.6,2199.0 317.1,2197.5 319.7,2196.0 C322.3,2194.5 324.8,2193.0 327.3,2191.5 C329.8,2189.9 332.3,2188.3 334.8,2186.7 C337.3,2185.1 339.8,2183.5 342.2,2181.8 C344.6,2180.2 347.1,2178.5 349.5,2176.8 C351.9,2175.1 354.2,2173.4 356.6,2171.6 C359.0,2169.8 361.3,2168.1 363.6,2166.2 C365.9,2164.4 368.2,2162.6 370.5,2160.7 C372.8,2158.9 375.1,2157.0 377.3,2155.1 C379.5,2153.2 381.7,2151.3 383.9,2149.3 C386.1,2147.3 388.3,2145.4 390.4,2143.4 C392.6,2141.4 394.7,2139.3 396.8,2137.3 C398.9,2135.2 401.0,2133.2 403.0,2131.1 C405.1,2129.0 407.1,2126.8 409.1,2124.7 C411.1,2122.5 413.1,2120.4 415.1,2118.2 C417.0,2116.0 419.0,2113.8 420.9,2111.6 C422.8,2109.3 424.7,2107.1 426.5,2104.8 C428.4,2102.5 430.2,2100.2 432.0,2097.9 C433.9,2095.6 435.6,2093.2 437.4,2090.9 C439.2,2088.5 440.9,2086.1 442.6,2083.7 C444.3,2081.3 446.0,2078.9 447.7,2076.4 C449.3,2074.0 451.0,2071.5 452.6,2069.0 C454.2,2066.5 455.7,2064.0 457.3,2061.5 C458.8,2058.9 460.4,2056.4 461.9,2053.8 C463.4,2051.3 464.8,2048.7 466.3,2046.1 C467.7,2043.4 469.2,2040.8 470.5,2038.2 C471.9,2035.5 473.8,2031.4 474.4,2030.0" fill="none" stroke="#7f7f7f" stroke-width="6.2"/>
<polygon points="482.2,2013.8 482.3,2034.9 465.6,2026.9" fill="#7f7f7f"/>
<path d="M491.7,2218.0 C491.7,2187.0 491.5,2063.2 491.4,2032.3" fill="none" stroke="#7f7f7f" stroke-width="6.2"/>
<polygon points="491.4,2014.3 500.7,2033.3 482.2,2033.3" fill="#7f7f7f"/>
<path d="M724.0,2229.0 C722.7,2228.4 718.6,2226.5 716.0,2225.1 C713.3,2223.8 710.6,2222.5 708.0,2221.1 C705.3,2219.8 702.7,2218.4 700.1,2216.9 C697.5,2215.5 694.9,2214.1 692.3,2212.6 C689.7,2211.1 687.1,2209.6 684.6,2208.1 C682.0,2206.6 679.5,2205.0 676.9,2203.4 C674.4,2201.8 671.9,2200.2 669.4,2198.6 C666.9,2197.0 664.4,2195.3 661.9,2193.6 C659.5,2192.0 657.0,2190.3 654.6,2188.5 C652.2,2186.8 649.7,2185.1 647.3,2183.3 C644.9,2181.5 642.5,2179.7 640.2,2177.9 C637.8,2176.1 635.4,2174.2 633.1,2172.4 C630.8,2170.5 628.4,2168.6 626.1,2166.7 C623.8,2164.8 621.5,2162.8 619.3,2160.9 C617.0,2158.9 614.7,2156.9 612.5,2155.0 C610.3,2153.0 608.1,2150.9 605.9,2148.9 C603.7,2146.9 601.5,2144.8 599.3,2142.7 C597.1,2140.6 595.0,2138.5 592.9,2136.4 C590.7,2134.3 588.6,2132.2 586.5,2130.0 C584.5,2127.8 582.4,2125.7 580.3,2123.5 C578.3,2121.3 576.3,2119.1 574.2,2116.8 C572.2,2114.6 570.2,2112.3 568.3,2110.1 C566.3,2107.8 564.4,2105.5 562.4,2103.2 C560.5,2100.9 558.6,2098.6 556.7,2096.3 C554.8,2093.9 552.9,2091.6 551.1,2089.2 C549.2,2086.8 547.4,2084.4 545.6,2082.0 C543.8,2079.6 542.0,2077.2 540.2,2074.8 C538.5,2072.4 536.7,2069.9 535.0,2067.5 C533.3,2065.0 531.6,2062.5 529.9,2060.0 C528.2,2057.5 526.6,2055.0 524.9,2052.5 C523.3,2050.0 521.7,2047.5 520.1,2044.9 C518.5,2042.4 516.9,2039.8 515.4,2037.3 C513.9,2034.7 511.8,2030.8 511.0,2029.5" fill="none" stroke="#7f7f7f" stroke-width="6.2"/>
<polygon points="502.2,2013.8 519.6,2025.8 503.5,2034.9" fill="#7f7f7f"/>
<path d="M271.0,2225.4 C274.0,2224.8 283.1,2223.1 289.1,2222.0 C295.2,2220.9 301.2,2219.8 307.3,2218.6 C313.3,2217.5 319.4,2216.3 325.4,2215.2 C331.5,2214.0 337.5,2212.9 343.6,2211.7 C349.6,2210.5 355.7,2209.4 361.7,2208.2 C367.8,2207.0 373.8,2205.8 379.9,2204.6 C385.9,2203.4 391.9,2202.1 398.0,2200.9 C404.0,2199.6 410.1,2198.4 416.1,2197.1 C422.1,2195.8 428.2,2194.5 434.2,2193.2 C440.2,2191.9 446.3,2190.6 452.3,2189.2 C458.3,2187.9 464.4,2186.5 470.4,2185.1 C476.4,2183.7 482.4,2182.3 488.4,2180.8 C494.5,2179.4 500.5,2177.9 506.5,2176.4 C512.5,2174.9 518.5,2173.4 524.4,2171.8 C530.4,2170.2 536.4,2168.6 542.4,2167.0 C548.4,2165.4 554.3,2163.7 560.3,2162.0 C566.2,2160.3 572.2,2158.6 578.1,2156.8 C584.0,2155.1 590.0,2153.3 595.9,2151.4 C601.8,2149.6 607.7,2147.7 613.6,2145.8 C619.5,2143.9 625.3,2141.9 631.2,2139.9 C637.0,2137.9 642.9,2135.8 648.7,2133.7 C654.5,2131.7 660.3,2129.5 666.1,2127.3 C671.9,2125.1 677.6,2122.9 683.4,2120.6 C689.1,2118.3 694.8,2116.0 700.5,2113.6 C706.2,2111.2 711.9,2108.8 717.6,2106.3 C723.2,2103.8 728.8,2101.3 734.4,2098.7 C740.0,2096.1 745.6,2093.4 751.1,2090.7 C756.7,2088.0 762.2,2085.2 767.6,2082.4 C773.1,2079.6 778.5,2076.7 783.9,2073.7 C789.3,2070.8 794.7,2067.8 800.0,2064.7 C805.4,2061.6 810.7,2058.5 815.9,2055.3 C821.2,2052.0 826.4,2048.8 831.6,2045.4 C836.7,2042.1 841.8,2038.7 846.9,2035.2 C852.0,2031.6 859.7,2025.9 862.3,2024.0" fill="none" stroke="#7f7f7f" stroke-width="6.2"/>
<polygon points="876.8,2013.4 866.9,2032.1 856.0,2017.1" fill="#7f7f7f"/>
<path d="M607.3,2227.3 C608.9,2226.6 613.5,2224.6 616.7,2223.3 C619.9,2221.9 623.1,2220.6 626.3,2219.4 C629.5,2218.1 632.7,2216.8 635.9,2215.6 C639.2,2214.3 642.4,2213.1 645.7,2211.9 C648.9,2210.6 652.2,2209.4 655.4,2208.1 C658.7,2206.9 662.0,2205.6 665.2,2204.4 C668.5,2203.1 671.8,2201.9 675.0,2200.6 C678.3,2199.3 681.5,2198.0 684.8,2196.7 C688.0,2195.3 691.2,2194.0 694.4,2192.6 C697.7,2191.2 700.9,2189.8 704.0,2188.4 C707.2,2187.0 710.4,2185.5 713.5,2184.0 C716.7,2182.5 719.8,2181.0 722.9,2179.4 C726.0,2177.9 729.0,2176.3 732.1,2174.6 C735.1,2173.0 738.1,2171.3 741.1,2169.5 C744.1,2167.8 747.1,2166.0 750.0,2164.2 C752.9,2162.4 755.8,2160.6 758.7,2158.7 C761.6,2156.7 764.4,2154.8 767.2,2152.8 C770.0,2150.8 772.8,2148.8 775.5,2146.7 C778.2,2144.6 781.0,2142.5 783.6,2140.3 C786.3,2138.1 788.9,2135.9 791.5,2133.6 C794.1,2131.4 796.7,2129.1 799.2,2126.7 C801.8,2124.4 804.3,2122.0 806.7,2119.5 C809.2,2117.1 811.6,2114.6 814.0,2112.1 C816.4,2109.6 818.8,2107.1 821.1,2104.5 C823.5,2101.9 825.8,2099.3 828.1,2096.7 C830.3,2094.0 832.6,2091.3 834.8,2088.6 C837.0,2085.9 839.2,2083.2 841.4,2080.5 C843.5,2077.7 845.7,2074.9 847.8,2072.1 C849.9,2069.4 852.0,2066.6 854.1,2063.7 C856.2,2060.9 858.2,2058.1 860.3,2055.3 C862.3,2052.4 864.4,2049.6 866.4,2046.8 C868.4,2043.9 870.4,2041.1 872.4,2038.3 C874.4,2035.5 877.1,2031.6 878.3,2029.9 C879.6,2028.2 879.5,2028.3 879.7,2028.0" fill="none" stroke="#7f7f7f" stroke-width="6.2"/>
<polygon points="890.2,2013.4 886.6,2034.2 871.6,2023.4" fill="#7f7f7f"/>
<path d="M870.2,2218.0 C870.4,2217.0 871.1,2214.2 871.6,2212.2 C872.0,2210.3 872.5,2208.4 872.9,2206.5 C873.3,2204.6 873.8,2202.6 874.2,2200.7 C874.7,2198.8 875.1,2196.8 875.5,2194.9 C876.0,2193.0 876.4,2191.1 876.8,2189.1 C877.2,2187.2 877.6,2185.3 878.1,2183.3 C878.5,2181.4 878.9,2179.5 879.3,2177.5 C879.7,2175.6 880.1,2173.6 880.5,2171.7 C880.9,2169.8 881.3,2167.8 881.7,2165.9 C882.1,2163.9 882.4,2162.0 882.8,2160.0 C883.2,2158.1 883.6,2156.1 883.9,2154.2 C884.3,2152.2 884.7,2150.3 885.0,2148.3 C885.4,2146.4 885.7,2144.4 886.1,2142.5 C886.4,2140.5 886.7,2138.6 887.1,2136.6 C887.4,2134.7 887.7,2132.7 888.1,2130.7 C888.4,2128.8 888.7,2126.8 889.0,2124.9 C889.3,2122.9 889.6,2120.9 889.9,2119.0 C890.2,2117.0 890.5,2115.1 890.8,2113.1 C891.0,2111.1 891.3,2109.2 891.6,2107.2 C891.9,2105.2 892.1,2103.3 892.4,2101.3 C892.6,2099.3 892.9,2097.4 893.1,2095.4 C893.3,2093.4 893.6,2091.5 893.8,2089.5 C894.0,2087.5 894.2,2085.6 894.4,2083.6 C894.6,2081.6 894.8,2079.6 895.0,2077.7 C895.2,2075.7 895.4,2073.7 895.6,2071.7 C895.7,2069.8 895.9,2067.8 896.0,2065.8 C896.2,2063.8 896.3,2061.9 896.5,2059.9 C896.6,2057.9 896.7,2055.9 896.9,2054.0 C897.0,2052.0 897.1,2050.0 897.2,2048.0 C897.3,2046.1 897.4,2044.1 897.5,2042.1 C897.5,2040.1 897.6,2038.1 897.7,2036.2 C897.7,2034.2 897.7,2031.4 897.7,2030.4" fill="none" stroke="#7f7f7f" stroke-width="6.2"/>
<polygon points="897.9,2012.4 907.0,2031.5 888.5,2031.3" fill="#7f7f7f"/>
<path d="M239.5,2000.0 C241.7,2000.9 248.3,2003.6 252.7,2005.4 C257.1,2007.2 261.6,2009.0 266.1,2010.7 C270.6,2012.5 275.1,2014.2 279.6,2015.9 C284.2,2017.6 288.8,2019.3 293.3,2021.0 C297.9,2022.6 302.6,2024.2 307.2,2025.8 C311.8,2027.3 316.5,2028.9 321.1,2030.3 C325.8,2031.8 330.5,2033.2 335.2,2034.6 C339.9,2035.9 344.6,2037.3 349.4,2038.5 C354.1,2039.8 358.8,2040.9 363.6,2042.1 C368.4,2043.2 373.1,2044.3 377.9,2045.2 C382.7,2046.2 387.5,2047.2 392.2,2048.0 C397.0,2048.9 401.8,2049.6 406.6,2050.3 C411.4,2051.0 416.2,2051.7 421.1,2052.2 C425.9,2052.8 430.7,2053.3 435.5,2053.7 C440.3,2054.1 445.1,2054.4 449.9,2054.6 C454.8,2054.9 459.6,2055.0 464.4,2055.1 C469.2,2055.2 474.0,2055.2 478.8,2055.1 C483.6,2055.1 488.5,2054.9 493.3,2054.7 C498.1,2054.5 502.9,2054.2 507.7,2053.8 C512.5,2053.4 517.3,2053.0 522.1,2052.5 C526.9,2052.0 531.7,2051.4 536.4,2050.7 C541.2,2050.1 546.0,2049.3 550.8,2048.5 C555.5,2047.8 560.3,2046.9 565.1,2046.0 C569.8,2045.1 574.6,2044.1 579.3,2043.1 C584.1,2042.0 588.8,2041.0 593.5,2039.8 C598.3,2038.7 603.0,2037.5 607.7,2036.3 C612.4,2035.1 617.1,2033.8 621.8,2032.5 C626.5,2031.2 631.2,2029.9 635.9,2028.5 C640.6,2027.1 645.3,2025.7 649.9,2024.3 C654.6,2022.9 659.3,2021.5 664.0,2020.1 C668.6,2018.6 673.3,2017.2 677.9,2015.7 C682.6,2014.3 687.2,2012.8 691.9,2011.4 C696.5,2009.9 701.7,2008.3 705.8,2007.1 C709.8,2005.9 714.5,2004.6 716.2,2004.0" fill="none" stroke="#7f7f7f" stroke-width="6.2"/>
<polygon points="733.5,1999.0 717.9,2013.2 712.7,1995.5" fill="#7f7f7f"/>
<path d="M259.4,2359.1 C261.5,2359.7 268.0,2361.4 272.3,2362.6 C276.6,2363.8 280.9,2365.0 285.2,2366.2 C289.5,2367.4 293.9,2368.6 298.2,2369.8 C302.6,2371.0 306.9,2372.2 311.3,2373.4 C315.7,2374.5 320.0,2375.7 324.4,2376.8 C328.8,2377.9 333.2,2379.0 337.6,2380.1 C342.0,2381.1 346.4,2382.2 350.8,2383.2 C355.2,2384.1 359.7,2385.1 364.1,2386.0 C368.5,2386.9 373.0,2387.8 377.4,2388.6 C381.8,2389.4 386.3,2390.2 390.7,2390.9 C395.1,2391.6 399.6,2392.2 404.0,2392.8 C408.5,2393.4 412.9,2394.0 417.4,2394.5 C421.8,2394.9 426.3,2395.4 430.8,2395.7 C435.2,2396.1 439.7,2396.4 444.1,2396.6 C448.6,2396.8 453.0,2397.0 457.5,2397.1 C461.9,2397.2 466.4,2397.2 470.8,2397.2 C475.3,2397.1 479.7,2397.0 484.2,2396.9 C488.6,2396.7 493.1,2396.5 497.5,2396.2 C502.0,2395.9 506.4,2395.5 510.9,2395.1 C515.3,2394.7 519.7,2394.2 524.2,2393.7 C528.6,2393.1 533.0,2392.5 537.5,2391.8 C541.9,2391.2 546.3,2390.5 550.7,2389.7 C555.1,2388.9 559.6,2388.1 564.0,2387.2 C568.4,2386.4 572.8,2385.4 577.2,2384.5 C581.6,2383.5 586.0,2382.5 590.4,2381.5 C594.8,2380.4 599.2,2379.3 603.6,2378.2 C607.9,2377.1 612.3,2376.0 616.7,2374.8 C621.1,2373.7 625.5,2372.5 629.8,2371.3 C634.2,2370.1 638.6,2368.9 642.9,2367.7 C647.3,2366.4 651.6,2365.2 656.0,2364.0 C660.3,2362.8 664.7,2361.5 669.0,2360.3 C673.4,2359.1 677.7,2357.9 682.1,2356.8 C686.4,2355.6 691.5,2354.2 695.1,2353.3 C698.6,2352.4 702.1,2351.7 703.5,2351.3" fill="none" stroke="#7f7f7f" stroke-width="6.2"/>
<polygon points="721.0,2347.2 704.6,2360.6 700.4,2342.6" fill="#7f7f7f"/>
<path d="M448.0,2581.2 C446.2,2581.0 440.8,2580.3 437.3,2579.7 C433.8,2579.1 430.3,2578.5 426.8,2577.8 C423.4,2577.0 420.0,2576.2 416.6,2575.4 C413.2,2574.5 409.9,2573.6 406.6,2572.5 C403.3,2571.5 400.1,2570.5 396.8,2569.3 C393.6,2568.2 390.4,2566.9 387.3,2565.7 C384.1,2564.4 381.0,2563.1 377.9,2561.7 C374.8,2560.3 371.7,2558.8 368.7,2557.3 C365.7,2555.8 362.7,2554.2 359.7,2552.6 C356.8,2550.9 353.8,2549.2 350.9,2547.5 C348.0,2545.8 345.2,2544.0 342.3,2542.1 C339.5,2540.3 336.7,2538.4 333.9,2536.5 C331.1,2534.6 328.3,2532.6 325.6,2530.5 C322.9,2528.5 320.2,2526.5 317.5,2524.4 C314.8,2522.2 312.1,2520.1 309.5,2517.9 C306.9,2515.7 304.3,2513.5 301.7,2511.2 C299.1,2509.0 296.5,2506.7 294.0,2504.4 C291.4,2502.0 288.9,2499.7 286.4,2497.3 C283.9,2494.9 281.4,2492.5 279.0,2490.0 C276.5,2487.6 274.1,2485.1 271.6,2482.6 C269.2,2480.1 266.8,2477.6 264.4,2475.1 C262.0,2472.5 259.7,2470.0 257.3,2467.4 C255.0,2464.8 252.6,2462.2 250.3,2459.6 C248.0,2457.0 245.7,2454.4 243.4,2451.8 C241.1,2449.1 238.8,2446.5 236.5,2443.8 C234.2,2441.1 232.0,2438.5 229.7,2435.8 C227.5,2433.1 225.3,2430.4 223.0,2427.7 C220.8,2425.1 218.6,2422.4 216.4,2419.7 C214.2,2417.0 212.0,2414.3 209.8,2411.6 C207.6,2408.9 205.4,2406.2 203.2,2403.5 C201.1,2400.8 198.9,2398.1 196.7,2395.5 C194.6,2392.8 192.4,2390.1 190.3,2387.5 C188.1,2384.8 185.1,2381.1 183.8,2379.5 C182.5,2377.9 182.7,2378.1 182.4,2377.8" fill="none" stroke="#7f7f7f" stroke-width="6.2"/>
<polygon points="171.0,2363.9 190.2,2372.7 175.9,2384.5" fill="#7f7f7f"/>
<path d="M497.4,2583.0 C497.4,2549.4 497.3,2415.2 497.3,2381.6" fill="none" stroke="#7f7f7f" stroke-width="6.2"/>
<polygon points="497.3,2363.6 506.6,2382.6 488.1,2382.6" fill="#7f7f7f"/>
<path d="M529.3,2580.0 C531.1,2579.7 536.7,2579.0 540.3,2578.4 C543.9,2577.8 547.5,2577.1 551.0,2576.4 C554.6,2575.7 558.1,2574.8 561.6,2574.0 C565.0,2573.1 568.5,2572.1 571.9,2571.1 C575.3,2570.1 578.6,2569.0 582.0,2567.9 C585.3,2566.7 588.6,2565.5 591.9,2564.2 C595.1,2563.0 598.4,2561.6 601.6,2560.2 C604.8,2558.8 608.0,2557.4 611.1,2555.9 C614.3,2554.4 617.4,2552.8 620.4,2551.2 C623.5,2549.6 626.6,2547.9 629.6,2546.2 C632.6,2544.5 635.6,2542.7 638.6,2540.9 C641.6,2539.1 644.5,2537.3 647.4,2535.3 C650.3,2533.4 653.2,2531.5 656.1,2529.5 C659.0,2527.5 661.8,2525.5 664.6,2523.4 C667.4,2521.3 670.2,2519.2 673.0,2517.0 C675.7,2514.9 678.5,2512.7 681.2,2510.5 C683.9,2508.3 686.6,2506.0 689.3,2503.7 C692.0,2501.4 694.6,2499.1 697.3,2496.7 C699.9,2494.4 702.5,2492.0 705.1,2489.6 C707.7,2487.2 710.3,2484.7 712.9,2482.3 C715.4,2479.8 718.0,2477.3 720.5,2474.8 C723.0,2472.3 725.5,2469.8 728.0,2467.2 C730.5,2464.7 733.0,2462.1 735.4,2459.5 C737.9,2457.0 740.3,2454.4 742.8,2451.7 C745.2,2449.1 747.6,2446.5 750.0,2443.9 C752.4,2441.2 754.8,2438.6 757.2,2435.9 C759.6,2433.3 762.0,2430.6 764.3,2427.9 C766.7,2425.2 769.0,2422.6 771.4,2419.9 C773.7,2417.2 776.0,2414.5 778.4,2411.8 C780.7,2409.1 783.0,2406.4 785.3,2403.8 C787.6,2401.1 789.9,2398.4 792.2,2395.7 C794.5,2393.0 796.7,2390.3 799.0,2387.7 C801.3,2385.0 804.4,2381.4 805.8,2379.7 C807.3,2378.0 807.4,2377.9 807.7,2377.6" fill="none" stroke="#7f7f7f" stroke-width="6.2"/>
<polygon points="819.4,2363.9 814.0,2384.3 800.0,2372.3" fill="#7f7f7f"/>
<path d="M476.7,2583.0 C475.4,2580.1 471.5,2571.3 468.9,2565.5 C466.3,2559.6 463.7,2553.8 461.1,2547.9 C458.5,2542.1 455.9,2536.2 453.3,2530.4 C450.7,2524.5 448.1,2518.6 445.4,2512.8 C442.8,2506.9 440.1,2501.0 437.5,2495.2 C434.8,2489.3 432.1,2483.4 429.4,2477.6 C426.8,2471.7 424.0,2465.8 421.3,2460.0 C418.6,2454.1 415.9,2448.3 413.1,2442.4 C410.4,2436.6 407.6,2430.7 404.8,2424.9 C402.0,2419.1 399.2,2413.3 396.4,2407.5 C393.5,2401.7 390.7,2395.9 387.8,2390.1 C384.9,2384.3 382.0,2378.5 379.1,2372.8 C376.2,2367.0 373.2,2361.2 370.2,2355.5 C367.3,2349.8 364.2,2344.1 361.2,2338.4 C358.2,2332.7 355.1,2327.0 352.0,2321.4 C348.9,2315.7 345.8,2310.1 342.6,2304.5 C339.5,2298.9 336.3,2293.3 333.0,2287.7 C329.8,2282.1 326.5,2276.6 323.2,2271.1 C319.9,2265.6 316.6,2260.1 313.2,2254.6 C309.8,2249.1 306.4,2243.7 302.9,2238.3 C299.5,2232.9 296.0,2227.5 292.4,2222.2 C288.9,2216.9 285.3,2211.5 281.7,2206.3 C278.1,2201.0 274.4,2195.8 270.7,2190.6 C266.9,2185.3 263.2,2180.2 259.4,2175.0 C255.5,2169.9 251.7,2164.8 247.8,2159.8 C243.9,2154.7 239.9,2149.7 235.9,2144.7 C231.9,2139.8 227.8,2134.8 223.7,2129.9 C219.5,2125.0 215.4,2120.2 211.1,2115.4 C206.9,2110.6 202.6,2105.9 198.3,2101.1 C193.9,2096.4 189.5,2091.8 185.1,2087.2 C180.6,2082.6 176.1,2078.0 171.5,2073.5 C166.9,2069.0 162.3,2064.5 157.6,2060.1 C152.8,2055.7 147.8,2051.1 143.2,2047.1 C138.7,2043.1 132.4,2038.0 130.2,2036.2" fill="none" stroke="#c55a11" stroke-width="8.4"/>
<polygon points="113.4,2022.0 138.1,2028.4 123.9,2045.2" fill="#c55a11"/>
<path d="M507.8,2583.0 C509.1,2580.1 513.1,2571.4 515.7,2565.5 C518.3,2559.7 521.0,2553.9 523.6,2548.0 C526.3,2542.2 528.9,2536.3 531.6,2530.4 C534.2,2524.6 536.9,2518.7 539.5,2512.8 C542.2,2506.9 544.9,2501.0 547.6,2495.2 C550.3,2489.3 553.0,2483.4 555.7,2477.5 C558.4,2471.6 561.1,2465.7 563.8,2459.9 C566.6,2454.0 569.3,2448.1 572.1,2442.2 C574.9,2436.3 577.7,2430.5 580.5,2424.6 C583.3,2418.7 586.1,2412.9 588.9,2407.0 C591.8,2401.2 594.6,2395.3 597.5,2389.5 C600.4,2383.7 603.3,2377.9 606.2,2372.0 C609.2,2366.2 612.1,2360.5 615.1,2354.7 C618.1,2348.9 621.1,2343.1 624.2,2337.4 C627.2,2331.6 630.3,2325.9 633.4,2320.2 C636.5,2314.5 639.6,2308.8 642.8,2303.1 C645.9,2297.5 649.1,2291.8 652.4,2286.2 C655.6,2280.6 658.9,2275.0 662.2,2269.4 C665.5,2263.9 668.8,2258.3 672.2,2252.8 C675.6,2247.3 679.0,2241.8 682.4,2236.3 C685.9,2230.9 689.4,2225.5 692.9,2220.1 C696.5,2214.7 700.1,2209.3 703.7,2204.0 C707.3,2198.7 711.0,2193.4 714.7,2188.1 C718.5,2182.9 722.2,2177.6 726.0,2172.5 C729.9,2167.3 733.7,2162.1 737.6,2157.1 C741.6,2152.0 745.5,2146.9 749.6,2141.9 C753.6,2136.9 757.7,2131.9 761.8,2127.0 C765.9,2122.1 770.1,2117.2 774.4,2112.3 C778.6,2107.5 782.9,2102.7 787.3,2098.0 C791.6,2093.3 796.0,2088.6 800.5,2084.0 C805.0,2079.3 809.6,2074.8 814.2,2070.2 C818.8,2065.7 823.4,2061.2 828.2,2056.8 C832.9,2052.4 838.0,2047.8 842.6,2043.8 C847.2,2039.8 853.5,2034.6 855.7,2032.8" fill="none" stroke="#c55a11" stroke-width="8.4"/>
<polygon points="872.6,2018.7 862.0,2041.9 847.9,2025.0" fill="#c55a11"/>
<path d="M475.5,2218.0 C472.8,2215.7 464.4,2208.8 459.0,2204.0 C453.6,2199.3 448.4,2194.5 443.3,2189.5 C438.2,2184.6 433.2,2179.6 428.3,2174.5 C423.5,2169.4 418.7,2164.2 414.1,2158.9 C409.5,2153.6 405.1,2148.3 400.7,2142.8 C396.4,2137.4 392.2,2131.9 388.1,2126.3 C384.1,2120.7 380.1,2115.1 376.3,2109.3 C372.5,2103.6 368.9,2097.8 365.3,2092.0 C361.8,2086.1 358.4,2080.2 355.1,2074.2 C351.8,2068.2 348.7,2062.1 345.7,2056.0 C342.6,2049.9 339.7,2043.7 337.0,2037.5 C334.2,2031.3 331.5,2025.0 329.0,2018.7 C326.5,2012.4 324.1,2006.0 321.8,1999.6 C319.5,1993.2 317.3,1986.7 315.3,1980.2 C313.2,1973.7 311.2,1967.1 309.4,1960.5 C307.5,1953.9 305.8,1947.3 304.2,1940.6 C302.5,1934.0 301.0,1927.3 299.5,1920.5 C298.1,1913.8 296.7,1907.0 295.5,1900.2 C294.2,1893.5 293.0,1886.6 291.9,1879.8 C290.8,1872.9 289.8,1866.1 288.9,1859.2 C287.9,1852.3 287.0,1845.4 286.2,1838.5 C285.4,1831.6 284.6,1824.6 283.9,1817.7 C283.2,1810.7 282.6,1803.8 282.0,1796.8 C281.3,1789.8 280.8,1782.9 280.2,1775.9 C279.7,1768.9 279.2,1761.9 278.7,1754.9 C278.2,1747.9 277.8,1740.9 277.3,1733.9 C276.8,1727.0 276.4,1720.0 275.9,1713.0 C275.5,1706.0 275.0,1699.0 274.5,1692.1 C274.1,1685.1 273.6,1678.2 273.0,1671.2 C272.5,1664.3 272.0,1657.4 271.3,1650.4 C270.7,1643.5 270.1,1636.6 269.4,1629.8 C268.7,1622.9 267.9,1616.0 267.0,1609.2 C266.2,1602.4 265.3,1595.5 264.3,1588.8 C263.2,1582.1 261.3,1572.4 260.7,1569.2" fill="none" stroke="#ffc000" stroke-width="7.6"/>
<polygon points="256.9,1548.5 271.7,1568.2 250.0,1572.1" fill="#ffc000"/>
<path d="M517.5,2218.0 C520.2,2215.8 528.6,2209.2 533.9,2204.7 C539.2,2200.1 544.3,2195.3 549.2,2190.5 C554.2,2185.6 559.0,2180.6 563.7,2175.5 C568.3,2170.4 572.8,2165.1 577.1,2159.8 C581.5,2154.5 585.6,2149.0 589.7,2143.5 C593.7,2137.9 597.6,2132.3 601.4,2126.5 C605.1,2120.8 608.7,2115.0 612.2,2109.1 C615.6,2103.2 619.0,2097.2 622.2,2091.2 C625.4,2085.1 628.5,2079.0 631.4,2072.8 C634.4,2066.6 637.2,2060.4 639.9,2054.1 C642.6,2047.8 645.2,2041.4 647.6,2035.0 C650.1,2028.6 652.5,2022.1 654.7,2015.6 C657.0,2009.2 659.1,2002.6 661.1,1996.1 C663.2,1989.5 665.1,1982.9 667.0,1976.2 C668.8,1969.6 670.5,1962.9 672.2,1956.3 C673.9,1949.6 675.4,1942.9 676.9,1936.1 C678.4,1929.4 679.8,1922.6 681.1,1915.9 C682.5,1909.1 683.7,1902.3 684.9,1895.5 C686.1,1888.8 687.2,1882.0 688.2,1875.1 C689.3,1868.3 690.3,1861.5 691.2,1854.7 C692.1,1847.9 693.0,1841.0 693.8,1834.2 C694.7,1827.4 695.5,1820.5 696.2,1813.7 C696.9,1806.9 697.6,1800.0 698.3,1793.2 C699.0,1786.4 699.6,1779.5 700.2,1772.7 C700.8,1765.8 701.4,1759.0 702.0,1752.2 C702.5,1745.3 703.1,1738.5 703.6,1731.7 C704.2,1724.8 704.7,1718.0 705.2,1711.2 C705.7,1704.4 706.2,1697.5 706.8,1690.7 C707.3,1683.9 707.8,1677.0 708.4,1670.2 C708.9,1663.4 709.5,1656.6 710.1,1649.7 C710.6,1642.9 711.2,1636.0 711.9,1629.2 C712.5,1622.3 713.2,1615.5 713.9,1608.6 C714.6,1601.8 715.3,1594.9 716.1,1588.0 C716.9,1581.1 718.3,1570.8 718.8,1567.3" fill="none" stroke="#ffc000" stroke-width="7.6"/>
<polygon points="721.5,1546.5 729.6,1569.7 707.8,1566.9" fill="#ffc000"/>
<path d="M834.8,2218.0 C833.4,2213.9 829.4,2201.7 826.5,2193.6 C823.7,2185.4 820.7,2177.4 817.7,2169.3 C814.6,2161.3 811.4,2153.2 808.2,2145.2 C805.0,2137.3 801.6,2129.3 798.3,2121.3 C794.9,2113.4 791.4,2105.5 787.9,2097.6 C784.3,2089.7 780.7,2081.8 777.0,2074.0 C773.4,2066.2 769.6,2058.4 765.8,2050.6 C762.0,2042.8 758.2,2035.1 754.3,2027.3 C750.3,2019.6 746.4,2011.9 742.3,2004.3 C738.2,1996.7 734.1,1989.0 730.0,1981.5 C725.8,1973.9 721.5,1966.4 717.2,1958.9 C712.9,1951.4 708.5,1944.0 704.1,1936.6 C699.6,1929.2 695.1,1921.9 690.5,1914.6 C685.9,1907.3 681.2,1900.1 676.4,1892.9 C671.6,1885.8 666.8,1878.7 661.9,1871.6 C656.9,1864.6 651.9,1857.6 646.8,1850.7 C641.7,1843.8 636.5,1837.0 631.2,1830.2 C625.9,1823.5 620.5,1816.8 615.0,1810.2 C609.5,1803.6 603.9,1797.1 598.2,1790.7 C592.5,1784.3 586.7,1777.9 580.8,1771.7 C574.9,1765.4 568.9,1759.3 562.8,1753.2 C556.7,1747.1 550.5,1741.1 544.2,1735.2 C537.8,1729.4 531.4,1723.6 524.9,1717.9 C518.4,1712.2 511.7,1706.6 505.0,1701.1 C498.3,1695.6 491.5,1690.1 484.6,1684.8 C477.7,1679.5 470.7,1674.3 463.6,1669.2 C456.5,1664.0 449.3,1659.0 442.1,1654.0 C434.9,1649.1 427.5,1644.2 420.2,1639.5 C412.8,1634.7 405.4,1630.0 397.9,1625.4 C390.5,1620.8 382.9,1616.2 375.4,1611.8 C367.9,1607.3 360.3,1602.9 352.8,1598.6 C345.3,1594.2 337.7,1589.9 330.2,1585.7 C322.7,1581.5 315.2,1577.3 307.8,1573.1 C300.4,1569.0 290.0,1563.1 285.8,1560.8 C281.6,1558.4 283.1,1559.2 282.5,1558.9" fill="none" stroke="#ffc000" stroke-width="7.6"/>
<polygon points="264.3,1548.5 288.9,1549.9 277.9,1569.0" fill="#ffc000"/>
<path d="M154.5,2218.0 C157.5,2214.8 167.1,2205.6 172.6,2198.9 C178.0,2192.3 182.8,2185.4 187.3,2178.3 C191.8,2171.2 195.8,2163.8 199.6,2156.3 C203.4,2148.9 206.8,2141.2 210.0,2133.5 C213.3,2125.7 216.3,2117.8 219.2,2109.9 C222.2,2102.0 225.0,2094.0 227.7,2085.9 C230.5,2077.9 233.2,2069.8 236.0,2061.7 C238.7,2053.7 241.4,2045.6 244.3,2037.5 C247.1,2029.5 249.9,2021.4 252.9,2013.4 C255.9,2005.4 259.0,1997.5 262.2,1989.6 C265.4,1981.7 268.8,1973.8 272.3,1966.1 C275.8,1958.3 279.4,1950.6 283.2,1943.0 C287.0,1935.4 291.0,1927.9 295.1,1920.5 C299.2,1913.1 303.5,1905.7 308.0,1898.5 C312.4,1891.2 317.1,1884.1 321.9,1877.0 C326.6,1870.0 331.6,1863.1 336.7,1856.2 C341.8,1849.4 347.0,1842.6 352.4,1836.0 C357.8,1829.3 363.3,1822.8 368.9,1816.3 C374.5,1809.9 380.3,1803.5 386.1,1797.3 C392.0,1791.0 398.0,1784.8 404.0,1778.7 C410.0,1772.7 416.2,1766.7 422.3,1760.7 C428.5,1754.8 434.8,1749.0 441.1,1743.3 C447.4,1737.5 453.7,1731.8 460.1,1726.2 C466.5,1720.7 473.0,1715.1 479.4,1709.7 C485.9,1704.2 492.3,1698.9 498.8,1693.5 C505.3,1688.2 511.8,1683.0 518.4,1677.8 C524.9,1672.6 531.5,1667.5 538.0,1662.5 C544.6,1657.4 551.2,1652.5 557.8,1647.5 C564.4,1642.6 571.1,1637.8 577.8,1633.0 C584.5,1628.2 591.2,1623.5 598.0,1618.9 C604.9,1614.3 611.7,1609.7 618.8,1605.3 C625.8,1600.8 632.9,1596.5 640.2,1592.2 C647.5,1587.9 654.9,1583.7 662.5,1579.7 C670.2,1575.6 681.2,1570.3 686.2,1567.9 C691.2,1565.5 691.3,1565.7 692.3,1565.2" fill="none" stroke="#ffc000" stroke-width="7.6"/>
<polygon points="711.6,1556.9 695.8,1575.7 687.0,1555.5" fill="#ffc000"/>
<path d="M470.7,2583.0 C466.7,2579.5 454.4,2569.4 446.8,2562.2 C439.2,2555.0 432.0,2547.5 425.0,2539.9 C418.1,2532.2 411.6,2524.3 405.3,2516.2 C399.1,2508.1 393.1,2499.8 387.5,2491.4 C381.9,2482.9 376.6,2474.3 371.5,2465.5 C366.5,2456.7 361.7,2447.7 357.2,2438.6 C352.7,2429.5 348.5,2420.3 344.5,2410.9 C340.5,2401.6 336.8,2392.1 333.3,2382.6 C329.8,2373.0 326.5,2363.3 323.4,2353.6 C320.3,2343.8 317.5,2334.0 314.8,2324.1 C312.1,2314.2 309.6,2304.2 307.3,2294.1 C304.9,2284.1 302.8,2274.0 300.8,2263.9 C298.8,2253.7 296.9,2243.5 295.2,2233.3 C293.5,2223.1 291.9,2212.8 290.5,2202.6 C289.0,2192.3 287.7,2182.0 286.4,2171.6 C285.2,2161.3 284.1,2151.0 283.0,2140.6 C281.9,2130.2 281.0,2119.9 280.1,2109.5 C279.2,2099.1 278.4,2088.7 277.6,2078.4 C276.9,2068.0 276.2,2057.6 275.5,2047.2 C274.9,2036.9 274.3,2026.5 273.7,2016.2 C273.1,2005.8 272.6,1995.4 272.0,1985.1 C271.5,1974.8 271.0,1964.4 270.6,1954.1 C270.1,1943.8 269.6,1933.5 269.2,1923.2 C268.7,1912.9 268.3,1902.6 267.8,1892.3 C267.4,1882.1 267.0,1871.8 266.5,1861.5 C266.1,1851.3 265.6,1841.0 265.2,1830.8 C264.7,1820.6 264.3,1810.4 263.8,1800.1 C263.4,1789.9 262.9,1779.7 262.4,1769.5 C262.0,1759.3 261.5,1749.1 261.0,1738.9 C260.5,1728.7 260.0,1718.5 259.6,1708.2 C259.1,1698.0 258.6,1687.8 258.1,1677.6 C257.7,1667.3 257.2,1657.1 256.8,1646.8 C256.3,1636.6 255.9,1626.3 255.5,1616.0 C255.1,1605.7 254.6,1591.7 254.4,1585.0 C254.2,1578.4 254.2,1577.4 254.2,1575.9" fill="none" stroke="#7030a0" stroke-width="8"/>
<polygon points="253.6,1553.9 264.7,1576.6 243.7,1577.2" fill="#7030a0"/>
<path d="M514.9,2583.0 C518.9,2579.6 531.5,2569.7 539.2,2562.6 C546.9,2555.5 554.2,2548.0 561.2,2540.3 C568.2,2532.6 574.8,2524.6 581.1,2516.4 C587.3,2508.2 593.3,2499.8 598.9,2491.2 C604.5,2482.5 609.8,2473.7 614.8,2464.7 C619.8,2455.7 624.5,2446.5 628.9,2437.2 C633.4,2427.9 637.5,2418.5 641.4,2409.0 C645.3,2399.4 649.0,2389.8 652.4,2380.0 C655.8,2370.3 659.0,2360.4 661.9,2350.5 C664.9,2340.6 667.7,2330.7 670.2,2320.6 C672.8,2310.6 675.2,2300.5 677.4,2290.4 C679.6,2280.3 681.6,2270.1 683.5,2260.0 C685.4,2249.8 687.1,2239.6 688.7,2229.3 C690.3,2219.1 691.7,2208.8 693.1,2198.6 C694.5,2188.3 695.7,2178.0 696.8,2167.7 C698.0,2157.5 699.0,2147.2 700.0,2136.9 C701.0,2126.6 701.8,2116.3 702.7,2106.0 C703.5,2095.7 704.2,2085.4 705.0,2075.1 C705.7,2064.8 706.3,2054.5 707.0,2044.2 C707.6,2033.9 708.2,2023.6 708.7,2013.4 C709.3,2003.1 709.8,1992.8 710.3,1982.5 C710.8,1972.2 711.3,1961.9 711.8,1951.6 C712.3,1941.3 712.8,1931.0 713.3,1920.8 C713.7,1910.5 714.2,1900.2 714.7,1889.9 C715.2,1879.6 715.7,1869.2 716.1,1858.9 C716.6,1848.6 717.1,1838.3 717.6,1828.0 C718.1,1817.6 718.6,1807.3 719.0,1796.9 C719.5,1786.6 720.0,1776.2 720.5,1765.8 C721.0,1755.5 721.5,1745.1 721.9,1734.7 C722.4,1724.3 722.9,1713.9 723.3,1703.5 C723.7,1693.1 724.2,1682.7 724.5,1672.3 C724.9,1661.8 725.3,1651.4 725.5,1641.0 C725.8,1630.6 726.1,1620.1 726.2,1609.7 C726.4,1599.3 726.5,1585.2 726.5,1578.5 C726.5,1571.7 726.4,1570.8 726.4,1569.3" fill="none" stroke="#7030a0" stroke-width="8"/>
<polygon points="726.2,1547.3 736.9,1570.2 715.9,1570.4" fill="#7030a0"/>
<path d="M154.5,2218.0 C155.7,2215.0 159.2,2206.1 161.8,2200.3 C164.4,2194.4 167.2,2188.6 170.0,2182.9 C172.8,2177.1 175.7,2171.4 178.6,2165.7 C181.6,2160.0 184.6,2154.3 187.5,2148.5 C190.5,2142.8 193.5,2137.1 196.4,2131.4 C199.3,2125.7 202.2,2119.9 205.1,2114.1 C207.9,2108.4 210.6,2102.6 213.3,2096.7 C216.0,2090.9 218.5,2085.0 221.0,2079.1 C223.5,2073.2 225.8,2067.2 228.1,2061.2 C230.3,2055.2 232.4,2049.2 234.4,2043.1 C236.4,2037.1 238.3,2030.9 240.0,2024.8 C241.7,2018.6 243.3,2012.4 244.8,2006.2 C246.2,1999.9 247.6,1993.6 248.8,1987.3 C250.0,1981.0 251.1,1974.6 252.0,1968.3 C253.0,1961.9 253.8,1955.5 254.5,1949.0 C255.3,1942.6 255.9,1936.1 256.4,1929.7 C256.9,1923.2 257.3,1916.7 257.6,1910.2 C257.9,1903.7 258.1,1897.2 258.2,1890.7 C258.4,1884.1 258.4,1877.6 258.4,1871.1 C258.4,1864.6 258.3,1858.0 258.2,1851.5 C258.1,1845.0 257.9,1838.5 257.7,1832.0 C257.4,1825.5 257.2,1819.0 256.9,1812.6 C256.6,1806.1 256.3,1799.7 256.0,1793.2 C255.7,1786.8 255.4,1780.4 255.0,1774.0 C254.7,1767.6 254.3,1761.3 254.0,1754.9 C253.7,1748.6 253.4,1742.3 253.0,1735.9 C252.7,1729.6 252.4,1723.4 252.1,1717.1 C251.9,1710.8 251.6,1704.6 251.3,1698.3 C251.1,1692.1 250.8,1685.8 250.6,1679.6 C250.4,1673.3 250.2,1667.1 249.9,1660.8 C249.7,1654.5 249.5,1648.3 249.3,1642.0 C249.1,1635.6 248.9,1629.3 248.6,1622.9 C248.3,1616.5 248.1,1610.0 247.7,1603.6 C247.4,1597.1 246.7,1587.6 246.4,1584.4" fill="none" stroke="#ffc000" stroke-width="7.6"/>
<polygon points="245.0,1563.4 257.5,1584.6 235.5,1586.1" fill="#ffc000"/>
<path d="M834.8,2218.0 C833.3,2215.1 829.0,2206.3 825.9,2200.5 C822.8,2194.7 819.6,2189.0 816.4,2183.2 C813.2,2177.5 809.8,2171.8 806.6,2166.1 C803.3,2160.4 800.0,2154.7 796.7,2148.9 C793.5,2143.2 790.3,2137.5 787.1,2131.7 C784.0,2126.0 780.9,2120.2 777.9,2114.4 C775.0,2108.6 772.1,2102.7 769.3,2096.8 C766.6,2091.0 764.0,2085.0 761.5,2079.1 C759.0,2073.1 756.6,2067.1 754.3,2061.1 C752.1,2055.0 750.0,2048.9 748.1,2042.8 C746.1,2036.6 744.4,2030.4 742.7,2024.2 C741.0,2018.0 739.5,2011.7 738.2,2005.4 C736.8,1999.1 735.6,1992.7 734.5,1986.3 C733.4,1980.0 732.5,1973.5 731.6,1967.1 C730.8,1960.6 730.1,1954.1 729.5,1947.6 C728.9,1941.1 728.5,1934.5 728.1,1927.9 C727.7,1921.4 727.4,1914.8 727.2,1908.2 C727.0,1901.6 727.0,1894.9 726.9,1888.3 C726.9,1881.7 726.9,1875.0 727.0,1868.4 C727.1,1861.8 727.2,1855.1 727.4,1848.5 C727.6,1841.8 727.8,1835.2 728.0,1828.6 C728.3,1821.9 728.5,1815.3 728.8,1808.7 C729.1,1802.1 729.4,1795.5 729.6,1788.9 C729.9,1782.3 730.2,1775.8 730.5,1769.2 C730.7,1762.7 731.0,1756.1 731.3,1749.6 C731.5,1743.1 731.7,1736.6 731.9,1730.2 C732.1,1723.7 732.3,1717.2 732.5,1710.8 C732.7,1704.4 732.8,1697.9 733.0,1691.5 C733.1,1685.1 733.2,1678.7 733.3,1672.3 C733.4,1666.0 733.6,1659.6 733.7,1653.2 C733.8,1646.8 733.9,1640.4 734.1,1634.0 C734.3,1627.6 734.5,1621.2 734.7,1614.7 C735.0,1608.3 735.3,1601.7 735.7,1595.2 C736.2,1588.8 737.3,1579.4 737.6,1576.2" fill="none" stroke="#ffc000" stroke-width="7.6"/>
<polygon points="739.7,1555.3 748.5,1578.3 726.6,1576.1" fill="#ffc000"/>
<rect x="394" y="1462.75" width="164.29999999999995" height="7.5" fill="#7f7f7f"/>
<polygon points="579.3,1466.5 557.3,1455.0 557.3,1478.0" fill="#7f7f7f"/>
<rect x="243" y="1943.15" width="100.19999999999999" height="7.5" fill="#7f7f7f"/>
<polygon points="364.2,1946.9 342.2,1935.4 342.2,1958.4" fill="#7f7f7f"/>
<rect x="270.5" y="2290.15" width="79.19999999999999" height="7.5" fill="#7f7f7f"/>
<polygon points="370.7,2293.9 348.7,2282.4 348.7,2305.4" fill="#7f7f7f"/>
<rect x="635.9" y="1943.15" width="78.0" height="7.5" fill="#2e75b6"/>
<polygon points="614.9,1946.9 636.9,1935.4 636.9,1958.4" fill="#2e75b6"/>
<polygon points="734.9,1946.9 712.9,1935.4 712.9,1958.4" fill="#2e75b6"/>
<rect x="633.8" y="2290.75" width="67.60000000000002" height="7.5" fill="#2e75b6"/>
<polygon points="612.8,2294.5 634.8,2283.0 634.8,2306.0" fill="#2e75b6"/>
<polygon points="722.4,2294.5 700.4,2283.0 700.4,2306.0" fill="#2e75b6"/>
<rect x="150.2" y="1377" width="243.60000000000002" height="169" rx="23" ry="23" fill="#d0cece" stroke="#000" stroke-width="2.6"/>
<text x="275.5" y="1419.3" font-size="40" fill="#000" font-weight="normal" text-anchor="middle" >Herbivore</text>
<text x="275.5" y="1466.9" font-size="40" fill="#000" font-weight="normal" text-anchor="middle" >abundance</text>
<text x="275.5" y="1514.5" font-size="40" fill="#000" font-weight="normal" text-anchor="middle" >stability</text>
<rect x="589.8" y="1377" width="246.0" height="170.5" rx="23" ry="23" fill="#d0cece" stroke="#000" stroke-width="2.6"/>
<text x="713.0" y="1424.5" font-size="40" fill="#000" font-weight="normal" text-anchor="middle" >Herbivore</text>
<text x="713.0" y="1472.1" font-size="40" fill="#000" font-weight="normal" text-anchor="middle" >richness</text>
<text x="713.0" y="1519.7" font-size="40" fill="#000" font-weight="normal" text-anchor="middle" >stability</text>
<rect x="1.5" y="1869.3" width="239.7" height="145.29999999999995" rx="23" ry="23" fill="#d0cece" stroke="#000" stroke-width="2.6"/>
<text x="126.5" y="1936.1" font-size="40" fill="#000" font-weight="normal" text-anchor="middle" >Herbivore</text>
<text x="126.5" y="1983.3" font-size="40" fill="#000" font-weight="normal" text-anchor="middle" >MPD</text>
<rect x="371.6" y="1866.3" width="240.39999999999998" height="144.70000000000005" rx="23" ry="23" fill="#d0cece" stroke="#000" stroke-width="2.6"/>
<text x="501.5" y="1923.0" font-size="40" fill="#000" font-weight="normal" text-anchor="middle" >Herbivore</text>
<text x="501.5" y="1970.6" font-size="40" fill="#000" font-weight="normal" text-anchor="middle" >asynchrony</text>
<rect x="742.4" y="1866.3" width="240.80000000000007" height="144.70000000000005" rx="23" ry="23" fill="#d0cece" stroke="#000" stroke-width="2.6"/>
<text x="862.7" y="1905.7" font-size="40" fill="#000" font-weight="normal" text-anchor="middle" >Herbivore</text>
<text x="862.7" y="1953.3" font-size="40" fill="#000" font-weight="normal" text-anchor="middle" >population</text>
<text x="862.7" y="2000.9" font-size="40" fill="#000" font-weight="normal" text-anchor="middle" >stability</text>
<rect x="29.3" y="2217.2" width="240.8" height="145.30000000000018" rx="23" ry="23" fill="#c6e9b6" stroke="#000" stroke-width="2.6"/>
<text x="143.0" y="2306.7" font-size="40" fill="#000" font-weight="normal" text-anchor="middle" >Tree FD</text>
<rect x="371.6" y="2217.2" width="240.39999999999998" height="145.30000000000018" rx="23" ry="23" fill="#c6e9b6" stroke="#000" stroke-width="2.6"/>
<text x="493.5" y="2275.4" font-size="40" fill="#000" font-weight="normal" text-anchor="middle" >Tree</text>
<text x="493.5" y="2322.6" font-size="40" fill="#000" font-weight="normal" text-anchor="middle" >asynchrony</text>
<rect x="722.4" y="2218.7" width="240.30000000000007" height="145.60000000000036" rx="23" ry="23" fill="#c6e9b6" stroke="#000" stroke-width="2.6"/>
<text x="846.3" y="2254.5" font-size="40" fill="#000" font-weight="normal" text-anchor="middle" >Tree</text>
<text x="846.3" y="2302.1" font-size="40" fill="#000" font-weight="normal" text-anchor="middle" >population</text>
<text x="846.3" y="2349.7" font-size="40" fill="#000" font-weight="normal" text-anchor="middle" >stability</text>
<rect x="362.7" y="2582.5" width="240.90000000000003" height="145.5" rx="23" ry="23" fill="#83cfc0" stroke="#000" stroke-width="2.6"/>
<text x="483.6" y="2621.3" font-size="40" fill="#000" font-weight="normal" text-anchor="middle" >Tree</text>
<text x="483.6" y="2668.5" font-size="40" fill="#000" font-weight="normal" text-anchor="middle" >species</text>
<text x="483.6" y="2715.7" font-size="40" fill="#000" font-weight="normal" text-anchor="middle" >richness</text>
<text x="1015" y="1662" font-size="45" xml:space="preserve"><tspan fill="#000" font-weight="normal">Model 1: all pathways included</tspan></text>
<text x="1015" y="1904" font-size="45" xml:space="preserve"><tspan fill="#000" font-weight="normal">Model 2: </tspan><tspan fill="#7f7f7f" font-weight="bold">grey,</tspan><tspan fill="#7030a0" font-weight="bold"> purple</tspan><tspan fill="#000" font-weight="normal"> and </tspan><tspan fill="#843c0c" font-weight="bold">brown</tspan><tspan fill="#000" font-weight="normal"> pathways included</tspan></text>
<text x="1015" y="2147.2" font-size="45" xml:space="preserve"><tspan fill="#000" font-weight="normal">Model 3: </tspan><tspan fill="#7f7f7f" font-weight="bold">grey</tspan><tspan fill="#000" font-weight="normal"> and </tspan><tspan fill="#843c0c" font-weight="bold">brown</tspan><tspan fill="#000" font-weight="normal"> pathways included</tspan></text>
<text x="1015" y="2389" font-size="45" xml:space="preserve"><tspan fill="#000" font-weight="normal">Model 4: </tspan><tspan fill="#7f7f7f" font-weight="bold">grey</tspan><tspan fill="#000" font-weight="normal"> pathways included</tspan></text>
</svg>
</body></html>
